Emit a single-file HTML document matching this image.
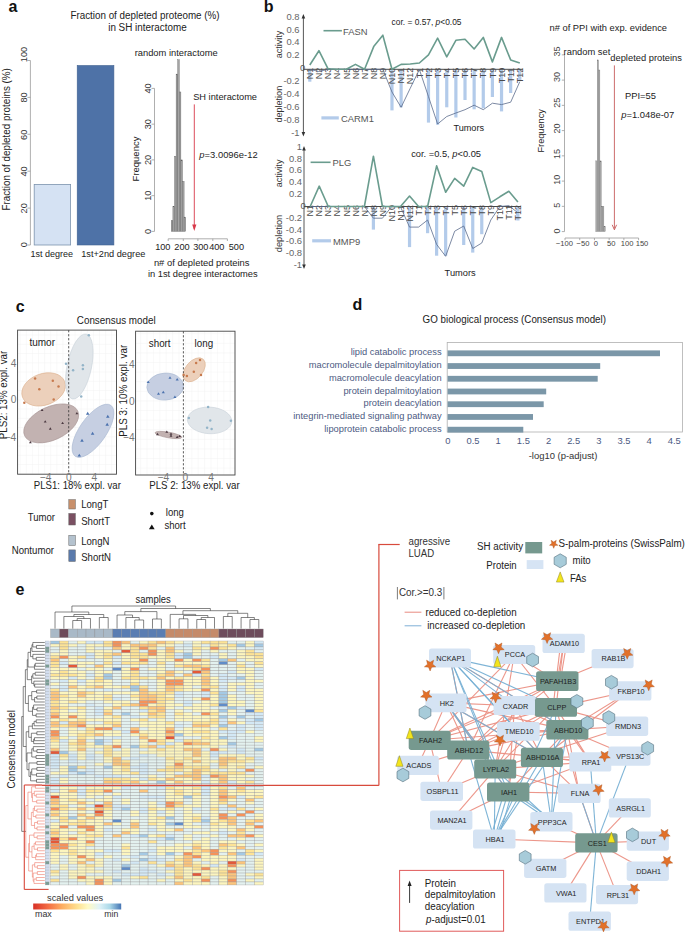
<!DOCTYPE html>
<html><head><meta charset="utf-8"><style>
html,body{margin:0;padding:0;background:#fff;width:685px;height:932px;overflow:hidden}
svg{display:block}
text{font-family:"Liberation Sans",sans-serif}
</style></head><body>
<svg width="685" height="932" viewBox="0 0 685 932">
<text x="8.60" y="12.20" font-size="16" fill="#111" font-weight="bold">a</text>
<text x="263.80" y="12.40" font-size="16" fill="#111" font-weight="bold">b</text>
<text x="15.80" y="311.80" font-size="16" fill="#111" font-weight="bold">c</text>
<text x="352.40" y="310.30" font-size="16" fill="#111" font-weight="bold">d</text>
<text x="15.60" y="595.40" font-size="16" fill="#111" font-weight="bold">e</text>
<text x="70.40" y="19.00" font-size="10.39" fill="#222" textLength="149.2" lengthAdjust="spacingAndGlyphs">Fraction of depleted proteome (%)</text>
<text x="108.20" y="30.70" font-size="10.39" fill="#222" textLength="78.5" lengthAdjust="spacingAndGlyphs">in SH interactome</text>
<line x1="30.40" y1="60.50" x2="30.40" y2="245.00" stroke="#9a9a9a" stroke-width="0.8"/>
<line x1="27.40" y1="245.00" x2="30.40" y2="245.00" stroke="#9a9a9a" stroke-width="0.8"/>
<line x1="27.40" y1="208.10" x2="30.40" y2="208.10" stroke="#9a9a9a" stroke-width="0.8"/>
<line x1="27.40" y1="171.20" x2="30.40" y2="171.20" stroke="#9a9a9a" stroke-width="0.8"/>
<line x1="27.40" y1="134.30" x2="30.40" y2="134.30" stroke="#9a9a9a" stroke-width="0.8"/>
<line x1="27.40" y1="97.40" x2="30.40" y2="97.40" stroke="#9a9a9a" stroke-width="0.8"/>
<line x1="27.40" y1="60.50" x2="30.40" y2="60.50" stroke="#9a9a9a" stroke-width="0.8"/>
<text x="27.00" y="244.60" font-size="9.75" fill="#333" text-anchor="middle" textLength="5.12" lengthAdjust="spacingAndGlyphs" transform="rotate(-90 27.00 244.60)">0</text>
<text x="27.00" y="208.30" font-size="9.75" fill="#333" text-anchor="middle" textLength="10.23" lengthAdjust="spacingAndGlyphs" transform="rotate(-90 27.00 208.30)">20</text>
<text x="27.00" y="171.50" font-size="9.75" fill="#333" text-anchor="middle" textLength="10.23" lengthAdjust="spacingAndGlyphs" transform="rotate(-90 27.00 171.50)">40</text>
<text x="27.00" y="134.80" font-size="9.75" fill="#333" text-anchor="middle" textLength="10.23" lengthAdjust="spacingAndGlyphs" transform="rotate(-90 27.00 134.80)">60</text>
<text x="27.00" y="97.40" font-size="9.75" fill="#333" text-anchor="middle" textLength="10.23" lengthAdjust="spacingAndGlyphs" transform="rotate(-90 27.00 97.40)">80</text>
<text x="27.00" y="54.50" font-size="9.75" fill="#333" text-anchor="middle" textLength="15.35" lengthAdjust="spacingAndGlyphs" transform="rotate(-90 27.00 54.50)">100</text>
<text x="9.60" y="139.40" font-size="10.6" fill="#222" text-anchor="middle" textLength="142.4" lengthAdjust="spacingAndGlyphs" transform="rotate(-90 9.60 139.40)">Fraction of depleted proteins (%)</text>
<rect x="34.20" y="184.50" width="36.40" height="60.50" fill="#d5e2f3" stroke="#7c93ad" stroke-width="0.8" rx="0"/>
<rect x="77.20" y="65.50" width="36.70" height="179.50" fill="#4e72a7" stroke="#41628f" stroke-width="0.6" rx="0"/>
<text x="30.40" y="257.00" font-size="9.75" fill="#222" textLength="42.6" lengthAdjust="spacingAndGlyphs">1st degree</text>
<text x="81.20" y="257.00" font-size="9.75" fill="#222" textLength="64.19" lengthAdjust="spacingAndGlyphs">1st+2nd degree</text>
<text x="134.70" y="56.30" font-size="9.96" fill="#222" textLength="83" lengthAdjust="spacingAndGlyphs">random interactome</text>
<text x="193.20" y="100.30" font-size="9.96" fill="#222" textLength="63.8" lengthAdjust="spacingAndGlyphs">SH interactome</text>
<line x1="154.50" y1="88.40" x2="154.50" y2="231.40" stroke="#9a9a9a" stroke-width="0.8"/>
<line x1="151.50" y1="231.40" x2="154.50" y2="231.40" stroke="#9a9a9a" stroke-width="0.8"/>
<text x="151.00" y="231.40" font-size="9.75" fill="#333" text-anchor="middle" textLength="5.12" lengthAdjust="spacingAndGlyphs" transform="rotate(-90 151.00 231.40)">0</text>
<line x1="151.50" y1="195.65" x2="154.50" y2="195.65" stroke="#9a9a9a" stroke-width="0.8"/>
<text x="151.00" y="195.65" font-size="9.75" fill="#333" text-anchor="middle" textLength="10.23" lengthAdjust="spacingAndGlyphs" transform="rotate(-90 151.00 195.65)">10</text>
<line x1="151.50" y1="159.90" x2="154.50" y2="159.90" stroke="#9a9a9a" stroke-width="0.8"/>
<text x="151.00" y="159.90" font-size="9.75" fill="#333" text-anchor="middle" textLength="10.23" lengthAdjust="spacingAndGlyphs" transform="rotate(-90 151.00 159.90)">20</text>
<line x1="151.50" y1="124.15" x2="154.50" y2="124.15" stroke="#9a9a9a" stroke-width="0.8"/>
<text x="151.00" y="124.15" font-size="9.75" fill="#333" text-anchor="middle" textLength="10.23" lengthAdjust="spacingAndGlyphs" transform="rotate(-90 151.00 124.15)">30</text>
<line x1="151.50" y1="88.40" x2="154.50" y2="88.40" stroke="#9a9a9a" stroke-width="0.8"/>
<text x="151.00" y="88.40" font-size="9.75" fill="#333" text-anchor="middle" textLength="10.23" lengthAdjust="spacingAndGlyphs" transform="rotate(-90 151.00 88.40)">40</text>
<text x="139.40" y="159.00" font-size="9.96" fill="#222" text-anchor="middle" textLength="44.8" lengthAdjust="spacingAndGlyphs" transform="rotate(-90 139.40 159.00)">Frequency</text>
<rect x="171.20" y="220.68" width="1.70" height="10.73" fill="#a4a4a4" stroke="#5a5a5a" stroke-width="0.35" rx="0"/>
<rect x="172.90" y="206.38" width="1.60" height="25.03" fill="#a4a4a4" stroke="#5a5a5a" stroke-width="0.35" rx="0"/>
<rect x="174.50" y="156.32" width="1.60" height="75.08" fill="#a4a4a4" stroke="#5a5a5a" stroke-width="0.35" rx="0"/>
<rect x="176.10" y="74.10" width="1.60" height="157.30" fill="#a4a4a4" stroke="#5a5a5a" stroke-width="0.35" rx="0"/>
<rect x="177.70" y="59.80" width="1.60" height="171.60" fill="#a4a4a4" stroke="#5a5a5a" stroke-width="0.35" rx="0"/>
<rect x="179.30" y="91.97" width="1.60" height="139.43" fill="#a4a4a4" stroke="#5a5a5a" stroke-width="0.35" rx="0"/>
<rect x="180.90" y="159.90" width="1.60" height="71.50" fill="#a4a4a4" stroke="#5a5a5a" stroke-width="0.35" rx="0"/>
<rect x="182.50" y="181.35" width="1.60" height="50.05" fill="#a4a4a4" stroke="#5a5a5a" stroke-width="0.35" rx="0"/>
<rect x="184.10" y="217.10" width="1.60" height="14.30" fill="#a4a4a4" stroke="#5a5a5a" stroke-width="0.35" rx="0"/>
<line x1="194.30" y1="104.40" x2="194.30" y2="229.00" stroke="#d8394a" stroke-width="0.9"/>
<polygon points="192.20,224.50 196.40,224.50 194.30,231.00" fill="#d8394a" stroke="none" stroke-width="0"/>
<text x="199.30" y="158.00" font-size="9.96" fill="#222" font-style="italic" textLength="5.23" lengthAdjust="spacingAndGlyphs">p</text>
<text x="204.60" y="158.00" font-size="9.96" fill="#222" textLength="53.05" lengthAdjust="spacingAndGlyphs">=3.0096e-12</text>
<line x1="168.20" y1="238.80" x2="227.40" y2="238.80" stroke="#9a9a9a" stroke-width="0.8"/>
<line x1="168.20" y1="238.80" x2="168.20" y2="241.00" stroke="#9a9a9a" stroke-width="0.8"/>
<line x1="183.30" y1="238.80" x2="183.30" y2="241.00" stroke="#9a9a9a" stroke-width="0.8"/>
<line x1="197.90" y1="238.80" x2="197.90" y2="241.00" stroke="#9a9a9a" stroke-width="0.8"/>
<line x1="212.80" y1="238.80" x2="212.80" y2="241.00" stroke="#9a9a9a" stroke-width="0.8"/>
<line x1="227.40" y1="238.80" x2="227.40" y2="241.00" stroke="#9a9a9a" stroke-width="0.8"/>
<text x="162.80" y="249.70" font-size="9.75" fill="#222" text-anchor="middle" textLength="15.35" lengthAdjust="spacingAndGlyphs">100</text>
<text x="182.00" y="249.70" font-size="9.75" fill="#222" text-anchor="middle" textLength="15.35" lengthAdjust="spacingAndGlyphs">200</text>
<text x="200.80" y="249.70" font-size="9.75" fill="#222" text-anchor="middle" textLength="15.35" lengthAdjust="spacingAndGlyphs">300</text>
<text x="216.80" y="249.70" font-size="9.75" fill="#222" text-anchor="middle" textLength="15.35" lengthAdjust="spacingAndGlyphs">400</text>
<text x="236.40" y="249.70" font-size="9.75" fill="#222" text-anchor="middle" textLength="15.35" lengthAdjust="spacingAndGlyphs">500</text>
<text x="201.70" y="266.20" font-size="9.96" fill="#222" text-anchor="middle" textLength="95.63" lengthAdjust="spacingAndGlyphs">n# of depleted proteins</text>
<text x="202.80" y="277.20" font-size="9.96" fill="#222" text-anchor="middle" textLength="109.8" lengthAdjust="spacingAndGlyphs">in 1st degree interactomes</text>
<rect x="308.20" y="69.30" width="3.20" height="12.40" fill="#b3cbea" stroke="none" stroke-width="0" rx="0"/>
<rect x="390.37" y="69.30" width="3.20" height="41.10" fill="#b3cbea" stroke="none" stroke-width="0" rx="0"/>
<rect x="399.50" y="69.30" width="3.20" height="38.00" fill="#b3cbea" stroke="none" stroke-width="0" rx="0"/>
<rect x="426.89" y="69.30" width="3.20" height="53.30" fill="#b3cbea" stroke="none" stroke-width="0" rx="0"/>
<rect x="436.02" y="69.30" width="3.20" height="55.40" fill="#b3cbea" stroke="none" stroke-width="0" rx="0"/>
<rect x="445.15" y="69.30" width="3.20" height="38.00" fill="#b3cbea" stroke="none" stroke-width="0" rx="0"/>
<rect x="454.28" y="69.30" width="3.20" height="48.20" fill="#b3cbea" stroke="none" stroke-width="0" rx="0"/>
<rect x="463.41" y="69.30" width="3.20" height="30.70" fill="#b3cbea" stroke="none" stroke-width="0" rx="0"/>
<rect x="472.54" y="69.30" width="3.20" height="40.00" fill="#b3cbea" stroke="none" stroke-width="0" rx="0"/>
<rect x="481.67" y="69.30" width="3.20" height="39.00" fill="#b3cbea" stroke="none" stroke-width="0" rx="0"/>
<rect x="490.80" y="69.30" width="3.20" height="27.70" fill="#b3cbea" stroke="none" stroke-width="0" rx="0"/>
<rect x="499.93" y="69.30" width="3.20" height="42.10" fill="#b3cbea" stroke="none" stroke-width="0" rx="0"/>
<rect x="509.06" y="69.30" width="3.20" height="23.70" fill="#b3cbea" stroke="none" stroke-width="0" rx="0"/>
<rect x="518.19" y="69.30" width="3.20" height="11.40" fill="#b3cbea" stroke="none" stroke-width="0" rx="0"/>
<line x1="303.40" y1="69.30" x2="522.79" y2="69.30" stroke="#333" stroke-width="0.9"/>
<text x="313.00" y="67.70" font-size="9.54" fill="#4a4a4a" text-anchor="end" textLength="11.5" lengthAdjust="spacingAndGlyphs" transform="rotate(-90 313.00 67.70)">N1</text>
<text x="322.13" y="67.70" font-size="9.54" fill="#4a4a4a" text-anchor="end" textLength="11.5" lengthAdjust="spacingAndGlyphs" transform="rotate(-90 322.13 67.70)">N2</text>
<text x="331.26" y="67.70" font-size="9.54" fill="#4a4a4a" text-anchor="end" textLength="11.5" lengthAdjust="spacingAndGlyphs" transform="rotate(-90 331.26 67.70)">N3</text>
<text x="340.39" y="67.70" font-size="9.54" fill="#4a4a4a" text-anchor="end" textLength="11.5" lengthAdjust="spacingAndGlyphs" transform="rotate(-90 340.39 67.70)">N4</text>
<text x="349.52" y="67.70" font-size="9.54" fill="#4a4a4a" text-anchor="end" textLength="11.5" lengthAdjust="spacingAndGlyphs" transform="rotate(-90 349.52 67.70)">N5</text>
<text x="358.65" y="67.70" font-size="9.54" fill="#4a4a4a" text-anchor="end" textLength="11.5" lengthAdjust="spacingAndGlyphs" transform="rotate(-90 358.65 67.70)">N6</text>
<text x="367.78" y="67.70" font-size="9.54" fill="#4a4a4a" text-anchor="end" textLength="11.5" lengthAdjust="spacingAndGlyphs" transform="rotate(-90 367.78 67.70)">N7</text>
<text x="376.91" y="67.70" font-size="9.54" fill="#4a4a4a" text-anchor="end" textLength="11.5" lengthAdjust="spacingAndGlyphs" transform="rotate(-90 376.91 67.70)">N8</text>
<text x="386.04" y="67.70" font-size="9.54" fill="#4a4a4a" text-anchor="end" textLength="11.5" lengthAdjust="spacingAndGlyphs" transform="rotate(-90 386.04 67.70)">N9</text>
<text x="395.17" y="67.70" font-size="9.54" fill="#4a4a4a" text-anchor="end" textLength="16.51" lengthAdjust="spacingAndGlyphs" transform="rotate(-90 395.17 67.70)">N10</text>
<text x="404.30" y="67.70" font-size="9.54" fill="#4a4a4a" text-anchor="end" textLength="15.84" lengthAdjust="spacingAndGlyphs" transform="rotate(-90 404.30 67.70)">N11</text>
<text x="413.43" y="67.70" font-size="9.54" fill="#4a4a4a" text-anchor="end" textLength="16.51" lengthAdjust="spacingAndGlyphs" transform="rotate(-90 413.43 67.70)">N12</text>
<text x="422.56" y="67.70" font-size="9.54" fill="#4a4a4a" text-anchor="end" textLength="10.5" lengthAdjust="spacingAndGlyphs" transform="rotate(-90 422.56 67.70)">T1</text>
<text x="431.69" y="67.70" font-size="9.54" fill="#4a4a4a" text-anchor="end" textLength="10.5" lengthAdjust="spacingAndGlyphs" transform="rotate(-90 431.69 67.70)">T2</text>
<text x="440.82" y="67.70" font-size="9.54" fill="#4a4a4a" text-anchor="end" textLength="10.5" lengthAdjust="spacingAndGlyphs" transform="rotate(-90 440.82 67.70)">T3</text>
<text x="449.95" y="67.70" font-size="9.54" fill="#4a4a4a" text-anchor="end" textLength="10.5" lengthAdjust="spacingAndGlyphs" transform="rotate(-90 449.95 67.70)">T4</text>
<text x="459.08" y="67.70" font-size="9.54" fill="#4a4a4a" text-anchor="end" textLength="10.5" lengthAdjust="spacingAndGlyphs" transform="rotate(-90 459.08 67.70)">T5</text>
<text x="468.21" y="67.70" font-size="9.54" fill="#4a4a4a" text-anchor="end" textLength="10.5" lengthAdjust="spacingAndGlyphs" transform="rotate(-90 468.21 67.70)">T6</text>
<text x="477.34" y="67.70" font-size="9.54" fill="#4a4a4a" text-anchor="end" textLength="10.5" lengthAdjust="spacingAndGlyphs" transform="rotate(-90 477.34 67.70)">T7</text>
<text x="486.47" y="67.70" font-size="9.54" fill="#4a4a4a" text-anchor="end" textLength="10.5" lengthAdjust="spacingAndGlyphs" transform="rotate(-90 486.47 67.70)">T8</text>
<text x="495.60" y="67.70" font-size="9.54" fill="#4a4a4a" text-anchor="end" textLength="10.5" lengthAdjust="spacingAndGlyphs" transform="rotate(-90 495.60 67.70)">T9</text>
<text x="504.73" y="67.70" font-size="9.54" fill="#4a4a4a" text-anchor="end" textLength="15.51" lengthAdjust="spacingAndGlyphs" transform="rotate(-90 504.73 67.70)">T10</text>
<text x="513.86" y="67.70" font-size="9.54" fill="#4a4a4a" text-anchor="end" textLength="14.84" lengthAdjust="spacingAndGlyphs" transform="rotate(-90 513.86 67.70)">T11</text>
<text x="522.99" y="67.70" font-size="9.54" fill="#4a4a4a" text-anchor="end" textLength="15.51" lengthAdjust="spacingAndGlyphs" transform="rotate(-90 522.99 67.70)">T12</text>
<polyline points="309.80,69.30 318.93,71.50 328.06,69.30 337.19,69.30 346.32,69.30 355.45,69.30 364.58,69.30 373.71,69.30 382.84,69.30 391.97,92.00 401.10,107.30 410.23,88.30 419.36,69.50 428.49,96.70 437.62,124.00 446.75,116.50 455.88,113.00 465.01,109.70 474.14,105.20 483.27,109.70 492.40,103.20 501.53,104.60 510.66,102.20 519.79,81.70" fill="none" stroke="#5b6b8c" stroke-width="0.8" stroke-linejoin="round"/>
<polyline points="309.80,65.00 318.93,50.70 328.06,68.80 337.19,69.30 346.32,69.30 355.45,64.40 364.58,69.30 373.71,46.60 382.84,35.20 391.97,69.30 401.10,64.40 410.23,64.00 419.36,63.00 428.49,54.80 437.62,38.20 446.75,56.80 455.88,40.30 465.01,39.20 474.14,49.00 483.27,37.40 492.40,61.90 501.53,37.40 510.66,59.90 519.79,63.00" fill="none" stroke="#6a9c8e" stroke-width="1.6" stroke-linejoin="round"/>
<line x1="303.40" y1="17.00" x2="303.40" y2="133.50" stroke="#444" stroke-width="0.9"/>
<polygon points="301.60,18.50 305.20,18.50 303.40,14.00" fill="#333" stroke="none" stroke-width="0"/>
<polygon points="301.60,132.00 305.20,132.00 303.40,136.50" fill="#333" stroke="none" stroke-width="0"/>
<text x="299.60" y="19.70" font-size="9.96" fill="#666" text-anchor="end" textLength="13.07" lengthAdjust="spacingAndGlyphs">0.8</text>
<text x="299.60" y="32.50" font-size="9.96" fill="#666" text-anchor="end" textLength="13.07" lengthAdjust="spacingAndGlyphs">0.6</text>
<text x="299.60" y="45.30" font-size="9.96" fill="#666" text-anchor="end" textLength="13.07" lengthAdjust="spacingAndGlyphs">0.4</text>
<text x="299.60" y="58.20" font-size="9.96" fill="#666" text-anchor="end" textLength="13.07" lengthAdjust="spacingAndGlyphs">0.2</text>
<text x="302.60" y="70.90" font-size="9.96" fill="#555" text-anchor="middle" textLength="5.23" lengthAdjust="spacingAndGlyphs">0</text>
<text x="299.60" y="84.00" font-size="9.96" fill="#666" text-anchor="end" textLength="16.2" lengthAdjust="spacingAndGlyphs">-0.2</text>
<text x="299.60" y="96.90" font-size="9.96" fill="#666" text-anchor="end" textLength="16.2" lengthAdjust="spacingAndGlyphs">-0.4</text>
<text x="299.60" y="109.80" font-size="9.96" fill="#666" text-anchor="end" textLength="16.2" lengthAdjust="spacingAndGlyphs">-0.6</text>
<text x="299.60" y="122.70" font-size="9.96" fill="#666" text-anchor="end" textLength="16.2" lengthAdjust="spacingAndGlyphs">-0.8</text>
<text x="299.60" y="135.80" font-size="9.96" fill="#666" text-anchor="end" textLength="8.36" lengthAdjust="spacingAndGlyphs">-1</text>
<line x1="323.50" y1="30.70" x2="341.90" y2="30.70" stroke="#6a9c8e" stroke-width="1.6"/>
<text x="343.00" y="34.60" font-size="9.96" fill="#555" textLength="24.55" lengthAdjust="spacingAndGlyphs">FASN</text>
<line x1="321.40" y1="117.90" x2="338.80" y2="117.90" stroke="#b3cbea" stroke-width="3.2"/>
<text x="341.00" y="121.60" font-size="9.96" fill="#555" textLength="32.9" lengthAdjust="spacingAndGlyphs">CARM1</text>
<text x="282.20" y="44.50" font-size="9.54" fill="#333" text-anchor="middle" textLength="27.5" lengthAdjust="spacingAndGlyphs" transform="rotate(-90 282.20 44.50)">activity</text>
<text x="282.20" y="104.20" font-size="9.54" fill="#333" text-anchor="middle" textLength="36.8" lengthAdjust="spacingAndGlyphs" transform="rotate(-90 282.20 104.20)">depletion</text>
<text x="391.60" y="24.50" font-size="8.9" fill="#222" textLength="69.9" lengthAdjust="spacingAndGlyphs">cor. = 0.57, <tspan font-style="italic">p</tspan>&lt;0.05</text>
<text x="453.40" y="130.80" font-size="9.75" fill="#222" textLength="30.6" lengthAdjust="spacingAndGlyphs">Tumors</text>
<rect x="371.81" y="206.50" width="3.20" height="23.10" fill="#b3cbea" stroke="none" stroke-width="0" rx="0"/>
<rect x="407.93" y="206.50" width="3.20" height="40.60" fill="#b3cbea" stroke="none" stroke-width="0" rx="0"/>
<rect x="425.99" y="206.50" width="3.20" height="26.70" fill="#b3cbea" stroke="none" stroke-width="0" rx="0"/>
<rect x="435.02" y="206.50" width="3.20" height="49.20" fill="#b3cbea" stroke="none" stroke-width="0" rx="0"/>
<rect x="444.05" y="206.50" width="3.20" height="49.20" fill="#b3cbea" stroke="none" stroke-width="0" rx="0"/>
<rect x="462.11" y="206.50" width="3.20" height="38.50" fill="#b3cbea" stroke="none" stroke-width="0" rx="0"/>
<rect x="471.14" y="206.50" width="3.20" height="46.10" fill="#b3cbea" stroke="none" stroke-width="0" rx="0"/>
<rect x="480.17" y="206.50" width="3.20" height="27.70" fill="#b3cbea" stroke="none" stroke-width="0" rx="0"/>
<rect x="516.29" y="206.50" width="3.20" height="14.00" fill="#b3cbea" stroke="none" stroke-width="0" rx="0"/>
<line x1="304.00" y1="206.50" x2="520.89" y2="206.50" stroke="#333" stroke-width="0.9"/>
<text x="313.40" y="204.90" font-size="9.54" fill="#4a4a4a" text-anchor="end" textLength="11.5" lengthAdjust="spacingAndGlyphs" transform="rotate(-90 313.40 204.90)">N1</text>
<text x="322.43" y="204.90" font-size="9.54" fill="#4a4a4a" text-anchor="end" textLength="11.5" lengthAdjust="spacingAndGlyphs" transform="rotate(-90 322.43 204.90)">N2</text>
<text x="331.46" y="204.90" font-size="9.54" fill="#4a4a4a" text-anchor="end" textLength="11.5" lengthAdjust="spacingAndGlyphs" transform="rotate(-90 331.46 204.90)">N3</text>
<text x="340.49" y="204.90" font-size="9.54" fill="#4a4a4a" text-anchor="end" textLength="11.5" lengthAdjust="spacingAndGlyphs" transform="rotate(-90 340.49 204.90)">N4</text>
<text x="349.52" y="204.90" font-size="9.54" fill="#4a4a4a" text-anchor="end" textLength="11.5" lengthAdjust="spacingAndGlyphs" transform="rotate(-90 349.52 204.90)">N5</text>
<text x="358.55" y="204.90" font-size="9.54" fill="#4a4a4a" text-anchor="end" textLength="11.5" lengthAdjust="spacingAndGlyphs" transform="rotate(-90 358.55 204.90)">N6</text>
<text x="367.58" y="204.90" font-size="9.54" fill="#4a4a4a" text-anchor="end" textLength="11.5" lengthAdjust="spacingAndGlyphs" transform="rotate(-90 367.58 204.90)">N7</text>
<text x="376.61" y="204.90" font-size="9.54" fill="#4a4a4a" text-anchor="end" textLength="11.5" lengthAdjust="spacingAndGlyphs" transform="rotate(-90 376.61 204.90)">N8</text>
<text x="385.64" y="204.90" font-size="9.54" fill="#4a4a4a" text-anchor="end" textLength="11.5" lengthAdjust="spacingAndGlyphs" transform="rotate(-90 385.64 204.90)">N9</text>
<text x="394.67" y="204.90" font-size="9.54" fill="#4a4a4a" text-anchor="end" textLength="16.51" lengthAdjust="spacingAndGlyphs" transform="rotate(-90 394.67 204.90)">N10</text>
<text x="403.70" y="204.90" font-size="9.54" fill="#4a4a4a" text-anchor="end" textLength="15.84" lengthAdjust="spacingAndGlyphs" transform="rotate(-90 403.70 204.90)">N11</text>
<text x="412.73" y="204.90" font-size="9.54" fill="#4a4a4a" text-anchor="end" textLength="16.51" lengthAdjust="spacingAndGlyphs" transform="rotate(-90 412.73 204.90)">N12</text>
<text x="421.76" y="204.90" font-size="9.54" fill="#4a4a4a" text-anchor="end" textLength="10.5" lengthAdjust="spacingAndGlyphs" transform="rotate(-90 421.76 204.90)">T1</text>
<text x="430.79" y="204.90" font-size="9.54" fill="#4a4a4a" text-anchor="end" textLength="10.5" lengthAdjust="spacingAndGlyphs" transform="rotate(-90 430.79 204.90)">T2</text>
<text x="439.82" y="204.90" font-size="9.54" fill="#4a4a4a" text-anchor="end" textLength="10.5" lengthAdjust="spacingAndGlyphs" transform="rotate(-90 439.82 204.90)">T3</text>
<text x="448.85" y="204.90" font-size="9.54" fill="#4a4a4a" text-anchor="end" textLength="10.5" lengthAdjust="spacingAndGlyphs" transform="rotate(-90 448.85 204.90)">T4</text>
<text x="457.88" y="204.90" font-size="9.54" fill="#4a4a4a" text-anchor="end" textLength="10.5" lengthAdjust="spacingAndGlyphs" transform="rotate(-90 457.88 204.90)">T5</text>
<text x="466.91" y="204.90" font-size="9.54" fill="#4a4a4a" text-anchor="end" textLength="10.5" lengthAdjust="spacingAndGlyphs" transform="rotate(-90 466.91 204.90)">T6</text>
<text x="475.94" y="204.90" font-size="9.54" fill="#4a4a4a" text-anchor="end" textLength="10.5" lengthAdjust="spacingAndGlyphs" transform="rotate(-90 475.94 204.90)">T7</text>
<text x="484.97" y="204.90" font-size="9.54" fill="#4a4a4a" text-anchor="end" textLength="10.5" lengthAdjust="spacingAndGlyphs" transform="rotate(-90 484.97 204.90)">T8</text>
<text x="494.00" y="204.90" font-size="9.54" fill="#4a4a4a" text-anchor="end" textLength="10.5" lengthAdjust="spacingAndGlyphs" transform="rotate(-90 494.00 204.90)">T9</text>
<text x="503.03" y="204.90" font-size="9.54" fill="#4a4a4a" text-anchor="end" textLength="15.51" lengthAdjust="spacingAndGlyphs" transform="rotate(-90 503.03 204.90)">T10</text>
<text x="512.06" y="204.90" font-size="9.54" fill="#4a4a4a" text-anchor="end" textLength="14.84" lengthAdjust="spacingAndGlyphs" transform="rotate(-90 512.06 204.90)">T11</text>
<text x="521.09" y="204.90" font-size="9.54" fill="#4a4a4a" text-anchor="end" textLength="15.51" lengthAdjust="spacingAndGlyphs" transform="rotate(-90 521.09 204.90)">T12</text>
<polyline points="310.20,206.50 319.23,206.50 328.26,206.50 337.29,206.50 346.32,206.50 355.35,206.50 364.38,206.50 373.41,218.20 382.44,218.20 391.47,206.80 400.50,206.80 409.53,227.10 418.56,227.10 427.59,220.00 436.62,244.40 445.65,256.30 454.68,231.20 463.71,226.00 472.74,248.50 481.77,243.00 490.80,220.00 499.83,206.60 508.86,205.60 517.89,212.80" fill="none" stroke="#5b6b8c" stroke-width="0.8" stroke-linejoin="round"/>
<polyline points="310.20,206.50 319.23,186.20 328.26,206.50 337.29,206.50 346.32,206.50 355.35,206.50 364.38,206.50 373.41,156.20 382.44,206.50 391.47,206.50 400.50,206.50 409.53,196.00 418.56,206.50 427.59,206.50 436.62,165.80 445.65,192.30 454.68,178.40 463.71,186.20 472.74,167.40 481.77,171.50 490.80,202.60 499.83,196.80 508.86,191.30 517.89,202.00" fill="none" stroke="#6a9c8e" stroke-width="1.6" stroke-linejoin="round"/>
<line x1="304.00" y1="149.00" x2="304.00" y2="266.00" stroke="#444" stroke-width="0.9"/>
<polygon points="302.20,150.50 305.80,150.50 304.00,146.00" fill="#333" stroke="none" stroke-width="0"/>
<polygon points="302.20,264.50 305.80,264.50 304.00,269.00" fill="#333" stroke="none" stroke-width="0"/>
<text x="302.00" y="150.10" font-size="9.96" fill="#666" text-anchor="end" textLength="5.23" lengthAdjust="spacingAndGlyphs">1</text>
<text x="302.00" y="161.90" font-size="9.96" fill="#666" text-anchor="end" textLength="13.07" lengthAdjust="spacingAndGlyphs">0.8</text>
<text x="302.00" y="173.40" font-size="9.96" fill="#666" text-anchor="end" textLength="13.07" lengthAdjust="spacingAndGlyphs">0.6</text>
<text x="302.00" y="185.00" font-size="9.96" fill="#666" text-anchor="end" textLength="13.07" lengthAdjust="spacingAndGlyphs">0.4</text>
<text x="302.00" y="196.70" font-size="9.96" fill="#666" text-anchor="end" textLength="13.07" lengthAdjust="spacingAndGlyphs">0.2</text>
<text x="303.20" y="208.50" font-size="9.96" fill="#555" text-anchor="middle" textLength="5.23" lengthAdjust="spacingAndGlyphs">0</text>
<text x="302.00" y="220.80" font-size="9.96" fill="#666" text-anchor="end" textLength="16.2" lengthAdjust="spacingAndGlyphs">-0.2</text>
<text x="302.00" y="232.60" font-size="9.96" fill="#666" text-anchor="end" textLength="16.2" lengthAdjust="spacingAndGlyphs">-0.4</text>
<text x="302.00" y="244.30" font-size="9.96" fill="#666" text-anchor="end" textLength="16.2" lengthAdjust="spacingAndGlyphs">-0.6</text>
<text x="302.00" y="255.90" font-size="9.96" fill="#666" text-anchor="end" textLength="16.2" lengthAdjust="spacingAndGlyphs">-0.8</text>
<text x="302.00" y="267.50" font-size="9.96" fill="#666" text-anchor="end" textLength="8.36" lengthAdjust="spacingAndGlyphs">-1</text>
<line x1="310.60" y1="162.30" x2="330.60" y2="162.30" stroke="#6a9c8e" stroke-width="1.6"/>
<text x="332.50" y="166.00" font-size="9.96" fill="#555" textLength="18.81" lengthAdjust="spacingAndGlyphs">PLG</text>
<line x1="312.20" y1="240.80" x2="331.00" y2="240.80" stroke="#b3cbea" stroke-width="3.2"/>
<text x="333.00" y="244.50" font-size="9.96" fill="#555" textLength="27.16" lengthAdjust="spacingAndGlyphs">MMP9</text>
<text x="281.80" y="173.40" font-size="9.54" fill="#333" text-anchor="middle" textLength="27.6" lengthAdjust="spacingAndGlyphs" transform="rotate(-90 281.80 173.40)">activity</text>
<text x="281.80" y="233.50" font-size="9.54" fill="#333" text-anchor="middle" textLength="37.4" lengthAdjust="spacingAndGlyphs" transform="rotate(-90 281.80 233.50)">depletion</text>
<text x="411.20" y="156.60" font-size="8.9" fill="#222" textLength="69.8" lengthAdjust="spacingAndGlyphs">cor. =0.5, <tspan font-style="italic">p</tspan>&lt;0.05</text>
<text x="444.60" y="275.50" font-size="9.75" fill="#222" textLength="31" lengthAdjust="spacingAndGlyphs">Tumors</text>
<text x="549.60" y="31.10" font-size="9.96" fill="#222" textLength="117.4" lengthAdjust="spacingAndGlyphs">n# of PPI with exp. evidence</text>
<line x1="564.50" y1="54.00" x2="564.50" y2="231.60" stroke="#9a9a9a" stroke-width="0.8"/>
<line x1="561.80" y1="231.60" x2="564.50" y2="231.60" stroke="#9a9a9a" stroke-width="0.8"/>
<text x="560.00" y="231.00" font-size="9.54" fill="#444" text-anchor="middle" textLength="5.0" lengthAdjust="spacingAndGlyphs" transform="rotate(-90 560.00 231.00)">0</text>
<line x1="561.80" y1="206.35" x2="564.50" y2="206.35" stroke="#9a9a9a" stroke-width="0.8"/>
<text x="560.00" y="205.35" font-size="9.54" fill="#444" text-anchor="middle" textLength="5.0" lengthAdjust="spacingAndGlyphs" transform="rotate(-90 560.00 205.35)">5</text>
<line x1="561.80" y1="181.10" x2="564.50" y2="181.10" stroke="#9a9a9a" stroke-width="0.8"/>
<text x="560.00" y="179.70" font-size="9.54" fill="#444" text-anchor="middle" textLength="10.01" lengthAdjust="spacingAndGlyphs" transform="rotate(-90 560.00 179.70)">10</text>
<line x1="561.80" y1="155.85" x2="564.50" y2="155.85" stroke="#9a9a9a" stroke-width="0.8"/>
<text x="560.00" y="154.05" font-size="9.54" fill="#444" text-anchor="middle" textLength="10.01" lengthAdjust="spacingAndGlyphs" transform="rotate(-90 560.00 154.05)">15</text>
<line x1="561.80" y1="130.60" x2="564.50" y2="130.60" stroke="#9a9a9a" stroke-width="0.8"/>
<text x="560.00" y="128.40" font-size="9.54" fill="#444" text-anchor="middle" textLength="10.01" lengthAdjust="spacingAndGlyphs" transform="rotate(-90 560.00 128.40)">20</text>
<line x1="561.80" y1="105.35" x2="564.50" y2="105.35" stroke="#9a9a9a" stroke-width="0.8"/>
<text x="560.00" y="102.75" font-size="9.54" fill="#444" text-anchor="middle" textLength="10.01" lengthAdjust="spacingAndGlyphs" transform="rotate(-90 560.00 102.75)">25</text>
<line x1="561.80" y1="80.10" x2="564.50" y2="80.10" stroke="#9a9a9a" stroke-width="0.8"/>
<text x="560.00" y="77.10" font-size="9.54" fill="#444" text-anchor="middle" textLength="10.01" lengthAdjust="spacingAndGlyphs" transform="rotate(-90 560.00 77.10)">30</text>
<line x1="561.80" y1="54.85" x2="564.50" y2="54.85" stroke="#9a9a9a" stroke-width="0.8"/>
<text x="560.00" y="51.45" font-size="9.54" fill="#444" text-anchor="middle" textLength="10.01" lengthAdjust="spacingAndGlyphs" transform="rotate(-90 560.00 51.45)">35</text>
<text x="544.30" y="130.80" font-size="9.75" fill="#222" text-anchor="middle" textLength="43.46" lengthAdjust="spacingAndGlyphs" transform="rotate(-90 544.30 130.80)">Frequency</text>
<text x="563.60" y="54.50" font-size="9.96" fill="#222" textLength="46.7" lengthAdjust="spacingAndGlyphs">random set</text>
<text x="610.30" y="60.70" font-size="9.96" fill="#222" textLength="71.6" lengthAdjust="spacingAndGlyphs">depleted proteins</text>
<rect x="595.80" y="160.90" width="1.40" height="70.70" fill="#a8a8a8" stroke="#707070" stroke-width="0.3" rx="0"/>
<rect x="597.20" y="59.90" width="1.30" height="171.70" fill="#a8a8a8" stroke="#707070" stroke-width="0.3" rx="0"/>
<rect x="598.50" y="70.00" width="1.40" height="161.60" fill="#a8a8a8" stroke="#707070" stroke-width="0.3" rx="0"/>
<rect x="599.90" y="160.90" width="1.40" height="70.70" fill="#a8a8a8" stroke="#707070" stroke-width="0.3" rx="0"/>
<rect x="601.30" y="206.35" width="1.30" height="25.25" fill="#a8a8a8" stroke="#707070" stroke-width="0.3" rx="0"/>
<rect x="602.60" y="206.35" width="1.30" height="25.25" fill="#a8a8a8" stroke="#707070" stroke-width="0.3" rx="0"/>
<rect x="603.90" y="226.55" width="1.40" height="5.05" fill="#a8a8a8" stroke="#707070" stroke-width="0.3" rx="0"/>
<line x1="614.40" y1="65.40" x2="614.40" y2="228.50" stroke="#c04848" stroke-width="0.8"/>
<polyline points="612.20,224.80 614.40,229.80 616.60,224.80" fill="none" stroke="#c04848" stroke-width="0.8" stroke-linejoin="round"/>
<text x="625.00" y="99.00" font-size="9.96" fill="#222" textLength="31" lengthAdjust="spacingAndGlyphs">PPI=55</text>
<text x="621.20" y="118.30" font-size="9.96" fill="#222" font-style="italic" textLength="5.23" lengthAdjust="spacingAndGlyphs">p</text>
<text x="626.40" y="118.30" font-size="9.96" fill="#222" textLength="47.82" lengthAdjust="spacingAndGlyphs">=1.048e-07</text>
<line x1="565.00" y1="238.00" x2="638.60" y2="238.00" stroke="#9a9a9a" stroke-width="0.8"/>
<line x1="565.00" y1="238.00" x2="565.00" y2="240.20" stroke="#9a9a9a" stroke-width="0.8"/>
<text x="564.50" y="246.00" font-size="8.06" fill="#444" text-anchor="middle" textLength="17.12" lengthAdjust="spacingAndGlyphs">−100</text>
<line x1="579.72" y1="238.00" x2="579.72" y2="240.20" stroke="#9a9a9a" stroke-width="0.8"/>
<text x="583.00" y="246.00" font-size="8.06" fill="#444" text-anchor="middle" textLength="12.89" lengthAdjust="spacingAndGlyphs">−50</text>
<line x1="594.44" y1="238.00" x2="594.44" y2="240.20" stroke="#9a9a9a" stroke-width="0.8"/>
<text x="595.90" y="246.00" font-size="8.06" fill="#444" text-anchor="middle" textLength="4.23" lengthAdjust="spacingAndGlyphs">0</text>
<line x1="609.16" y1="238.00" x2="609.16" y2="240.20" stroke="#9a9a9a" stroke-width="0.8"/>
<text x="611.20" y="246.00" font-size="8.06" fill="#444" text-anchor="middle" textLength="8.45" lengthAdjust="spacingAndGlyphs">50</text>
<line x1="623.88" y1="238.00" x2="623.88" y2="240.20" stroke="#9a9a9a" stroke-width="0.8"/>
<text x="627.20" y="246.00" font-size="8.06" fill="#444" text-anchor="middle" textLength="12.68" lengthAdjust="spacingAndGlyphs">100</text>
<line x1="638.60" y1="238.00" x2="638.60" y2="240.20" stroke="#9a9a9a" stroke-width="0.8"/>
<text x="642.00" y="246.00" font-size="8.06" fill="#444" text-anchor="middle" textLength="12.68" lengthAdjust="spacingAndGlyphs">150</text>
<text x="76.80" y="323.50" font-size="10.44" fill="#222" textLength="78.84" lengthAdjust="spacingAndGlyphs">Consensus model</text>
<rect x="17.60" y="330.10" width="98.90" height="144.10" fill="#fff" stroke="none" stroke-width="0" rx="0"/>
<line x1="20.20" y1="330.10" x2="20.20" y2="474.20" stroke="#f3f3f3" stroke-width="0.5"/>
<line x1="26.30" y1="330.10" x2="26.30" y2="474.20" stroke="#f3f3f3" stroke-width="0.5"/>
<line x1="32.40" y1="330.10" x2="32.40" y2="474.20" stroke="#f3f3f3" stroke-width="0.5"/>
<line x1="38.50" y1="330.10" x2="38.50" y2="474.20" stroke="#f3f3f3" stroke-width="0.5"/>
<line x1="44.60" y1="330.10" x2="44.60" y2="474.20" stroke="#f3f3f3" stroke-width="0.5"/>
<line x1="50.70" y1="330.10" x2="50.70" y2="474.20" stroke="#f3f3f3" stroke-width="0.5"/>
<line x1="56.80" y1="330.10" x2="56.80" y2="474.20" stroke="#f3f3f3" stroke-width="0.5"/>
<line x1="62.90" y1="330.10" x2="62.90" y2="474.20" stroke="#f3f3f3" stroke-width="0.5"/>
<line x1="69.00" y1="330.10" x2="69.00" y2="474.20" stroke="#f3f3f3" stroke-width="0.5"/>
<line x1="75.10" y1="330.10" x2="75.10" y2="474.20" stroke="#f3f3f3" stroke-width="0.5"/>
<line x1="81.20" y1="330.10" x2="81.20" y2="474.20" stroke="#f3f3f3" stroke-width="0.5"/>
<line x1="87.30" y1="330.10" x2="87.30" y2="474.20" stroke="#f3f3f3" stroke-width="0.5"/>
<line x1="93.40" y1="330.10" x2="93.40" y2="474.20" stroke="#f3f3f3" stroke-width="0.5"/>
<line x1="99.50" y1="330.10" x2="99.50" y2="474.20" stroke="#f3f3f3" stroke-width="0.5"/>
<line x1="105.60" y1="330.10" x2="105.60" y2="474.20" stroke="#f3f3f3" stroke-width="0.5"/>
<line x1="111.70" y1="330.10" x2="111.70" y2="474.20" stroke="#f3f3f3" stroke-width="0.5"/>
<line x1="17.60" y1="473.80" x2="116.50" y2="473.80" stroke="#f3f3f3" stroke-width="0.5"/>
<line x1="17.60" y1="464.55" x2="116.50" y2="464.55" stroke="#f3f3f3" stroke-width="0.5"/>
<line x1="17.60" y1="455.30" x2="116.50" y2="455.30" stroke="#f3f3f3" stroke-width="0.5"/>
<line x1="17.60" y1="446.05" x2="116.50" y2="446.05" stroke="#f3f3f3" stroke-width="0.5"/>
<line x1="17.60" y1="436.80" x2="116.50" y2="436.80" stroke="#f3f3f3" stroke-width="0.5"/>
<line x1="17.60" y1="427.55" x2="116.50" y2="427.55" stroke="#f3f3f3" stroke-width="0.5"/>
<line x1="17.60" y1="418.30" x2="116.50" y2="418.30" stroke="#f3f3f3" stroke-width="0.5"/>
<line x1="17.60" y1="409.05" x2="116.50" y2="409.05" stroke="#f3f3f3" stroke-width="0.5"/>
<line x1="17.60" y1="399.80" x2="116.50" y2="399.80" stroke="#f3f3f3" stroke-width="0.5"/>
<line x1="17.60" y1="390.55" x2="116.50" y2="390.55" stroke="#f3f3f3" stroke-width="0.5"/>
<line x1="17.60" y1="381.30" x2="116.50" y2="381.30" stroke="#f3f3f3" stroke-width="0.5"/>
<line x1="17.60" y1="372.05" x2="116.50" y2="372.05" stroke="#f3f3f3" stroke-width="0.5"/>
<line x1="17.60" y1="362.80" x2="116.50" y2="362.80" stroke="#f3f3f3" stroke-width="0.5"/>
<line x1="17.60" y1="353.55" x2="116.50" y2="353.55" stroke="#f3f3f3" stroke-width="0.5"/>
<line x1="17.60" y1="344.30" x2="116.50" y2="344.30" stroke="#f3f3f3" stroke-width="0.5"/>
<line x1="17.60" y1="335.05" x2="116.50" y2="335.05" stroke="#f3f3f3" stroke-width="0.5"/>
<ellipse cx="43.6" cy="389.4" rx="22.5" ry="15.7" transform="rotate(-20 43.6 389.4)" fill="#ecd0bb" stroke="#dcb08e" stroke-width="0.6" fill-opacity="1"/>
<ellipse cx="79.3" cy="366.5" rx="12.2" ry="33.1" transform="rotate(12 79.3 366.5)" fill="#e1e6ea" stroke="#c9d2da" stroke-width="0.6" fill-opacity="1"/>
<ellipse cx="51.2" cy="423.4" rx="29.3" ry="16.6" transform="rotate(-25 51.2 423.4)" fill="#c2b2b1" stroke="#a89494" stroke-width="0.6" fill-opacity="1"/>
<ellipse cx="93.0" cy="430.8" rx="31.1" ry="13.3" transform="rotate(-55 93.0 430.8)" fill="#c6cfe2" stroke="#a9b8d2" stroke-width="0.6" fill-opacity="1"/>
<line x1="68.70" y1="330.10" x2="68.70" y2="474.20" stroke="#333" stroke-width="0.8" stroke-dasharray="2.2,1.8"/>
<circle cx="35.1" cy="378.5" r="1.25" fill="#c77a4e"/>
<circle cx="52.8" cy="380.8" r="1.25" fill="#c77a4e"/>
<circle cx="39.3" cy="389.3" r="1.25" fill="#c77a4e"/>
<circle cx="58.5" cy="386.5" r="1.25" fill="#c77a4e"/>
<circle cx="53.7" cy="399.4" r="1.25" fill="#c77a4e"/>
<circle cx="24.3" cy="402.8" r="1.25" fill="#c77a4e"/>
<circle cx="88.8" cy="335.2" r="1.25" fill="#93b4c8"/>
<circle cx="66" cy="363.7" r="1.25" fill="#93b4c8"/>
<circle cx="73.1" cy="370.3" r="1.25" fill="#93b4c8"/>
<circle cx="82.9" cy="365.2" r="1.25" fill="#93b4c8"/>
<circle cx="82.9" cy="369" r="1.25" fill="#93b4c8"/>
<circle cx="81.2" cy="396.5" r="1.25" fill="#93b4c8"/>
<polygon points="40.67,411.07 43.53,411.07 42.10,408.73" fill="#4a3840" stroke="none" stroke-width="0"/>
<polygon points="75.47,414.37 78.33,414.37 76.90,412.03" fill="#4a3840" stroke="none" stroke-width="0"/>
<polygon points="43.77,422.47 46.63,422.47 45.20,420.13" fill="#4a3840" stroke="none" stroke-width="0"/>
<polygon points="61.17,423.97 64.03,423.97 62.60,421.63" fill="#4a3840" stroke="none" stroke-width="0"/>
<polygon points="48.87,429.67 51.73,429.67 50.30,427.33" fill="#4a3840" stroke="none" stroke-width="0"/>
<polygon points="28.97,443.37 31.83,443.37 30.40,441.03" fill="#4a3840" stroke="none" stroke-width="0"/>
<polygon points="85.94,414.64 89.46,414.64 87.70,411.76" fill="#4b72ae" stroke="none" stroke-width="0"/>
<polygon points="106.04,417.64 109.56,417.64 107.80,414.76" fill="#4b72ae" stroke="none" stroke-width="0"/>
<polygon points="105.44,425.64 108.96,425.64 107.20,422.76" fill="#4b72ae" stroke="none" stroke-width="0"/>
<polygon points="90.84,434.74 94.36,434.74 92.60,431.86" fill="#4b72ae" stroke="none" stroke-width="0"/>
<polygon points="80.24,441.74 83.76,441.74 82.00,438.86" fill="#4b72ae" stroke="none" stroke-width="0"/>
<polygon points="77.54,456.54 81.06,456.54 79.30,453.66" fill="#4b72ae" stroke="none" stroke-width="0"/>
<rect x="17.60" y="330.10" width="98.90" height="144.10" fill="none" stroke="#444" stroke-width="0.9" rx="0"/>
<text x="29.40" y="346.20" font-size="10.6" fill="#222" textLength="25.6" lengthAdjust="spacingAndGlyphs">tumor</text>
<text x="16.30" y="367.10" font-size="10.81" fill="#777" text-anchor="end" textLength="5.67" lengthAdjust="spacingAndGlyphs">4</text>
<text x="16.30" y="403.10" font-size="10.81" fill="#777" text-anchor="end" textLength="5.67" lengthAdjust="spacingAndGlyphs">0</text>
<text x="16.30" y="441.30" font-size="10.81" fill="#777" text-anchor="end" textLength="11.63" lengthAdjust="spacingAndGlyphs">−4</text>
<text x="45.50" y="481.40" font-size="10.81" fill="#777" text-anchor="middle" textLength="11.63" lengthAdjust="spacingAndGlyphs">−4</text>
<text x="68.90" y="481.40" font-size="10.81" fill="#777" text-anchor="middle" textLength="5.67" lengthAdjust="spacingAndGlyphs">0</text>
<text x="94.30" y="481.40" font-size="10.81" fill="#777" text-anchor="middle" textLength="5.67" lengthAdjust="spacingAndGlyphs">4</text>
<text x="33.80" y="489.00" font-size="10.18" fill="#222" textLength="87.1" lengthAdjust="spacingAndGlyphs">PLS1: 18% expl. var</text>
<text x="6.60" y="395.00" font-size="11.02" fill="#222" text-anchor="middle" textLength="88.5" lengthAdjust="spacingAndGlyphs" transform="rotate(-90 6.60 395.00)">PLS2: 13% expl. var</text>
<rect x="135.60" y="331.20" width="99.40" height="143.80" fill="#fff" stroke="none" stroke-width="0" rx="0"/>
<line x1="140.60" y1="331.20" x2="140.60" y2="475.00" stroke="#f3f3f3" stroke-width="0.5"/>
<line x1="147.00" y1="331.20" x2="147.00" y2="475.00" stroke="#f3f3f3" stroke-width="0.5"/>
<line x1="153.40" y1="331.20" x2="153.40" y2="475.00" stroke="#f3f3f3" stroke-width="0.5"/>
<line x1="159.80" y1="331.20" x2="159.80" y2="475.00" stroke="#f3f3f3" stroke-width="0.5"/>
<line x1="166.20" y1="331.20" x2="166.20" y2="475.00" stroke="#f3f3f3" stroke-width="0.5"/>
<line x1="172.60" y1="331.20" x2="172.60" y2="475.00" stroke="#f3f3f3" stroke-width="0.5"/>
<line x1="179.00" y1="331.20" x2="179.00" y2="475.00" stroke="#f3f3f3" stroke-width="0.5"/>
<line x1="185.40" y1="331.20" x2="185.40" y2="475.00" stroke="#f3f3f3" stroke-width="0.5"/>
<line x1="191.80" y1="331.20" x2="191.80" y2="475.00" stroke="#f3f3f3" stroke-width="0.5"/>
<line x1="198.20" y1="331.20" x2="198.20" y2="475.00" stroke="#f3f3f3" stroke-width="0.5"/>
<line x1="204.60" y1="331.20" x2="204.60" y2="475.00" stroke="#f3f3f3" stroke-width="0.5"/>
<line x1="211.00" y1="331.20" x2="211.00" y2="475.00" stroke="#f3f3f3" stroke-width="0.5"/>
<line x1="217.40" y1="331.20" x2="217.40" y2="475.00" stroke="#f3f3f3" stroke-width="0.5"/>
<line x1="223.80" y1="331.20" x2="223.80" y2="475.00" stroke="#f3f3f3" stroke-width="0.5"/>
<line x1="230.20" y1="331.20" x2="230.20" y2="475.00" stroke="#f3f3f3" stroke-width="0.5"/>
<line x1="135.60" y1="468.10" x2="235.00" y2="468.10" stroke="#f3f3f3" stroke-width="0.5"/>
<line x1="135.60" y1="458.50" x2="235.00" y2="458.50" stroke="#f3f3f3" stroke-width="0.5"/>
<line x1="135.60" y1="448.90" x2="235.00" y2="448.90" stroke="#f3f3f3" stroke-width="0.5"/>
<line x1="135.60" y1="439.30" x2="235.00" y2="439.30" stroke="#f3f3f3" stroke-width="0.5"/>
<line x1="135.60" y1="429.70" x2="235.00" y2="429.70" stroke="#f3f3f3" stroke-width="0.5"/>
<line x1="135.60" y1="420.10" x2="235.00" y2="420.10" stroke="#f3f3f3" stroke-width="0.5"/>
<line x1="135.60" y1="410.50" x2="235.00" y2="410.50" stroke="#f3f3f3" stroke-width="0.5"/>
<line x1="135.60" y1="400.90" x2="235.00" y2="400.90" stroke="#f3f3f3" stroke-width="0.5"/>
<line x1="135.60" y1="391.30" x2="235.00" y2="391.30" stroke="#f3f3f3" stroke-width="0.5"/>
<line x1="135.60" y1="381.70" x2="235.00" y2="381.70" stroke="#f3f3f3" stroke-width="0.5"/>
<line x1="135.60" y1="372.10" x2="235.00" y2="372.10" stroke="#f3f3f3" stroke-width="0.5"/>
<line x1="135.60" y1="362.50" x2="235.00" y2="362.50" stroke="#f3f3f3" stroke-width="0.5"/>
<line x1="135.60" y1="352.90" x2="235.00" y2="352.90" stroke="#f3f3f3" stroke-width="0.5"/>
<line x1="135.60" y1="343.30" x2="235.00" y2="343.30" stroke="#f3f3f3" stroke-width="0.5"/>
<line x1="135.60" y1="333.70" x2="235.00" y2="333.70" stroke="#f3f3f3" stroke-width="0.5"/>
<ellipse cx="165.2" cy="386.6" rx="18.4" ry="13.5" transform="rotate(-3 165.2 386.6)" fill="#c6cfe2" stroke="#a9b8d2" stroke-width="0.6" fill-opacity="1"/>
<ellipse cx="194.2" cy="369.8" rx="13.9" ry="8.6" transform="rotate(-50 194.2 369.8)" fill="#ecd0bb" stroke="#dcb08e" stroke-width="0.6" fill-opacity="1"/>
<ellipse cx="209.6" cy="420.4" rx="22.2" ry="13.3" transform="rotate(3 209.6 420.4)" fill="#e1e6ea" stroke="#c9d2da" stroke-width="0.6" fill-opacity="1"/>
<ellipse cx="168.5" cy="435.0" rx="13.6" ry="2.8" transform="rotate(10 168.5 435.0)" fill="#c2b2b1" stroke="#a89494" stroke-width="0.6" fill-opacity="1"/>
<line x1="183.40" y1="331.20" x2="183.40" y2="475.00" stroke="#333" stroke-width="0.8" stroke-dasharray="2.2,1.8"/>
<polygon points="146.66,383.06 149.74,383.06 148.20,380.54" fill="#4b72ae" stroke="none" stroke-width="0"/>
<polygon points="168.46,378.66 171.54,378.66 170.00,376.14" fill="#4b72ae" stroke="none" stroke-width="0"/>
<polygon points="175.66,380.56 178.74,380.56 177.20,378.04" fill="#4b72ae" stroke="none" stroke-width="0"/>
<polygon points="156.96,394.66 160.04,394.66 158.50,392.14" fill="#4b72ae" stroke="none" stroke-width="0"/>
<polygon points="161.76,393.16 164.84,393.16 163.30,390.64" fill="#4b72ae" stroke="none" stroke-width="0"/>
<polygon points="173.36,397.96 176.44,397.96 174.90,395.44" fill="#4b72ae" stroke="none" stroke-width="0"/>
<circle cx="183.6" cy="375" r="1.25" fill="#c77a4e"/>
<circle cx="186.9" cy="376" r="1.25" fill="#c77a4e"/>
<circle cx="193.8" cy="371.8" r="1.25" fill="#c77a4e"/>
<circle cx="196.1" cy="362.9" r="1.25" fill="#c77a4e"/>
<circle cx="200" cy="360" r="1.25" fill="#c77a4e"/>
<circle cx="201" cy="375" r="1.25" fill="#c77a4e"/>
<circle cx="188.8" cy="418.1" r="1.25" fill="#93b4c8"/>
<circle cx="208.1" cy="406.9" r="1.25" fill="#93b4c8"/>
<circle cx="210.2" cy="420.4" r="1.25" fill="#93b4c8"/>
<circle cx="230.9" cy="420.8" r="1.25" fill="#93b4c8"/>
<circle cx="207.1" cy="427.8" r="1.25" fill="#93b4c8"/>
<circle cx="211.6" cy="429.1" r="1.25" fill="#93b4c8"/>
<polygon points="156.07,435.17 158.93,435.17 157.50,432.83" fill="#4a3840" stroke="none" stroke-width="0"/>
<polygon points="165.37,432.77 168.23,432.77 166.80,430.43" fill="#4a3840" stroke="none" stroke-width="0"/>
<polygon points="169.57,434.77 172.43,434.77 171.00,432.43" fill="#4a3840" stroke="none" stroke-width="0"/>
<polygon points="169.57,436.67 172.43,436.67 171.00,434.33" fill="#4a3840" stroke="none" stroke-width="0"/>
<polygon points="175.77,438.07 178.63,438.07 177.20,435.73" fill="#4a3840" stroke="none" stroke-width="0"/>
<polygon points="178.27,437.07 181.13,437.07 179.70,434.73" fill="#4a3840" stroke="none" stroke-width="0"/>
<rect x="135.60" y="331.20" width="99.40" height="143.80" fill="none" stroke="#444" stroke-width="0.9" rx="0"/>
<text x="148.80" y="347.00" font-size="10.39" fill="#222" textLength="21.8" lengthAdjust="spacingAndGlyphs">short</text>
<text x="194.60" y="347.00" font-size="10.39" fill="#222" textLength="18.53" lengthAdjust="spacingAndGlyphs">long</text>
<text x="134.60" y="368.40" font-size="10.81" fill="#777" text-anchor="end" textLength="5.67" lengthAdjust="spacingAndGlyphs">4</text>
<text x="134.60" y="404.70" font-size="10.81" fill="#777" text-anchor="end" textLength="5.67" lengthAdjust="spacingAndGlyphs">0</text>
<text x="134.60" y="441.40" font-size="10.81" fill="#777" text-anchor="end" textLength="11.63" lengthAdjust="spacingAndGlyphs">−4</text>
<text x="163.40" y="481.20" font-size="10.81" fill="#777" text-anchor="middle" textLength="11.63" lengthAdjust="spacingAndGlyphs">−4</text>
<text x="185.40" y="481.20" font-size="10.81" fill="#777" text-anchor="middle" textLength="5.67" lengthAdjust="spacingAndGlyphs">0</text>
<text x="211.20" y="481.20" font-size="10.81" fill="#777" text-anchor="middle" textLength="5.67" lengthAdjust="spacingAndGlyphs">4</text>
<text x="149.20" y="488.80" font-size="10.23" fill="#222" textLength="90.5" lengthAdjust="spacingAndGlyphs">PLS 2: 13% expl. var</text>
<text x="127.40" y="390.80" font-size="11.24" fill="#222" text-anchor="middle" textLength="92" lengthAdjust="spacingAndGlyphs" transform="rotate(-90 127.40 390.80)">PLS 3: 10% expl. var</text>
<rect x="68.80" y="499.60" width="6.60" height="9.40" fill="#c8906c" stroke="#666" stroke-width="0.5" rx="0"/>
<text x="81.20" y="508.10" font-size="10.18" fill="#222" textLength="27.22" lengthAdjust="spacingAndGlyphs">LongT</text>
<rect x="68.80" y="513.40" width="6.60" height="11.60" fill="#7a5062" stroke="#666" stroke-width="0.5" rx="0"/>
<text x="81.20" y="524.50" font-size="10.18" fill="#222" textLength="28.81" lengthAdjust="spacingAndGlyphs">ShortT</text>
<rect x="68.80" y="535.30" width="6.60" height="10.20" fill="#b4c2ce" stroke="#666" stroke-width="0.5" rx="0"/>
<text x="81.20" y="544.90" font-size="10.18" fill="#222" textLength="28.29" lengthAdjust="spacingAndGlyphs">LongN</text>
<rect x="68.80" y="549.90" width="6.60" height="11.60" fill="#5a7aac" stroke="#666" stroke-width="0.5" rx="0"/>
<text x="81.20" y="561.00" font-size="10.18" fill="#222" textLength="29.88" lengthAdjust="spacingAndGlyphs">ShortN</text>
<text x="27.70" y="520.70" font-size="10.18" fill="#222" textLength="27.2" lengthAdjust="spacingAndGlyphs">Tumor</text>
<text x="11.70" y="554.20" font-size="10.18" fill="#222" textLength="42.3" lengthAdjust="spacingAndGlyphs">Nontumor</text>
<circle cx="151.8" cy="513.6" r="1.8" fill="#111"/>
<polygon points="148.94,529.14 154.66,529.14 151.80,524.46" fill="#111" stroke="none" stroke-width="0"/>
<text x="165.80" y="515.70" font-size="10.18" fill="#222" textLength="18.15" lengthAdjust="spacingAndGlyphs">long</text>
<text x="164.40" y="529.40" font-size="10.18" fill="#222" textLength="21.34" lengthAdjust="spacingAndGlyphs">short</text>
<text x="422.60" y="323.30" font-size="10.39" fill="#222" textLength="183.4" lengthAdjust="spacingAndGlyphs">GO biological process (Consensus model)</text>
<rect x="447.20" y="342.50" width="235.30" height="89.50" fill="#fff" stroke="#b0b0b0" stroke-width="0.8" rx="0"/>
<rect x="447.60" y="350.40" width="212.40" height="5.80" fill="#7b97a8" stroke="none" stroke-width="0" rx="0"/>
<rect x="447.60" y="363.13" width="152.60" height="5.80" fill="#7b97a8" stroke="none" stroke-width="0" rx="0"/>
<rect x="447.60" y="375.86" width="150.10" height="5.80" fill="#7b97a8" stroke="none" stroke-width="0" rx="0"/>
<rect x="447.60" y="388.59" width="98.60" height="5.80" fill="#7b97a8" stroke="none" stroke-width="0" rx="0"/>
<rect x="447.60" y="401.32" width="96.10" height="5.80" fill="#7b97a8" stroke="none" stroke-width="0" rx="0"/>
<rect x="447.60" y="414.05" width="85.40" height="5.80" fill="#7b97a8" stroke="none" stroke-width="0" rx="0"/>
<rect x="447.60" y="426.78" width="75.70" height="5.80" fill="#7b97a8" stroke="none" stroke-width="0" rx="0"/>
<text x="441.60" y="355.00" font-size="9.3" fill="#4c5a82" text-anchor="end">lipid catabolic process</text>
<text x="441.60" y="367.85" font-size="9.3" fill="#4c5a82" text-anchor="end">macromolecule depalmitoylation</text>
<text x="441.60" y="380.70" font-size="9.3" fill="#4c5a82" text-anchor="end">macromolecule deacylation</text>
<text x="441.60" y="393.55" font-size="9.3" fill="#4c5a82" text-anchor="end">protein depalmitoylation</text>
<text x="441.60" y="406.40" font-size="9.3" fill="#4c5a82" text-anchor="end">protein deacylation</text>
<text x="441.60" y="419.25" font-size="9.3" fill="#4c5a82" text-anchor="end">integrin-mediated signaling pathway</text>
<text x="441.60" y="432.10" font-size="9.3" fill="#4c5a82" text-anchor="end">lipoprotein catabolic process</text>
<text x="447.90" y="444.40" font-size="9.4" fill="#4c5a82" text-anchor="middle">0</text>
<text x="473.05" y="444.40" font-size="9.4" fill="#4c5a82" text-anchor="middle">0.5</text>
<text x="498.20" y="444.40" font-size="9.4" fill="#4c5a82" text-anchor="middle">1</text>
<text x="523.35" y="444.40" font-size="9.4" fill="#4c5a82" text-anchor="middle">1.5</text>
<text x="548.50" y="444.40" font-size="9.4" fill="#4c5a82" text-anchor="middle">2</text>
<text x="573.65" y="444.40" font-size="9.4" fill="#4c5a82" text-anchor="middle">2.5</text>
<text x="598.80" y="444.40" font-size="9.4" fill="#4c5a82" text-anchor="middle">3</text>
<text x="623.95" y="444.40" font-size="9.4" fill="#4c5a82" text-anchor="middle">3.5</text>
<text x="649.10" y="444.40" font-size="9.4" fill="#4c5a82" text-anchor="middle">4</text>
<text x="674.25" y="444.40" font-size="9.4" fill="#4c5a82" text-anchor="middle">4.5</text>
<text x="528.70" y="459.20" font-size="9.96" fill="#333" textLength="68.7" lengthAdjust="spacingAndGlyphs">-log10 (p-adjust)</text>
<g stroke="#9c9c9c" stroke-width="0.35">
<rect x="50.6" y="641.00" width="8.86" height="2.975" fill="#a4c9e4"/>
<rect x="59.5" y="641.00" width="8.86" height="2.975" fill="#fde396"/>
<rect x="68.3" y="641.00" width="8.86" height="2.975" fill="#e3f1ef"/>
<rect x="77.2" y="641.00" width="8.86" height="2.975" fill="#fcf5be"/>
<rect x="86.0" y="641.00" width="8.86" height="2.975" fill="#d3e8f5"/>
<rect x="94.9" y="641.00" width="8.86" height="2.975" fill="#d3e8f5"/>
<rect x="103.8" y="641.00" width="8.86" height="2.975" fill="#fde396"/>
<rect x="112.6" y="641.00" width="8.86" height="2.975" fill="#f5925a"/>
<rect x="121.5" y="641.00" width="8.86" height="2.975" fill="#fcc57c"/>
<rect x="130.3" y="641.00" width="8.86" height="2.975" fill="#e3f1ef"/>
<rect x="139.2" y="641.00" width="8.86" height="2.975" fill="#fcf5be"/>
<rect x="148.1" y="641.00" width="8.86" height="2.975" fill="#fde396"/>
<rect x="156.9" y="641.00" width="8.86" height="2.975" fill="#fcc57c"/>
<rect x="165.8" y="641.00" width="8.86" height="2.975" fill="#fde396"/>
<rect x="174.6" y="641.00" width="8.86" height="2.975" fill="#fcf5be"/>
<rect x="183.5" y="641.00" width="8.86" height="2.975" fill="#e3f1ef"/>
<rect x="192.4" y="641.00" width="8.86" height="2.975" fill="#fcf5be"/>
<rect x="201.2" y="641.00" width="8.86" height="2.975" fill="#fde396"/>
<rect x="210.1" y="641.00" width="8.86" height="2.975" fill="#fde396"/>
<rect x="218.9" y="641.00" width="8.86" height="2.975" fill="#fde396"/>
<rect x="227.8" y="641.00" width="8.86" height="2.975" fill="#e3f1ef"/>
<rect x="236.7" y="641.00" width="8.86" height="2.975" fill="#e3f1ef"/>
<rect x="245.5" y="641.00" width="8.86" height="2.975" fill="#fcf5be"/>
<rect x="254.4" y="641.00" width="8.86" height="2.975" fill="#d3e8f5"/>
<rect x="50.6" y="643.98" width="8.86" height="2.975" fill="#fcf5be"/>
<rect x="59.5" y="643.98" width="8.86" height="2.975" fill="#fde396"/>
<rect x="68.3" y="643.98" width="8.86" height="2.975" fill="#fcf5be"/>
<rect x="77.2" y="643.98" width="8.86" height="2.975" fill="#e3f1ef"/>
<rect x="86.0" y="643.98" width="8.86" height="2.975" fill="#fcf5be"/>
<rect x="94.9" y="643.98" width="8.86" height="2.975" fill="#fcf5be"/>
<rect x="103.8" y="643.98" width="8.86" height="2.975" fill="#fde396"/>
<rect x="112.6" y="643.98" width="8.86" height="2.975" fill="#f5925a"/>
<rect x="121.5" y="643.98" width="8.86" height="2.975" fill="#fcf5be"/>
<rect x="130.3" y="643.98" width="8.86" height="2.975" fill="#fcc57c"/>
<rect x="139.2" y="643.98" width="8.86" height="2.975" fill="#fcc57c"/>
<rect x="148.1" y="643.98" width="8.86" height="2.975" fill="#fcc57c"/>
<rect x="156.9" y="643.98" width="8.86" height="2.975" fill="#fcf5be"/>
<rect x="165.8" y="643.98" width="8.86" height="2.975" fill="#fcf5be"/>
<rect x="174.6" y="643.98" width="8.86" height="2.975" fill="#e3f1ef"/>
<rect x="183.5" y="643.98" width="8.86" height="2.975" fill="#d3e8f5"/>
<rect x="192.4" y="643.98" width="8.86" height="2.975" fill="#fcf5be"/>
<rect x="201.2" y="643.98" width="8.86" height="2.975" fill="#e3f1ef"/>
<rect x="210.1" y="643.98" width="8.86" height="2.975" fill="#fde396"/>
<rect x="218.9" y="643.98" width="8.86" height="2.975" fill="#fcf5be"/>
<rect x="227.8" y="643.98" width="8.86" height="2.975" fill="#fde396"/>
<rect x="236.7" y="643.98" width="8.86" height="2.975" fill="#a4c9e4"/>
<rect x="245.5" y="643.98" width="8.86" height="2.975" fill="#fcf5be"/>
<rect x="254.4" y="643.98" width="8.86" height="2.975" fill="#a4c9e4"/>
<rect x="50.6" y="646.95" width="8.86" height="2.975" fill="#e3f1ef"/>
<rect x="59.5" y="646.95" width="8.86" height="2.975" fill="#fde396"/>
<rect x="68.3" y="646.95" width="8.86" height="2.975" fill="#e3f1ef"/>
<rect x="77.2" y="646.95" width="8.86" height="2.975" fill="#e3f1ef"/>
<rect x="86.0" y="646.95" width="8.86" height="2.975" fill="#fcf5be"/>
<rect x="94.9" y="646.95" width="8.86" height="2.975" fill="#e3f1ef"/>
<rect x="103.8" y="646.95" width="8.86" height="2.975" fill="#e3f1ef"/>
<rect x="112.6" y="646.95" width="8.86" height="2.975" fill="#fcc57c"/>
<rect x="121.5" y="646.95" width="8.86" height="2.975" fill="#fcf5be"/>
<rect x="130.3" y="646.95" width="8.86" height="2.975" fill="#fde396"/>
<rect x="139.2" y="646.95" width="8.86" height="2.975" fill="#f5925a"/>
<rect x="148.1" y="646.95" width="8.86" height="2.975" fill="#fde396"/>
<rect x="156.9" y="646.95" width="8.86" height="2.975" fill="#e3f1ef"/>
<rect x="165.8" y="646.95" width="8.86" height="2.975" fill="#fcc57c"/>
<rect x="174.6" y="646.95" width="8.86" height="2.975" fill="#e3f1ef"/>
<rect x="183.5" y="646.95" width="8.86" height="2.975" fill="#e3f1ef"/>
<rect x="192.4" y="646.95" width="8.86" height="2.975" fill="#fde396"/>
<rect x="201.2" y="646.95" width="8.86" height="2.975" fill="#fcf5be"/>
<rect x="210.1" y="646.95" width="8.86" height="2.975" fill="#f5925a"/>
<rect x="218.9" y="646.95" width="8.86" height="2.975" fill="#fde396"/>
<rect x="227.8" y="646.95" width="8.86" height="2.975" fill="#fcf5be"/>
<rect x="236.7" y="646.95" width="8.86" height="2.975" fill="#e3f1ef"/>
<rect x="245.5" y="646.95" width="8.86" height="2.975" fill="#e3f1ef"/>
<rect x="254.4" y="646.95" width="8.86" height="2.975" fill="#d3e8f5"/>
<rect x="50.6" y="649.92" width="8.86" height="2.975" fill="#e3f1ef"/>
<rect x="59.5" y="649.92" width="8.86" height="2.975" fill="#fcf5be"/>
<rect x="68.3" y="649.92" width="8.86" height="2.975" fill="#e3f1ef"/>
<rect x="77.2" y="649.92" width="8.86" height="2.975" fill="#e3f1ef"/>
<rect x="86.0" y="649.92" width="8.86" height="2.975" fill="#fcf5be"/>
<rect x="94.9" y="649.92" width="8.86" height="2.975" fill="#fcf5be"/>
<rect x="103.8" y="649.92" width="8.86" height="2.975" fill="#fcf5be"/>
<rect x="112.6" y="649.92" width="8.86" height="2.975" fill="#e3f1ef"/>
<rect x="121.5" y="649.92" width="8.86" height="2.975" fill="#e45838"/>
<rect x="130.3" y="649.92" width="8.86" height="2.975" fill="#fde396"/>
<rect x="139.2" y="649.92" width="8.86" height="2.975" fill="#e3f1ef"/>
<rect x="148.1" y="649.92" width="8.86" height="2.975" fill="#f5925a"/>
<rect x="156.9" y="649.92" width="8.86" height="2.975" fill="#fcf5be"/>
<rect x="165.8" y="649.92" width="8.86" height="2.975" fill="#fcc57c"/>
<rect x="174.6" y="649.92" width="8.86" height="2.975" fill="#fcf5be"/>
<rect x="183.5" y="649.92" width="8.86" height="2.975" fill="#e3f1ef"/>
<rect x="192.4" y="649.92" width="8.86" height="2.975" fill="#fcf5be"/>
<rect x="201.2" y="649.92" width="8.86" height="2.975" fill="#e3f1ef"/>
<rect x="210.1" y="649.92" width="8.86" height="2.975" fill="#fcf5be"/>
<rect x="218.9" y="649.92" width="8.86" height="2.975" fill="#e3f1ef"/>
<rect x="227.8" y="649.92" width="8.86" height="2.975" fill="#e3f1ef"/>
<rect x="236.7" y="649.92" width="8.86" height="2.975" fill="#fcf5be"/>
<rect x="245.5" y="649.92" width="8.86" height="2.975" fill="#fde396"/>
<rect x="254.4" y="649.92" width="8.86" height="2.975" fill="#e3f1ef"/>
<rect x="50.6" y="652.90" width="8.86" height="2.975" fill="#fcf5be"/>
<rect x="59.5" y="652.90" width="8.86" height="2.975" fill="#fcf5be"/>
<rect x="68.3" y="652.90" width="8.86" height="2.975" fill="#e3f1ef"/>
<rect x="77.2" y="652.90" width="8.86" height="2.975" fill="#e3f1ef"/>
<rect x="86.0" y="652.90" width="8.86" height="2.975" fill="#d3e8f5"/>
<rect x="94.9" y="652.90" width="8.86" height="2.975" fill="#fcf5be"/>
<rect x="103.8" y="652.90" width="8.86" height="2.975" fill="#fde396"/>
<rect x="112.6" y="652.90" width="8.86" height="2.975" fill="#fcc57c"/>
<rect x="121.5" y="652.90" width="8.86" height="2.975" fill="#fcf5be"/>
<rect x="130.3" y="652.90" width="8.86" height="2.975" fill="#fde396"/>
<rect x="139.2" y="652.90" width="8.86" height="2.975" fill="#fde396"/>
<rect x="148.1" y="652.90" width="8.86" height="2.975" fill="#f5925a"/>
<rect x="156.9" y="652.90" width="8.86" height="2.975" fill="#fcf5be"/>
<rect x="165.8" y="652.90" width="8.86" height="2.975" fill="#fde396"/>
<rect x="174.6" y="652.90" width="8.86" height="2.975" fill="#d3e8f5"/>
<rect x="183.5" y="652.90" width="8.86" height="2.975" fill="#a4c9e4"/>
<rect x="192.4" y="652.90" width="8.86" height="2.975" fill="#fcf5be"/>
<rect x="201.2" y="652.90" width="8.86" height="2.975" fill="#e3f1ef"/>
<rect x="210.1" y="652.90" width="8.86" height="2.975" fill="#e3f1ef"/>
<rect x="218.9" y="652.90" width="8.86" height="2.975" fill="#fcf5be"/>
<rect x="227.8" y="652.90" width="8.86" height="2.975" fill="#e3f1ef"/>
<rect x="236.7" y="652.90" width="8.86" height="2.975" fill="#fcf5be"/>
<rect x="245.5" y="652.90" width="8.86" height="2.975" fill="#fde396"/>
<rect x="254.4" y="652.90" width="8.86" height="2.975" fill="#fde396"/>
<rect x="50.6" y="655.88" width="8.86" height="2.975" fill="#fde396"/>
<rect x="59.5" y="655.88" width="8.86" height="2.975" fill="#f5925a"/>
<rect x="68.3" y="655.88" width="8.86" height="2.975" fill="#fcf5be"/>
<rect x="77.2" y="655.88" width="8.86" height="2.975" fill="#fde396"/>
<rect x="86.0" y="655.88" width="8.86" height="2.975" fill="#d3e8f5"/>
<rect x="94.9" y="655.88" width="8.86" height="2.975" fill="#fcf5be"/>
<rect x="103.8" y="655.88" width="8.86" height="2.975" fill="#fde396"/>
<rect x="112.6" y="655.88" width="8.86" height="2.975" fill="#d3e8f5"/>
<rect x="121.5" y="655.88" width="8.86" height="2.975" fill="#fcf5be"/>
<rect x="130.3" y="655.88" width="8.86" height="2.975" fill="#fde396"/>
<rect x="139.2" y="655.88" width="8.86" height="2.975" fill="#fde396"/>
<rect x="148.1" y="655.88" width="8.86" height="2.975" fill="#fcf5be"/>
<rect x="156.9" y="655.88" width="8.86" height="2.975" fill="#fcf5be"/>
<rect x="165.8" y="655.88" width="8.86" height="2.975" fill="#fde396"/>
<rect x="174.6" y="655.88" width="8.86" height="2.975" fill="#d3e8f5"/>
<rect x="183.5" y="655.88" width="8.86" height="2.975" fill="#a4c9e4"/>
<rect x="192.4" y="655.88" width="8.86" height="2.975" fill="#e3f1ef"/>
<rect x="201.2" y="655.88" width="8.86" height="2.975" fill="#e3f1ef"/>
<rect x="210.1" y="655.88" width="8.86" height="2.975" fill="#d3e8f5"/>
<rect x="218.9" y="655.88" width="8.86" height="2.975" fill="#fcf5be"/>
<rect x="227.8" y="655.88" width="8.86" height="2.975" fill="#e3f1ef"/>
<rect x="236.7" y="655.88" width="8.86" height="2.975" fill="#fcf5be"/>
<rect x="245.5" y="655.88" width="8.86" height="2.975" fill="#fcf5be"/>
<rect x="254.4" y="655.88" width="8.86" height="2.975" fill="#fde396"/>
<rect x="50.6" y="658.85" width="8.86" height="2.975" fill="#fcc57c"/>
<rect x="59.5" y="658.85" width="8.86" height="2.975" fill="#e3f1ef"/>
<rect x="68.3" y="658.85" width="8.86" height="2.975" fill="#fcf5be"/>
<rect x="77.2" y="658.85" width="8.86" height="2.975" fill="#e3f1ef"/>
<rect x="86.0" y="658.85" width="8.86" height="2.975" fill="#e3f1ef"/>
<rect x="94.9" y="658.85" width="8.86" height="2.975" fill="#e3f1ef"/>
<rect x="103.8" y="658.85" width="8.86" height="2.975" fill="#fcf5be"/>
<rect x="112.6" y="658.85" width="8.86" height="2.975" fill="#e3f1ef"/>
<rect x="121.5" y="658.85" width="8.86" height="2.975" fill="#fcf5be"/>
<rect x="130.3" y="658.85" width="8.86" height="2.975" fill="#fcf5be"/>
<rect x="139.2" y="658.85" width="8.86" height="2.975" fill="#f5925a"/>
<rect x="148.1" y="658.85" width="8.86" height="2.975" fill="#e3f1ef"/>
<rect x="156.9" y="658.85" width="8.86" height="2.975" fill="#fcf5be"/>
<rect x="165.8" y="658.85" width="8.86" height="2.975" fill="#fcf5be"/>
<rect x="174.6" y="658.85" width="8.86" height="2.975" fill="#f5925a"/>
<rect x="183.5" y="658.85" width="8.86" height="2.975" fill="#fcf5be"/>
<rect x="192.4" y="658.85" width="8.86" height="2.975" fill="#f5925a"/>
<rect x="201.2" y="658.85" width="8.86" height="2.975" fill="#fde396"/>
<rect x="210.1" y="658.85" width="8.86" height="2.975" fill="#e3f1ef"/>
<rect x="218.9" y="658.85" width="8.86" height="2.975" fill="#a4c9e4"/>
<rect x="227.8" y="658.85" width="8.86" height="2.975" fill="#fcc57c"/>
<rect x="236.7" y="658.85" width="8.86" height="2.975" fill="#e3f1ef"/>
<rect x="245.5" y="658.85" width="8.86" height="2.975" fill="#fcf5be"/>
<rect x="254.4" y="658.85" width="8.86" height="2.975" fill="#fcf5be"/>
<rect x="50.6" y="661.83" width="8.86" height="2.975" fill="#fde396"/>
<rect x="59.5" y="661.83" width="8.86" height="2.975" fill="#d3e8f5"/>
<rect x="68.3" y="661.83" width="8.86" height="2.975" fill="#fcf5be"/>
<rect x="77.2" y="661.83" width="8.86" height="2.975" fill="#fcf5be"/>
<rect x="86.0" y="661.83" width="8.86" height="2.975" fill="#fcf5be"/>
<rect x="94.9" y="661.83" width="8.86" height="2.975" fill="#e3f1ef"/>
<rect x="103.8" y="661.83" width="8.86" height="2.975" fill="#fde396"/>
<rect x="112.6" y="661.83" width="8.86" height="2.975" fill="#d3e8f5"/>
<rect x="121.5" y="661.83" width="8.86" height="2.975" fill="#fde396"/>
<rect x="130.3" y="661.83" width="8.86" height="2.975" fill="#fde396"/>
<rect x="139.2" y="661.83" width="8.86" height="2.975" fill="#fde396"/>
<rect x="148.1" y="661.83" width="8.86" height="2.975" fill="#e3f1ef"/>
<rect x="156.9" y="661.83" width="8.86" height="2.975" fill="#fde396"/>
<rect x="165.8" y="661.83" width="8.86" height="2.975" fill="#e3f1ef"/>
<rect x="174.6" y="661.83" width="8.86" height="2.975" fill="#fcf5be"/>
<rect x="183.5" y="661.83" width="8.86" height="2.975" fill="#fcf5be"/>
<rect x="192.4" y="661.83" width="8.86" height="2.975" fill="#fcf5be"/>
<rect x="201.2" y="661.83" width="8.86" height="2.975" fill="#fcf5be"/>
<rect x="210.1" y="661.83" width="8.86" height="2.975" fill="#e3f1ef"/>
<rect x="218.9" y="661.83" width="8.86" height="2.975" fill="#608cc8"/>
<rect x="227.8" y="661.83" width="8.86" height="2.975" fill="#e3f1ef"/>
<rect x="236.7" y="661.83" width="8.86" height="2.975" fill="#fcf5be"/>
<rect x="245.5" y="661.83" width="8.86" height="2.975" fill="#e3f1ef"/>
<rect x="254.4" y="661.83" width="8.86" height="2.975" fill="#fde396"/>
<rect x="50.6" y="664.80" width="8.86" height="2.975" fill="#fde396"/>
<rect x="59.5" y="664.80" width="8.86" height="2.975" fill="#e3f1ef"/>
<rect x="68.3" y="664.80" width="8.86" height="2.975" fill="#e45838"/>
<rect x="77.2" y="664.80" width="8.86" height="2.975" fill="#fcf5be"/>
<rect x="86.0" y="664.80" width="8.86" height="2.975" fill="#e3f1ef"/>
<rect x="94.9" y="664.80" width="8.86" height="2.975" fill="#fcc57c"/>
<rect x="103.8" y="664.80" width="8.86" height="2.975" fill="#fcf5be"/>
<rect x="112.6" y="664.80" width="8.86" height="2.975" fill="#e3f1ef"/>
<rect x="121.5" y="664.80" width="8.86" height="2.975" fill="#e3f1ef"/>
<rect x="130.3" y="664.80" width="8.86" height="2.975" fill="#fcf5be"/>
<rect x="139.2" y="664.80" width="8.86" height="2.975" fill="#e3f1ef"/>
<rect x="148.1" y="664.80" width="8.86" height="2.975" fill="#e3f1ef"/>
<rect x="156.9" y="664.80" width="8.86" height="2.975" fill="#fcf5be"/>
<rect x="165.8" y="664.80" width="8.86" height="2.975" fill="#e3f1ef"/>
<rect x="174.6" y="664.80" width="8.86" height="2.975" fill="#fde396"/>
<rect x="183.5" y="664.80" width="8.86" height="2.975" fill="#fcc57c"/>
<rect x="192.4" y="664.80" width="8.86" height="2.975" fill="#fcc57c"/>
<rect x="201.2" y="664.80" width="8.86" height="2.975" fill="#fde396"/>
<rect x="210.1" y="664.80" width="8.86" height="2.975" fill="#e3f1ef"/>
<rect x="218.9" y="664.80" width="8.86" height="2.975" fill="#e3f1ef"/>
<rect x="227.8" y="664.80" width="8.86" height="2.975" fill="#e3f1ef"/>
<rect x="236.7" y="664.80" width="8.86" height="2.975" fill="#fde396"/>
<rect x="245.5" y="664.80" width="8.86" height="2.975" fill="#e3f1ef"/>
<rect x="254.4" y="664.80" width="8.86" height="2.975" fill="#fcf5be"/>
<rect x="50.6" y="667.77" width="8.86" height="2.975" fill="#fcf5be"/>
<rect x="59.5" y="667.77" width="8.86" height="2.975" fill="#fcf5be"/>
<rect x="68.3" y="667.77" width="8.86" height="2.975" fill="#fcf5be"/>
<rect x="77.2" y="667.77" width="8.86" height="2.975" fill="#e3f1ef"/>
<rect x="86.0" y="667.77" width="8.86" height="2.975" fill="#fcf5be"/>
<rect x="94.9" y="667.77" width="8.86" height="2.975" fill="#fcf5be"/>
<rect x="103.8" y="667.77" width="8.86" height="2.975" fill="#e3f1ef"/>
<rect x="112.6" y="667.77" width="8.86" height="2.975" fill="#608cc8"/>
<rect x="121.5" y="667.77" width="8.86" height="2.975" fill="#fcf5be"/>
<rect x="130.3" y="667.77" width="8.86" height="2.975" fill="#f5925a"/>
<rect x="139.2" y="667.77" width="8.86" height="2.975" fill="#e3f1ef"/>
<rect x="148.1" y="667.77" width="8.86" height="2.975" fill="#fcf5be"/>
<rect x="156.9" y="667.77" width="8.86" height="2.975" fill="#fcf5be"/>
<rect x="165.8" y="667.77" width="8.86" height="2.975" fill="#e3f1ef"/>
<rect x="174.6" y="667.77" width="8.86" height="2.975" fill="#e3f1ef"/>
<rect x="183.5" y="667.77" width="8.86" height="2.975" fill="#fcf5be"/>
<rect x="192.4" y="667.77" width="8.86" height="2.975" fill="#fde396"/>
<rect x="201.2" y="667.77" width="8.86" height="2.975" fill="#f5925a"/>
<rect x="210.1" y="667.77" width="8.86" height="2.975" fill="#e3f1ef"/>
<rect x="218.9" y="667.77" width="8.86" height="2.975" fill="#e3f1ef"/>
<rect x="227.8" y="667.77" width="8.86" height="2.975" fill="#e3f1ef"/>
<rect x="236.7" y="667.77" width="8.86" height="2.975" fill="#fcf5be"/>
<rect x="245.5" y="667.77" width="8.86" height="2.975" fill="#fcf5be"/>
<rect x="254.4" y="667.77" width="8.86" height="2.975" fill="#d3e8f5"/>
<rect x="50.6" y="670.75" width="8.86" height="2.975" fill="#fcf5be"/>
<rect x="59.5" y="670.75" width="8.86" height="2.975" fill="#fde396"/>
<rect x="68.3" y="670.75" width="8.86" height="2.975" fill="#fcf5be"/>
<rect x="77.2" y="670.75" width="8.86" height="2.975" fill="#fcf5be"/>
<rect x="86.0" y="670.75" width="8.86" height="2.975" fill="#e3f1ef"/>
<rect x="94.9" y="670.75" width="8.86" height="2.975" fill="#fcf5be"/>
<rect x="103.8" y="670.75" width="8.86" height="2.975" fill="#fcf5be"/>
<rect x="112.6" y="670.75" width="8.86" height="2.975" fill="#e3f1ef"/>
<rect x="121.5" y="670.75" width="8.86" height="2.975" fill="#fcf5be"/>
<rect x="130.3" y="670.75" width="8.86" height="2.975" fill="#fde396"/>
<rect x="139.2" y="670.75" width="8.86" height="2.975" fill="#e3f1ef"/>
<rect x="148.1" y="670.75" width="8.86" height="2.975" fill="#e3f1ef"/>
<rect x="156.9" y="670.75" width="8.86" height="2.975" fill="#fcf5be"/>
<rect x="165.8" y="670.75" width="8.86" height="2.975" fill="#fcc57c"/>
<rect x="174.6" y="670.75" width="8.86" height="2.975" fill="#fcf5be"/>
<rect x="183.5" y="670.75" width="8.86" height="2.975" fill="#e3f1ef"/>
<rect x="192.4" y="670.75" width="8.86" height="2.975" fill="#e45838"/>
<rect x="201.2" y="670.75" width="8.86" height="2.975" fill="#fcc57c"/>
<rect x="210.1" y="670.75" width="8.86" height="2.975" fill="#e3f1ef"/>
<rect x="218.9" y="670.75" width="8.86" height="2.975" fill="#e3f1ef"/>
<rect x="227.8" y="670.75" width="8.86" height="2.975" fill="#d3e8f5"/>
<rect x="236.7" y="670.75" width="8.86" height="2.975" fill="#fcf5be"/>
<rect x="245.5" y="670.75" width="8.86" height="2.975" fill="#fcf5be"/>
<rect x="254.4" y="670.75" width="8.86" height="2.975" fill="#e3f1ef"/>
<rect x="50.6" y="673.73" width="8.86" height="2.975" fill="#fde396"/>
<rect x="59.5" y="673.73" width="8.86" height="2.975" fill="#fde396"/>
<rect x="68.3" y="673.73" width="8.86" height="2.975" fill="#fde396"/>
<rect x="77.2" y="673.73" width="8.86" height="2.975" fill="#fcf5be"/>
<rect x="86.0" y="673.73" width="8.86" height="2.975" fill="#d3e8f5"/>
<rect x="94.9" y="673.73" width="8.86" height="2.975" fill="#fcf5be"/>
<rect x="103.8" y="673.73" width="8.86" height="2.975" fill="#a4c9e4"/>
<rect x="112.6" y="673.73" width="8.86" height="2.975" fill="#e3f1ef"/>
<rect x="121.5" y="673.73" width="8.86" height="2.975" fill="#fcf5be"/>
<rect x="130.3" y="673.73" width="8.86" height="2.975" fill="#fde396"/>
<rect x="139.2" y="673.73" width="8.86" height="2.975" fill="#e3f1ef"/>
<rect x="148.1" y="673.73" width="8.86" height="2.975" fill="#e3f1ef"/>
<rect x="156.9" y="673.73" width="8.86" height="2.975" fill="#fde396"/>
<rect x="165.8" y="673.73" width="8.86" height="2.975" fill="#fcc57c"/>
<rect x="174.6" y="673.73" width="8.86" height="2.975" fill="#e3f1ef"/>
<rect x="183.5" y="673.73" width="8.86" height="2.975" fill="#fcc57c"/>
<rect x="192.4" y="673.73" width="8.86" height="2.975" fill="#d3e8f5"/>
<rect x="201.2" y="673.73" width="8.86" height="2.975" fill="#fde396"/>
<rect x="210.1" y="673.73" width="8.86" height="2.975" fill="#e3f1ef"/>
<rect x="218.9" y="673.73" width="8.86" height="2.975" fill="#d3e8f5"/>
<rect x="227.8" y="673.73" width="8.86" height="2.975" fill="#e3f1ef"/>
<rect x="236.7" y="673.73" width="8.86" height="2.975" fill="#e3f1ef"/>
<rect x="245.5" y="673.73" width="8.86" height="2.975" fill="#fcf5be"/>
<rect x="254.4" y="673.73" width="8.86" height="2.975" fill="#e3f1ef"/>
<rect x="50.6" y="676.70" width="8.86" height="2.975" fill="#fcf5be"/>
<rect x="59.5" y="676.70" width="8.86" height="2.975" fill="#fcf5be"/>
<rect x="68.3" y="676.70" width="8.86" height="2.975" fill="#d3e8f5"/>
<rect x="77.2" y="676.70" width="8.86" height="2.975" fill="#fcf5be"/>
<rect x="86.0" y="676.70" width="8.86" height="2.975" fill="#e3f1ef"/>
<rect x="94.9" y="676.70" width="8.86" height="2.975" fill="#fde396"/>
<rect x="103.8" y="676.70" width="8.86" height="2.975" fill="#a4c9e4"/>
<rect x="112.6" y="676.70" width="8.86" height="2.975" fill="#e3f1ef"/>
<rect x="121.5" y="676.70" width="8.86" height="2.975" fill="#fde396"/>
<rect x="130.3" y="676.70" width="8.86" height="2.975" fill="#fde396"/>
<rect x="139.2" y="676.70" width="8.86" height="2.975" fill="#fde396"/>
<rect x="148.1" y="676.70" width="8.86" height="2.975" fill="#fcf5be"/>
<rect x="156.9" y="676.70" width="8.86" height="2.975" fill="#fcc57c"/>
<rect x="165.8" y="676.70" width="8.86" height="2.975" fill="#fcf5be"/>
<rect x="174.6" y="676.70" width="8.86" height="2.975" fill="#fde396"/>
<rect x="183.5" y="676.70" width="8.86" height="2.975" fill="#fcf5be"/>
<rect x="192.4" y="676.70" width="8.86" height="2.975" fill="#fcf5be"/>
<rect x="201.2" y="676.70" width="8.86" height="2.975" fill="#fcc57c"/>
<rect x="210.1" y="676.70" width="8.86" height="2.975" fill="#fcf5be"/>
<rect x="218.9" y="676.70" width="8.86" height="2.975" fill="#d3e8f5"/>
<rect x="227.8" y="676.70" width="8.86" height="2.975" fill="#d3e8f5"/>
<rect x="236.7" y="676.70" width="8.86" height="2.975" fill="#a4c9e4"/>
<rect x="245.5" y="676.70" width="8.86" height="2.975" fill="#fcf5be"/>
<rect x="254.4" y="676.70" width="8.86" height="2.975" fill="#e3f1ef"/>
<rect x="50.6" y="679.67" width="8.86" height="2.975" fill="#e3f1ef"/>
<rect x="59.5" y="679.67" width="8.86" height="2.975" fill="#d3e8f5"/>
<rect x="68.3" y="679.67" width="8.86" height="2.975" fill="#fcf5be"/>
<rect x="77.2" y="679.67" width="8.86" height="2.975" fill="#d3e8f5"/>
<rect x="86.0" y="679.67" width="8.86" height="2.975" fill="#fcf5be"/>
<rect x="94.9" y="679.67" width="8.86" height="2.975" fill="#fde396"/>
<rect x="103.8" y="679.67" width="8.86" height="2.975" fill="#fcf5be"/>
<rect x="112.6" y="679.67" width="8.86" height="2.975" fill="#e3f1ef"/>
<rect x="121.5" y="679.67" width="8.86" height="2.975" fill="#e3f1ef"/>
<rect x="130.3" y="679.67" width="8.86" height="2.975" fill="#fcf5be"/>
<rect x="139.2" y="679.67" width="8.86" height="2.975" fill="#e3f1ef"/>
<rect x="148.1" y="679.67" width="8.86" height="2.975" fill="#e3f1ef"/>
<rect x="156.9" y="679.67" width="8.86" height="2.975" fill="#fcf5be"/>
<rect x="165.8" y="679.67" width="8.86" height="2.975" fill="#f5925a"/>
<rect x="174.6" y="679.67" width="8.86" height="2.975" fill="#f5925a"/>
<rect x="183.5" y="679.67" width="8.86" height="2.975" fill="#fcf5be"/>
<rect x="192.4" y="679.67" width="8.86" height="2.975" fill="#fcf5be"/>
<rect x="201.2" y="679.67" width="8.86" height="2.975" fill="#fcc57c"/>
<rect x="210.1" y="679.67" width="8.86" height="2.975" fill="#fcf5be"/>
<rect x="218.9" y="679.67" width="8.86" height="2.975" fill="#d3e8f5"/>
<rect x="227.8" y="679.67" width="8.86" height="2.975" fill="#e3f1ef"/>
<rect x="236.7" y="679.67" width="8.86" height="2.975" fill="#e3f1ef"/>
<rect x="245.5" y="679.67" width="8.86" height="2.975" fill="#fcf5be"/>
<rect x="254.4" y="679.67" width="8.86" height="2.975" fill="#fcf5be"/>
<rect x="50.6" y="682.65" width="8.86" height="2.975" fill="#fcf5be"/>
<rect x="59.5" y="682.65" width="8.86" height="2.975" fill="#e3f1ef"/>
<rect x="68.3" y="682.65" width="8.86" height="2.975" fill="#fcf5be"/>
<rect x="77.2" y="682.65" width="8.86" height="2.975" fill="#e3f1ef"/>
<rect x="86.0" y="682.65" width="8.86" height="2.975" fill="#fcf5be"/>
<rect x="94.9" y="682.65" width="8.86" height="2.975" fill="#fcf5be"/>
<rect x="103.8" y="682.65" width="8.86" height="2.975" fill="#fcf5be"/>
<rect x="112.6" y="682.65" width="8.86" height="2.975" fill="#e3f1ef"/>
<rect x="121.5" y="682.65" width="8.86" height="2.975" fill="#e3f1ef"/>
<rect x="130.3" y="682.65" width="8.86" height="2.975" fill="#fde396"/>
<rect x="139.2" y="682.65" width="8.86" height="2.975" fill="#e3f1ef"/>
<rect x="148.1" y="682.65" width="8.86" height="2.975" fill="#e3f1ef"/>
<rect x="156.9" y="682.65" width="8.86" height="2.975" fill="#fcf5be"/>
<rect x="165.8" y="682.65" width="8.86" height="2.975" fill="#f5925a"/>
<rect x="174.6" y="682.65" width="8.86" height="2.975" fill="#f5925a"/>
<rect x="183.5" y="682.65" width="8.86" height="2.975" fill="#fcf5be"/>
<rect x="192.4" y="682.65" width="8.86" height="2.975" fill="#fcf5be"/>
<rect x="201.2" y="682.65" width="8.86" height="2.975" fill="#fcc57c"/>
<rect x="210.1" y="682.65" width="8.86" height="2.975" fill="#fcf5be"/>
<rect x="218.9" y="682.65" width="8.86" height="2.975" fill="#e3f1ef"/>
<rect x="227.8" y="682.65" width="8.86" height="2.975" fill="#fcf5be"/>
<rect x="236.7" y="682.65" width="8.86" height="2.975" fill="#fcf5be"/>
<rect x="245.5" y="682.65" width="8.86" height="2.975" fill="#fcf5be"/>
<rect x="254.4" y="682.65" width="8.86" height="2.975" fill="#e3f1ef"/>
<rect x="50.6" y="685.62" width="8.86" height="2.975" fill="#e3f1ef"/>
<rect x="59.5" y="685.62" width="8.86" height="2.975" fill="#d3e8f5"/>
<rect x="68.3" y="685.62" width="8.86" height="2.975" fill="#fcc57c"/>
<rect x="77.2" y="685.62" width="8.86" height="2.975" fill="#fcf5be"/>
<rect x="86.0" y="685.62" width="8.86" height="2.975" fill="#fde396"/>
<rect x="94.9" y="685.62" width="8.86" height="2.975" fill="#fcc57c"/>
<rect x="103.8" y="685.62" width="8.86" height="2.975" fill="#fcf5be"/>
<rect x="112.6" y="685.62" width="8.86" height="2.975" fill="#fcf5be"/>
<rect x="121.5" y="685.62" width="8.86" height="2.975" fill="#fde396"/>
<rect x="130.3" y="685.62" width="8.86" height="2.975" fill="#a4c9e4"/>
<rect x="139.2" y="685.62" width="8.86" height="2.975" fill="#fde396"/>
<rect x="148.1" y="685.62" width="8.86" height="2.975" fill="#e3f1ef"/>
<rect x="156.9" y="685.62" width="8.86" height="2.975" fill="#fcf5be"/>
<rect x="165.8" y="685.62" width="8.86" height="2.975" fill="#fcc57c"/>
<rect x="174.6" y="685.62" width="8.86" height="2.975" fill="#fde396"/>
<rect x="183.5" y="685.62" width="8.86" height="2.975" fill="#fcf5be"/>
<rect x="192.4" y="685.62" width="8.86" height="2.975" fill="#e3f1ef"/>
<rect x="201.2" y="685.62" width="8.86" height="2.975" fill="#fde396"/>
<rect x="210.1" y="685.62" width="8.86" height="2.975" fill="#fde396"/>
<rect x="218.9" y="685.62" width="8.86" height="2.975" fill="#d3e8f5"/>
<rect x="227.8" y="685.62" width="8.86" height="2.975" fill="#fcf5be"/>
<rect x="236.7" y="685.62" width="8.86" height="2.975" fill="#d3e8f5"/>
<rect x="245.5" y="685.62" width="8.86" height="2.975" fill="#fcf5be"/>
<rect x="254.4" y="685.62" width="8.86" height="2.975" fill="#e3f1ef"/>
<rect x="50.6" y="688.60" width="8.86" height="2.975" fill="#fde396"/>
<rect x="59.5" y="688.60" width="8.86" height="2.975" fill="#d3e8f5"/>
<rect x="68.3" y="688.60" width="8.86" height="2.975" fill="#fcf5be"/>
<rect x="77.2" y="688.60" width="8.86" height="2.975" fill="#fcf5be"/>
<rect x="86.0" y="688.60" width="8.86" height="2.975" fill="#e3f1ef"/>
<rect x="94.9" y="688.60" width="8.86" height="2.975" fill="#e3f1ef"/>
<rect x="103.8" y="688.60" width="8.86" height="2.975" fill="#d3e8f5"/>
<rect x="112.6" y="688.60" width="8.86" height="2.975" fill="#e3f1ef"/>
<rect x="121.5" y="688.60" width="8.86" height="2.975" fill="#e3f1ef"/>
<rect x="130.3" y="688.60" width="8.86" height="2.975" fill="#a4c9e4"/>
<rect x="139.2" y="688.60" width="8.86" height="2.975" fill="#fcc57c"/>
<rect x="148.1" y="688.60" width="8.86" height="2.975" fill="#e3f1ef"/>
<rect x="156.9" y="688.60" width="8.86" height="2.975" fill="#fcf5be"/>
<rect x="165.8" y="688.60" width="8.86" height="2.975" fill="#fcc57c"/>
<rect x="174.6" y="688.60" width="8.86" height="2.975" fill="#fde396"/>
<rect x="183.5" y="688.60" width="8.86" height="2.975" fill="#fcf5be"/>
<rect x="192.4" y="688.60" width="8.86" height="2.975" fill="#fcf5be"/>
<rect x="201.2" y="688.60" width="8.86" height="2.975" fill="#f5925a"/>
<rect x="210.1" y="688.60" width="8.86" height="2.975" fill="#fcf5be"/>
<rect x="218.9" y="688.60" width="8.86" height="2.975" fill="#d3e8f5"/>
<rect x="227.8" y="688.60" width="8.86" height="2.975" fill="#fcf5be"/>
<rect x="236.7" y="688.60" width="8.86" height="2.975" fill="#d3e8f5"/>
<rect x="245.5" y="688.60" width="8.86" height="2.975" fill="#fcf5be"/>
<rect x="254.4" y="688.60" width="8.86" height="2.975" fill="#fcf5be"/>
<rect x="50.6" y="691.58" width="8.86" height="2.975" fill="#fcc57c"/>
<rect x="59.5" y="691.58" width="8.86" height="2.975" fill="#fcf5be"/>
<rect x="68.3" y="691.58" width="8.86" height="2.975" fill="#fcf5be"/>
<rect x="77.2" y="691.58" width="8.86" height="2.975" fill="#fcc57c"/>
<rect x="86.0" y="691.58" width="8.86" height="2.975" fill="#fde396"/>
<rect x="94.9" y="691.58" width="8.86" height="2.975" fill="#fcf5be"/>
<rect x="103.8" y="691.58" width="8.86" height="2.975" fill="#fcf5be"/>
<rect x="112.6" y="691.58" width="8.86" height="2.975" fill="#fcf5be"/>
<rect x="121.5" y="691.58" width="8.86" height="2.975" fill="#fcf5be"/>
<rect x="130.3" y="691.58" width="8.86" height="2.975" fill="#fcf5be"/>
<rect x="139.2" y="691.58" width="8.86" height="2.975" fill="#fcc57c"/>
<rect x="148.1" y="691.58" width="8.86" height="2.975" fill="#fde396"/>
<rect x="156.9" y="691.58" width="8.86" height="2.975" fill="#fde396"/>
<rect x="165.8" y="691.58" width="8.86" height="2.975" fill="#fde396"/>
<rect x="174.6" y="691.58" width="8.86" height="2.975" fill="#d3e8f5"/>
<rect x="183.5" y="691.58" width="8.86" height="2.975" fill="#e3f1ef"/>
<rect x="192.4" y="691.58" width="8.86" height="2.975" fill="#e3f1ef"/>
<rect x="201.2" y="691.58" width="8.86" height="2.975" fill="#d3e8f5"/>
<rect x="210.1" y="691.58" width="8.86" height="2.975" fill="#fde396"/>
<rect x="218.9" y="691.58" width="8.86" height="2.975" fill="#a4c9e4"/>
<rect x="227.8" y="691.58" width="8.86" height="2.975" fill="#e3f1ef"/>
<rect x="236.7" y="691.58" width="8.86" height="2.975" fill="#e3f1ef"/>
<rect x="245.5" y="691.58" width="8.86" height="2.975" fill="#fcf5be"/>
<rect x="254.4" y="691.58" width="8.86" height="2.975" fill="#fcf5be"/>
<rect x="50.6" y="694.55" width="8.86" height="2.975" fill="#fcc57c"/>
<rect x="59.5" y="694.55" width="8.86" height="2.975" fill="#fde396"/>
<rect x="68.3" y="694.55" width="8.86" height="2.975" fill="#fcf5be"/>
<rect x="77.2" y="694.55" width="8.86" height="2.975" fill="#fcc57c"/>
<rect x="86.0" y="694.55" width="8.86" height="2.975" fill="#fcf5be"/>
<rect x="94.9" y="694.55" width="8.86" height="2.975" fill="#fcf5be"/>
<rect x="103.8" y="694.55" width="8.86" height="2.975" fill="#fde396"/>
<rect x="112.6" y="694.55" width="8.86" height="2.975" fill="#e3f1ef"/>
<rect x="121.5" y="694.55" width="8.86" height="2.975" fill="#e3f1ef"/>
<rect x="130.3" y="694.55" width="8.86" height="2.975" fill="#fde396"/>
<rect x="139.2" y="694.55" width="8.86" height="2.975" fill="#fcc57c"/>
<rect x="148.1" y="694.55" width="8.86" height="2.975" fill="#fcc57c"/>
<rect x="156.9" y="694.55" width="8.86" height="2.975" fill="#fde396"/>
<rect x="165.8" y="694.55" width="8.86" height="2.975" fill="#fcf5be"/>
<rect x="174.6" y="694.55" width="8.86" height="2.975" fill="#d3e8f5"/>
<rect x="183.5" y="694.55" width="8.86" height="2.975" fill="#e3f1ef"/>
<rect x="192.4" y="694.55" width="8.86" height="2.975" fill="#e3f1ef"/>
<rect x="201.2" y="694.55" width="8.86" height="2.975" fill="#d3e8f5"/>
<rect x="210.1" y="694.55" width="8.86" height="2.975" fill="#fcf5be"/>
<rect x="218.9" y="694.55" width="8.86" height="2.975" fill="#a4c9e4"/>
<rect x="227.8" y="694.55" width="8.86" height="2.975" fill="#fcf5be"/>
<rect x="236.7" y="694.55" width="8.86" height="2.975" fill="#e3f1ef"/>
<rect x="245.5" y="694.55" width="8.86" height="2.975" fill="#e3f1ef"/>
<rect x="254.4" y="694.55" width="8.86" height="2.975" fill="#fcf5be"/>
<rect x="50.6" y="697.52" width="8.86" height="2.975" fill="#fcc57c"/>
<rect x="59.5" y="697.52" width="8.86" height="2.975" fill="#fcf5be"/>
<rect x="68.3" y="697.52" width="8.86" height="2.975" fill="#fcf5be"/>
<rect x="77.2" y="697.52" width="8.86" height="2.975" fill="#fcf5be"/>
<rect x="86.0" y="697.52" width="8.86" height="2.975" fill="#fcf5be"/>
<rect x="94.9" y="697.52" width="8.86" height="2.975" fill="#fcf5be"/>
<rect x="103.8" y="697.52" width="8.86" height="2.975" fill="#fde396"/>
<rect x="112.6" y="697.52" width="8.86" height="2.975" fill="#d3e8f5"/>
<rect x="121.5" y="697.52" width="8.86" height="2.975" fill="#e3f1ef"/>
<rect x="130.3" y="697.52" width="8.86" height="2.975" fill="#fcf5be"/>
<rect x="139.2" y="697.52" width="8.86" height="2.975" fill="#fcc57c"/>
<rect x="148.1" y="697.52" width="8.86" height="2.975" fill="#fcc57c"/>
<rect x="156.9" y="697.52" width="8.86" height="2.975" fill="#fde396"/>
<rect x="165.8" y="697.52" width="8.86" height="2.975" fill="#fde396"/>
<rect x="174.6" y="697.52" width="8.86" height="2.975" fill="#e3f1ef"/>
<rect x="183.5" y="697.52" width="8.86" height="2.975" fill="#e3f1ef"/>
<rect x="192.4" y="697.52" width="8.86" height="2.975" fill="#fcf5be"/>
<rect x="201.2" y="697.52" width="8.86" height="2.975" fill="#f5925a"/>
<rect x="210.1" y="697.52" width="8.86" height="2.975" fill="#fcf5be"/>
<rect x="218.9" y="697.52" width="8.86" height="2.975" fill="#a4c9e4"/>
<rect x="227.8" y="697.52" width="8.86" height="2.975" fill="#fcf5be"/>
<rect x="236.7" y="697.52" width="8.86" height="2.975" fill="#e3f1ef"/>
<rect x="245.5" y="697.52" width="8.86" height="2.975" fill="#e3f1ef"/>
<rect x="254.4" y="697.52" width="8.86" height="2.975" fill="#fcf5be"/>
<rect x="50.6" y="700.50" width="8.86" height="2.975" fill="#fde396"/>
<rect x="59.5" y="700.50" width="8.86" height="2.975" fill="#fcf5be"/>
<rect x="68.3" y="700.50" width="8.86" height="2.975" fill="#fde396"/>
<rect x="77.2" y="700.50" width="8.86" height="2.975" fill="#fcf5be"/>
<rect x="86.0" y="700.50" width="8.86" height="2.975" fill="#e3f1ef"/>
<rect x="94.9" y="700.50" width="8.86" height="2.975" fill="#e3f1ef"/>
<rect x="103.8" y="700.50" width="8.86" height="2.975" fill="#fcf5be"/>
<rect x="112.6" y="700.50" width="8.86" height="2.975" fill="#fcf5be"/>
<rect x="121.5" y="700.50" width="8.86" height="2.975" fill="#fcf5be"/>
<rect x="130.3" y="700.50" width="8.86" height="2.975" fill="#e3f1ef"/>
<rect x="139.2" y="700.50" width="8.86" height="2.975" fill="#f5925a"/>
<rect x="148.1" y="700.50" width="8.86" height="2.975" fill="#f5925a"/>
<rect x="156.9" y="700.50" width="8.86" height="2.975" fill="#fde396"/>
<rect x="165.8" y="700.50" width="8.86" height="2.975" fill="#fcf5be"/>
<rect x="174.6" y="700.50" width="8.86" height="2.975" fill="#e3f1ef"/>
<rect x="183.5" y="700.50" width="8.86" height="2.975" fill="#d3e8f5"/>
<rect x="192.4" y="700.50" width="8.86" height="2.975" fill="#e3f1ef"/>
<rect x="201.2" y="700.50" width="8.86" height="2.975" fill="#fcf5be"/>
<rect x="210.1" y="700.50" width="8.86" height="2.975" fill="#fcf5be"/>
<rect x="218.9" y="700.50" width="8.86" height="2.975" fill="#a4c9e4"/>
<rect x="227.8" y="700.50" width="8.86" height="2.975" fill="#fcf5be"/>
<rect x="236.7" y="700.50" width="8.86" height="2.975" fill="#fcf5be"/>
<rect x="245.5" y="700.50" width="8.86" height="2.975" fill="#e3f1ef"/>
<rect x="254.4" y="700.50" width="8.86" height="2.975" fill="#fcf5be"/>
<rect x="50.6" y="703.48" width="8.86" height="2.975" fill="#fde396"/>
<rect x="59.5" y="703.48" width="8.86" height="2.975" fill="#fcf5be"/>
<rect x="68.3" y="703.48" width="8.86" height="2.975" fill="#e3f1ef"/>
<rect x="77.2" y="703.48" width="8.86" height="2.975" fill="#e3f1ef"/>
<rect x="86.0" y="703.48" width="8.86" height="2.975" fill="#d3e8f5"/>
<rect x="94.9" y="703.48" width="8.86" height="2.975" fill="#e3f1ef"/>
<rect x="103.8" y="703.48" width="8.86" height="2.975" fill="#e3f1ef"/>
<rect x="112.6" y="703.48" width="8.86" height="2.975" fill="#fcf5be"/>
<rect x="121.5" y="703.48" width="8.86" height="2.975" fill="#fde396"/>
<rect x="130.3" y="703.48" width="8.86" height="2.975" fill="#fcc57c"/>
<rect x="139.2" y="703.48" width="8.86" height="2.975" fill="#f5925a"/>
<rect x="148.1" y="703.48" width="8.86" height="2.975" fill="#fcf5be"/>
<rect x="156.9" y="703.48" width="8.86" height="2.975" fill="#fde396"/>
<rect x="165.8" y="703.48" width="8.86" height="2.975" fill="#fcf5be"/>
<rect x="174.6" y="703.48" width="8.86" height="2.975" fill="#fcf5be"/>
<rect x="183.5" y="703.48" width="8.86" height="2.975" fill="#d3e8f5"/>
<rect x="192.4" y="703.48" width="8.86" height="2.975" fill="#fcf5be"/>
<rect x="201.2" y="703.48" width="8.86" height="2.975" fill="#fcf5be"/>
<rect x="210.1" y="703.48" width="8.86" height="2.975" fill="#fde396"/>
<rect x="218.9" y="703.48" width="8.86" height="2.975" fill="#608cc8"/>
<rect x="227.8" y="703.48" width="8.86" height="2.975" fill="#fcf5be"/>
<rect x="236.7" y="703.48" width="8.86" height="2.975" fill="#fcf5be"/>
<rect x="245.5" y="703.48" width="8.86" height="2.975" fill="#e3f1ef"/>
<rect x="254.4" y="703.48" width="8.86" height="2.975" fill="#fcf5be"/>
<rect x="50.6" y="706.45" width="8.86" height="2.975" fill="#fcc57c"/>
<rect x="59.5" y="706.45" width="8.86" height="2.975" fill="#fde396"/>
<rect x="68.3" y="706.45" width="8.86" height="2.975" fill="#fcf5be"/>
<rect x="77.2" y="706.45" width="8.86" height="2.975" fill="#fde396"/>
<rect x="86.0" y="706.45" width="8.86" height="2.975" fill="#e3f1ef"/>
<rect x="94.9" y="706.45" width="8.86" height="2.975" fill="#d3e8f5"/>
<rect x="103.8" y="706.45" width="8.86" height="2.975" fill="#fcf5be"/>
<rect x="112.6" y="706.45" width="8.86" height="2.975" fill="#fcc57c"/>
<rect x="121.5" y="706.45" width="8.86" height="2.975" fill="#e3f1ef"/>
<rect x="130.3" y="706.45" width="8.86" height="2.975" fill="#e3f1ef"/>
<rect x="139.2" y="706.45" width="8.86" height="2.975" fill="#fde396"/>
<rect x="148.1" y="706.45" width="8.86" height="2.975" fill="#fcc57c"/>
<rect x="156.9" y="706.45" width="8.86" height="2.975" fill="#fcc57c"/>
<rect x="165.8" y="706.45" width="8.86" height="2.975" fill="#fcf5be"/>
<rect x="174.6" y="706.45" width="8.86" height="2.975" fill="#e3f1ef"/>
<rect x="183.5" y="706.45" width="8.86" height="2.975" fill="#fcf5be"/>
<rect x="192.4" y="706.45" width="8.86" height="2.975" fill="#fcf5be"/>
<rect x="201.2" y="706.45" width="8.86" height="2.975" fill="#fcf5be"/>
<rect x="210.1" y="706.45" width="8.86" height="2.975" fill="#e3f1ef"/>
<rect x="218.9" y="706.45" width="8.86" height="2.975" fill="#d3e8f5"/>
<rect x="227.8" y="706.45" width="8.86" height="2.975" fill="#a4c9e4"/>
<rect x="236.7" y="706.45" width="8.86" height="2.975" fill="#d3e8f5"/>
<rect x="245.5" y="706.45" width="8.86" height="2.975" fill="#e3f1ef"/>
<rect x="254.4" y="706.45" width="8.86" height="2.975" fill="#fcf5be"/>
<rect x="50.6" y="709.42" width="8.86" height="2.975" fill="#fde396"/>
<rect x="59.5" y="709.42" width="8.86" height="2.975" fill="#fcf5be"/>
<rect x="68.3" y="709.42" width="8.86" height="2.975" fill="#e3f1ef"/>
<rect x="77.2" y="709.42" width="8.86" height="2.975" fill="#fcf5be"/>
<rect x="86.0" y="709.42" width="8.86" height="2.975" fill="#e3f1ef"/>
<rect x="94.9" y="709.42" width="8.86" height="2.975" fill="#d3e8f5"/>
<rect x="103.8" y="709.42" width="8.86" height="2.975" fill="#fde396"/>
<rect x="112.6" y="709.42" width="8.86" height="2.975" fill="#e3f1ef"/>
<rect x="121.5" y="709.42" width="8.86" height="2.975" fill="#e3f1ef"/>
<rect x="130.3" y="709.42" width="8.86" height="2.975" fill="#e3f1ef"/>
<rect x="139.2" y="709.42" width="8.86" height="2.975" fill="#d3e8f5"/>
<rect x="148.1" y="709.42" width="8.86" height="2.975" fill="#fde396"/>
<rect x="156.9" y="709.42" width="8.86" height="2.975" fill="#fcc57c"/>
<rect x="165.8" y="709.42" width="8.86" height="2.975" fill="#e3f1ef"/>
<rect x="174.6" y="709.42" width="8.86" height="2.975" fill="#fcf5be"/>
<rect x="183.5" y="709.42" width="8.86" height="2.975" fill="#e3f1ef"/>
<rect x="192.4" y="709.42" width="8.86" height="2.975" fill="#fcf5be"/>
<rect x="201.2" y="709.42" width="8.86" height="2.975" fill="#fcf5be"/>
<rect x="210.1" y="709.42" width="8.86" height="2.975" fill="#fcf5be"/>
<rect x="218.9" y="709.42" width="8.86" height="2.975" fill="#a4c9e4"/>
<rect x="227.8" y="709.42" width="8.86" height="2.975" fill="#fcf5be"/>
<rect x="236.7" y="709.42" width="8.86" height="2.975" fill="#e3f1ef"/>
<rect x="245.5" y="709.42" width="8.86" height="2.975" fill="#608cc8"/>
<rect x="254.4" y="709.42" width="8.86" height="2.975" fill="#fde396"/>
<rect x="50.6" y="712.40" width="8.86" height="2.975" fill="#fcc57c"/>
<rect x="59.5" y="712.40" width="8.86" height="2.975" fill="#fcf5be"/>
<rect x="68.3" y="712.40" width="8.86" height="2.975" fill="#fcf5be"/>
<rect x="77.2" y="712.40" width="8.86" height="2.975" fill="#fcf5be"/>
<rect x="86.0" y="712.40" width="8.86" height="2.975" fill="#e3f1ef"/>
<rect x="94.9" y="712.40" width="8.86" height="2.975" fill="#d3e8f5"/>
<rect x="103.8" y="712.40" width="8.86" height="2.975" fill="#fcc57c"/>
<rect x="112.6" y="712.40" width="8.86" height="2.975" fill="#e3f1ef"/>
<rect x="121.5" y="712.40" width="8.86" height="2.975" fill="#a4c9e4"/>
<rect x="130.3" y="712.40" width="8.86" height="2.975" fill="#e3f1ef"/>
<rect x="139.2" y="712.40" width="8.86" height="2.975" fill="#fcf5be"/>
<rect x="148.1" y="712.40" width="8.86" height="2.975" fill="#fcc57c"/>
<rect x="156.9" y="712.40" width="8.86" height="2.975" fill="#fde396"/>
<rect x="165.8" y="712.40" width="8.86" height="2.975" fill="#e3f1ef"/>
<rect x="174.6" y="712.40" width="8.86" height="2.975" fill="#fde396"/>
<rect x="183.5" y="712.40" width="8.86" height="2.975" fill="#fcf5be"/>
<rect x="192.4" y="712.40" width="8.86" height="2.975" fill="#e3f1ef"/>
<rect x="201.2" y="712.40" width="8.86" height="2.975" fill="#f5925a"/>
<rect x="210.1" y="712.40" width="8.86" height="2.975" fill="#fde396"/>
<rect x="218.9" y="712.40" width="8.86" height="2.975" fill="#e3f1ef"/>
<rect x="227.8" y="712.40" width="8.86" height="2.975" fill="#fcf5be"/>
<rect x="236.7" y="712.40" width="8.86" height="2.975" fill="#e3f1ef"/>
<rect x="245.5" y="712.40" width="8.86" height="2.975" fill="#d3e8f5"/>
<rect x="254.4" y="712.40" width="8.86" height="2.975" fill="#d3e8f5"/>
<rect x="50.6" y="715.38" width="8.86" height="2.975" fill="#f5925a"/>
<rect x="59.5" y="715.38" width="8.86" height="2.975" fill="#fcf5be"/>
<rect x="68.3" y="715.38" width="8.86" height="2.975" fill="#f5925a"/>
<rect x="77.2" y="715.38" width="8.86" height="2.975" fill="#fcf5be"/>
<rect x="86.0" y="715.38" width="8.86" height="2.975" fill="#e3f1ef"/>
<rect x="94.9" y="715.38" width="8.86" height="2.975" fill="#e3f1ef"/>
<rect x="103.8" y="715.38" width="8.86" height="2.975" fill="#fcf5be"/>
<rect x="112.6" y="715.38" width="8.86" height="2.975" fill="#fde396"/>
<rect x="121.5" y="715.38" width="8.86" height="2.975" fill="#e3f1ef"/>
<rect x="130.3" y="715.38" width="8.86" height="2.975" fill="#d3e8f5"/>
<rect x="139.2" y="715.38" width="8.86" height="2.975" fill="#e3f1ef"/>
<rect x="148.1" y="715.38" width="8.86" height="2.975" fill="#fde396"/>
<rect x="156.9" y="715.38" width="8.86" height="2.975" fill="#fde396"/>
<rect x="165.8" y="715.38" width="8.86" height="2.975" fill="#e3f1ef"/>
<rect x="174.6" y="715.38" width="8.86" height="2.975" fill="#fcf5be"/>
<rect x="183.5" y="715.38" width="8.86" height="2.975" fill="#fcf5be"/>
<rect x="192.4" y="715.38" width="8.86" height="2.975" fill="#fcf5be"/>
<rect x="201.2" y="715.38" width="8.86" height="2.975" fill="#fcf5be"/>
<rect x="210.1" y="715.38" width="8.86" height="2.975" fill="#fcf5be"/>
<rect x="218.9" y="715.38" width="8.86" height="2.975" fill="#a4c9e4"/>
<rect x="227.8" y="715.38" width="8.86" height="2.975" fill="#e3f1ef"/>
<rect x="236.7" y="715.38" width="8.86" height="2.975" fill="#a4c9e4"/>
<rect x="245.5" y="715.38" width="8.86" height="2.975" fill="#e3f1ef"/>
<rect x="254.4" y="715.38" width="8.86" height="2.975" fill="#d3e8f5"/>
<rect x="50.6" y="718.35" width="8.86" height="2.975" fill="#fcf5be"/>
<rect x="59.5" y="718.35" width="8.86" height="2.975" fill="#fde396"/>
<rect x="68.3" y="718.35" width="8.86" height="2.975" fill="#fcf5be"/>
<rect x="77.2" y="718.35" width="8.86" height="2.975" fill="#fde396"/>
<rect x="86.0" y="718.35" width="8.86" height="2.975" fill="#fcf5be"/>
<rect x="94.9" y="718.35" width="8.86" height="2.975" fill="#fcf5be"/>
<rect x="103.8" y="718.35" width="8.86" height="2.975" fill="#fcf5be"/>
<rect x="112.6" y="718.35" width="8.86" height="2.975" fill="#fcf5be"/>
<rect x="121.5" y="718.35" width="8.86" height="2.975" fill="#e3f1ef"/>
<rect x="130.3" y="718.35" width="8.86" height="2.975" fill="#fcf5be"/>
<rect x="139.2" y="718.35" width="8.86" height="2.975" fill="#fde396"/>
<rect x="148.1" y="718.35" width="8.86" height="2.975" fill="#e3f1ef"/>
<rect x="156.9" y="718.35" width="8.86" height="2.975" fill="#fcf5be"/>
<rect x="165.8" y="718.35" width="8.86" height="2.975" fill="#e3f1ef"/>
<rect x="174.6" y="718.35" width="8.86" height="2.975" fill="#fcf5be"/>
<rect x="183.5" y="718.35" width="8.86" height="2.975" fill="#fcf5be"/>
<rect x="192.4" y="718.35" width="8.86" height="2.975" fill="#fcf5be"/>
<rect x="201.2" y="718.35" width="8.86" height="2.975" fill="#fcf5be"/>
<rect x="210.1" y="718.35" width="8.86" height="2.975" fill="#fde396"/>
<rect x="218.9" y="718.35" width="8.86" height="2.975" fill="#d3e8f5"/>
<rect x="227.8" y="718.35" width="8.86" height="2.975" fill="#fcf5be"/>
<rect x="236.7" y="718.35" width="8.86" height="2.975" fill="#e3f1ef"/>
<rect x="245.5" y="718.35" width="8.86" height="2.975" fill="#d3e8f5"/>
<rect x="254.4" y="718.35" width="8.86" height="2.975" fill="#a4c9e4"/>
<rect x="50.6" y="721.33" width="8.86" height="2.975" fill="#fcc57c"/>
<rect x="59.5" y="721.33" width="8.86" height="2.975" fill="#d3e8f5"/>
<rect x="68.3" y="721.33" width="8.86" height="2.975" fill="#fcc57c"/>
<rect x="77.2" y="721.33" width="8.86" height="2.975" fill="#fcc57c"/>
<rect x="86.0" y="721.33" width="8.86" height="2.975" fill="#e3f1ef"/>
<rect x="94.9" y="721.33" width="8.86" height="2.975" fill="#e3f1ef"/>
<rect x="103.8" y="721.33" width="8.86" height="2.975" fill="#fde396"/>
<rect x="112.6" y="721.33" width="8.86" height="2.975" fill="#fde396"/>
<rect x="121.5" y="721.33" width="8.86" height="2.975" fill="#e3f1ef"/>
<rect x="130.3" y="721.33" width="8.86" height="2.975" fill="#e3f1ef"/>
<rect x="139.2" y="721.33" width="8.86" height="2.975" fill="#fcf5be"/>
<rect x="148.1" y="721.33" width="8.86" height="2.975" fill="#fcf5be"/>
<rect x="156.9" y="721.33" width="8.86" height="2.975" fill="#fcf5be"/>
<rect x="165.8" y="721.33" width="8.86" height="2.975" fill="#fde396"/>
<rect x="174.6" y="721.33" width="8.86" height="2.975" fill="#e3f1ef"/>
<rect x="183.5" y="721.33" width="8.86" height="2.975" fill="#e3f1ef"/>
<rect x="192.4" y="721.33" width="8.86" height="2.975" fill="#fde396"/>
<rect x="201.2" y="721.33" width="8.86" height="2.975" fill="#fde396"/>
<rect x="210.1" y="721.33" width="8.86" height="2.975" fill="#fde396"/>
<rect x="218.9" y="721.33" width="8.86" height="2.975" fill="#d3e8f5"/>
<rect x="227.8" y="721.33" width="8.86" height="2.975" fill="#fcc57c"/>
<rect x="236.7" y="721.33" width="8.86" height="2.975" fill="#fcf5be"/>
<rect x="245.5" y="721.33" width="8.86" height="2.975" fill="#d3e8f5"/>
<rect x="254.4" y="721.33" width="8.86" height="2.975" fill="#d3e8f5"/>
<rect x="50.6" y="724.30" width="8.86" height="2.975" fill="#fcc57c"/>
<rect x="59.5" y="724.30" width="8.86" height="2.975" fill="#fde396"/>
<rect x="68.3" y="724.30" width="8.86" height="2.975" fill="#fcc57c"/>
<rect x="77.2" y="724.30" width="8.86" height="2.975" fill="#f5925a"/>
<rect x="86.0" y="724.30" width="8.86" height="2.975" fill="#fcf5be"/>
<rect x="94.9" y="724.30" width="8.86" height="2.975" fill="#fcf5be"/>
<rect x="103.8" y="724.30" width="8.86" height="2.975" fill="#fcf5be"/>
<rect x="112.6" y="724.30" width="8.86" height="2.975" fill="#fcc57c"/>
<rect x="121.5" y="724.30" width="8.86" height="2.975" fill="#e3f1ef"/>
<rect x="130.3" y="724.30" width="8.86" height="2.975" fill="#e3f1ef"/>
<rect x="139.2" y="724.30" width="8.86" height="2.975" fill="#fcf5be"/>
<rect x="148.1" y="724.30" width="8.86" height="2.975" fill="#fcf5be"/>
<rect x="156.9" y="724.30" width="8.86" height="2.975" fill="#fcf5be"/>
<rect x="165.8" y="724.30" width="8.86" height="2.975" fill="#fcf5be"/>
<rect x="174.6" y="724.30" width="8.86" height="2.975" fill="#d3e8f5"/>
<rect x="183.5" y="724.30" width="8.86" height="2.975" fill="#e3f1ef"/>
<rect x="192.4" y="724.30" width="8.86" height="2.975" fill="#fcc57c"/>
<rect x="201.2" y="724.30" width="8.86" height="2.975" fill="#fcc57c"/>
<rect x="210.1" y="724.30" width="8.86" height="2.975" fill="#fcf5be"/>
<rect x="218.9" y="724.30" width="8.86" height="2.975" fill="#a4c9e4"/>
<rect x="227.8" y="724.30" width="8.86" height="2.975" fill="#e3f1ef"/>
<rect x="236.7" y="724.30" width="8.86" height="2.975" fill="#d3e8f5"/>
<rect x="245.5" y="724.30" width="8.86" height="2.975" fill="#e3f1ef"/>
<rect x="254.4" y="724.30" width="8.86" height="2.975" fill="#d3e8f5"/>
<rect x="50.6" y="727.27" width="8.86" height="2.975" fill="#fcf5be"/>
<rect x="59.5" y="727.27" width="8.86" height="2.975" fill="#e3f1ef"/>
<rect x="68.3" y="727.27" width="8.86" height="2.975" fill="#fcf5be"/>
<rect x="77.2" y="727.27" width="8.86" height="2.975" fill="#e3f1ef"/>
<rect x="86.0" y="727.27" width="8.86" height="2.975" fill="#fde396"/>
<rect x="94.9" y="727.27" width="8.86" height="2.975" fill="#f5925a"/>
<rect x="103.8" y="727.27" width="8.86" height="2.975" fill="#f5925a"/>
<rect x="112.6" y="727.27" width="8.86" height="2.975" fill="#d3e8f5"/>
<rect x="121.5" y="727.27" width="8.86" height="2.975" fill="#e3f1ef"/>
<rect x="130.3" y="727.27" width="8.86" height="2.975" fill="#fcc57c"/>
<rect x="139.2" y="727.27" width="8.86" height="2.975" fill="#e3f1ef"/>
<rect x="148.1" y="727.27" width="8.86" height="2.975" fill="#fcf5be"/>
<rect x="156.9" y="727.27" width="8.86" height="2.975" fill="#fcf5be"/>
<rect x="165.8" y="727.27" width="8.86" height="2.975" fill="#fcc57c"/>
<rect x="174.6" y="727.27" width="8.86" height="2.975" fill="#e3f1ef"/>
<rect x="183.5" y="727.27" width="8.86" height="2.975" fill="#fcf5be"/>
<rect x="192.4" y="727.27" width="8.86" height="2.975" fill="#fcf5be"/>
<rect x="201.2" y="727.27" width="8.86" height="2.975" fill="#fcf5be"/>
<rect x="210.1" y="727.27" width="8.86" height="2.975" fill="#e3f1ef"/>
<rect x="218.9" y="727.27" width="8.86" height="2.975" fill="#fde396"/>
<rect x="227.8" y="727.27" width="8.86" height="2.975" fill="#e3f1ef"/>
<rect x="236.7" y="727.27" width="8.86" height="2.975" fill="#d3e8f5"/>
<rect x="245.5" y="727.27" width="8.86" height="2.975" fill="#e3f1ef"/>
<rect x="254.4" y="727.27" width="8.86" height="2.975" fill="#d3e8f5"/>
<rect x="50.6" y="730.25" width="8.86" height="2.975" fill="#f5925a"/>
<rect x="59.5" y="730.25" width="8.86" height="2.975" fill="#e3f1ef"/>
<rect x="68.3" y="730.25" width="8.86" height="2.975" fill="#fcf5be"/>
<rect x="77.2" y="730.25" width="8.86" height="2.975" fill="#fcf5be"/>
<rect x="86.0" y="730.25" width="8.86" height="2.975" fill="#fde396"/>
<rect x="94.9" y="730.25" width="8.86" height="2.975" fill="#fcf5be"/>
<rect x="103.8" y="730.25" width="8.86" height="2.975" fill="#fcf5be"/>
<rect x="112.6" y="730.25" width="8.86" height="2.975" fill="#fcf5be"/>
<rect x="121.5" y="730.25" width="8.86" height="2.975" fill="#d3e8f5"/>
<rect x="130.3" y="730.25" width="8.86" height="2.975" fill="#f5925a"/>
<rect x="139.2" y="730.25" width="8.86" height="2.975" fill="#fcf5be"/>
<rect x="148.1" y="730.25" width="8.86" height="2.975" fill="#fcf5be"/>
<rect x="156.9" y="730.25" width="8.86" height="2.975" fill="#fcf5be"/>
<rect x="165.8" y="730.25" width="8.86" height="2.975" fill="#f5925a"/>
<rect x="174.6" y="730.25" width="8.86" height="2.975" fill="#fcf5be"/>
<rect x="183.5" y="730.25" width="8.86" height="2.975" fill="#fcf5be"/>
<rect x="192.4" y="730.25" width="8.86" height="2.975" fill="#fde396"/>
<rect x="201.2" y="730.25" width="8.86" height="2.975" fill="#fde396"/>
<rect x="210.1" y="730.25" width="8.86" height="2.975" fill="#fcf5be"/>
<rect x="218.9" y="730.25" width="8.86" height="2.975" fill="#d3e8f5"/>
<rect x="227.8" y="730.25" width="8.86" height="2.975" fill="#d3e8f5"/>
<rect x="236.7" y="730.25" width="8.86" height="2.975" fill="#d3e8f5"/>
<rect x="245.5" y="730.25" width="8.86" height="2.975" fill="#fcf5be"/>
<rect x="254.4" y="730.25" width="8.86" height="2.975" fill="#e3f1ef"/>
<rect x="50.6" y="733.23" width="8.86" height="2.975" fill="#f5925a"/>
<rect x="59.5" y="733.23" width="8.86" height="2.975" fill="#e3f1ef"/>
<rect x="68.3" y="733.23" width="8.86" height="2.975" fill="#fcf5be"/>
<rect x="77.2" y="733.23" width="8.86" height="2.975" fill="#fde396"/>
<rect x="86.0" y="733.23" width="8.86" height="2.975" fill="#fde396"/>
<rect x="94.9" y="733.23" width="8.86" height="2.975" fill="#fcc57c"/>
<rect x="103.8" y="733.23" width="8.86" height="2.975" fill="#fcf5be"/>
<rect x="112.6" y="733.23" width="8.86" height="2.975" fill="#fcf5be"/>
<rect x="121.5" y="733.23" width="8.86" height="2.975" fill="#e3f1ef"/>
<rect x="130.3" y="733.23" width="8.86" height="2.975" fill="#fcf5be"/>
<rect x="139.2" y="733.23" width="8.86" height="2.975" fill="#fde396"/>
<rect x="148.1" y="733.23" width="8.86" height="2.975" fill="#fcf5be"/>
<rect x="156.9" y="733.23" width="8.86" height="2.975" fill="#fcf5be"/>
<rect x="165.8" y="733.23" width="8.86" height="2.975" fill="#fcc57c"/>
<rect x="174.6" y="733.23" width="8.86" height="2.975" fill="#a4c9e4"/>
<rect x="183.5" y="733.23" width="8.86" height="2.975" fill="#fcf5be"/>
<rect x="192.4" y="733.23" width="8.86" height="2.975" fill="#fcf5be"/>
<rect x="201.2" y="733.23" width="8.86" height="2.975" fill="#fcf5be"/>
<rect x="210.1" y="733.23" width="8.86" height="2.975" fill="#fcf5be"/>
<rect x="218.9" y="733.23" width="8.86" height="2.975" fill="#e3f1ef"/>
<rect x="227.8" y="733.23" width="8.86" height="2.975" fill="#d3e8f5"/>
<rect x="236.7" y="733.23" width="8.86" height="2.975" fill="#e3f1ef"/>
<rect x="245.5" y="733.23" width="8.86" height="2.975" fill="#e3f1ef"/>
<rect x="254.4" y="733.23" width="8.86" height="2.975" fill="#e3f1ef"/>
<rect x="50.6" y="736.20" width="8.86" height="2.975" fill="#fcc57c"/>
<rect x="59.5" y="736.20" width="8.86" height="2.975" fill="#fcf5be"/>
<rect x="68.3" y="736.20" width="8.86" height="2.975" fill="#e3f1ef"/>
<rect x="77.2" y="736.20" width="8.86" height="2.975" fill="#fde396"/>
<rect x="86.0" y="736.20" width="8.86" height="2.975" fill="#fcf5be"/>
<rect x="94.9" y="736.20" width="8.86" height="2.975" fill="#e3f1ef"/>
<rect x="103.8" y="736.20" width="8.86" height="2.975" fill="#e3f1ef"/>
<rect x="112.6" y="736.20" width="8.86" height="2.975" fill="#d3e8f5"/>
<rect x="121.5" y="736.20" width="8.86" height="2.975" fill="#e3f1ef"/>
<rect x="130.3" y="736.20" width="8.86" height="2.975" fill="#e3f1ef"/>
<rect x="139.2" y="736.20" width="8.86" height="2.975" fill="#fcc57c"/>
<rect x="148.1" y="736.20" width="8.86" height="2.975" fill="#fcf5be"/>
<rect x="156.9" y="736.20" width="8.86" height="2.975" fill="#fcf5be"/>
<rect x="165.8" y="736.20" width="8.86" height="2.975" fill="#e45838"/>
<rect x="174.6" y="736.20" width="8.86" height="2.975" fill="#e3f1ef"/>
<rect x="183.5" y="736.20" width="8.86" height="2.975" fill="#e3f1ef"/>
<rect x="192.4" y="736.20" width="8.86" height="2.975" fill="#e3f1ef"/>
<rect x="201.2" y="736.20" width="8.86" height="2.975" fill="#fde396"/>
<rect x="210.1" y="736.20" width="8.86" height="2.975" fill="#fcf5be"/>
<rect x="218.9" y="736.20" width="8.86" height="2.975" fill="#a4c9e4"/>
<rect x="227.8" y="736.20" width="8.86" height="2.975" fill="#d3e8f5"/>
<rect x="236.7" y="736.20" width="8.86" height="2.975" fill="#e3f1ef"/>
<rect x="245.5" y="736.20" width="8.86" height="2.975" fill="#e3f1ef"/>
<rect x="254.4" y="736.20" width="8.86" height="2.975" fill="#fcf5be"/>
<rect x="50.6" y="739.17" width="8.86" height="2.975" fill="#fde396"/>
<rect x="59.5" y="739.17" width="8.86" height="2.975" fill="#d3e8f5"/>
<rect x="68.3" y="739.17" width="8.86" height="2.975" fill="#fcf5be"/>
<rect x="77.2" y="739.17" width="8.86" height="2.975" fill="#fcc57c"/>
<rect x="86.0" y="739.17" width="8.86" height="2.975" fill="#e3f1ef"/>
<rect x="94.9" y="739.17" width="8.86" height="2.975" fill="#a4c9e4"/>
<rect x="103.8" y="739.17" width="8.86" height="2.975" fill="#d3e8f5"/>
<rect x="112.6" y="739.17" width="8.86" height="2.975" fill="#fcf5be"/>
<rect x="121.5" y="739.17" width="8.86" height="2.975" fill="#e3f1ef"/>
<rect x="130.3" y="739.17" width="8.86" height="2.975" fill="#e3f1ef"/>
<rect x="139.2" y="739.17" width="8.86" height="2.975" fill="#fcf5be"/>
<rect x="148.1" y="739.17" width="8.86" height="2.975" fill="#f5925a"/>
<rect x="156.9" y="739.17" width="8.86" height="2.975" fill="#fde396"/>
<rect x="165.8" y="739.17" width="8.86" height="2.975" fill="#fcf5be"/>
<rect x="174.6" y="739.17" width="8.86" height="2.975" fill="#d3e8f5"/>
<rect x="183.5" y="739.17" width="8.86" height="2.975" fill="#fde396"/>
<rect x="192.4" y="739.17" width="8.86" height="2.975" fill="#fde396"/>
<rect x="201.2" y="739.17" width="8.86" height="2.975" fill="#fcf5be"/>
<rect x="210.1" y="739.17" width="8.86" height="2.975" fill="#fcf5be"/>
<rect x="218.9" y="739.17" width="8.86" height="2.975" fill="#fcf5be"/>
<rect x="227.8" y="739.17" width="8.86" height="2.975" fill="#e3f1ef"/>
<rect x="236.7" y="739.17" width="8.86" height="2.975" fill="#e3f1ef"/>
<rect x="245.5" y="739.17" width="8.86" height="2.975" fill="#e3f1ef"/>
<rect x="254.4" y="739.17" width="8.86" height="2.975" fill="#fcf5be"/>
<rect x="50.6" y="742.15" width="8.86" height="2.975" fill="#fcf5be"/>
<rect x="59.5" y="742.15" width="8.86" height="2.975" fill="#e3f1ef"/>
<rect x="68.3" y="742.15" width="8.86" height="2.975" fill="#fde396"/>
<rect x="77.2" y="742.15" width="8.86" height="2.975" fill="#fcc57c"/>
<rect x="86.0" y="742.15" width="8.86" height="2.975" fill="#fcf5be"/>
<rect x="94.9" y="742.15" width="8.86" height="2.975" fill="#a4c9e4"/>
<rect x="103.8" y="742.15" width="8.86" height="2.975" fill="#e3f1ef"/>
<rect x="112.6" y="742.15" width="8.86" height="2.975" fill="#fcf5be"/>
<rect x="121.5" y="742.15" width="8.86" height="2.975" fill="#e3f1ef"/>
<rect x="130.3" y="742.15" width="8.86" height="2.975" fill="#e3f1ef"/>
<rect x="139.2" y="742.15" width="8.86" height="2.975" fill="#fcf5be"/>
<rect x="148.1" y="742.15" width="8.86" height="2.975" fill="#e3f1ef"/>
<rect x="156.9" y="742.15" width="8.86" height="2.975" fill="#fde396"/>
<rect x="165.8" y="742.15" width="8.86" height="2.975" fill="#d3e8f5"/>
<rect x="174.6" y="742.15" width="8.86" height="2.975" fill="#fcf5be"/>
<rect x="183.5" y="742.15" width="8.86" height="2.975" fill="#f5925a"/>
<rect x="192.4" y="742.15" width="8.86" height="2.975" fill="#fcc57c"/>
<rect x="201.2" y="742.15" width="8.86" height="2.975" fill="#fcc57c"/>
<rect x="210.1" y="742.15" width="8.86" height="2.975" fill="#fcf5be"/>
<rect x="218.9" y="742.15" width="8.86" height="2.975" fill="#fcf5be"/>
<rect x="227.8" y="742.15" width="8.86" height="2.975" fill="#a4c9e4"/>
<rect x="236.7" y="742.15" width="8.86" height="2.975" fill="#e3f1ef"/>
<rect x="245.5" y="742.15" width="8.86" height="2.975" fill="#e3f1ef"/>
<rect x="254.4" y="742.15" width="8.86" height="2.975" fill="#e3f1ef"/>
<rect x="50.6" y="745.12" width="8.86" height="2.975" fill="#fcf5be"/>
<rect x="59.5" y="745.12" width="8.86" height="2.975" fill="#e3f1ef"/>
<rect x="68.3" y="745.12" width="8.86" height="2.975" fill="#fcf5be"/>
<rect x="77.2" y="745.12" width="8.86" height="2.975" fill="#fde396"/>
<rect x="86.0" y="745.12" width="8.86" height="2.975" fill="#fcf5be"/>
<rect x="94.9" y="745.12" width="8.86" height="2.975" fill="#fcf5be"/>
<rect x="103.8" y="745.12" width="8.86" height="2.975" fill="#fde396"/>
<rect x="112.6" y="745.12" width="8.86" height="2.975" fill="#f5925a"/>
<rect x="121.5" y="745.12" width="8.86" height="2.975" fill="#e3f1ef"/>
<rect x="130.3" y="745.12" width="8.86" height="2.975" fill="#a4c9e4"/>
<rect x="139.2" y="745.12" width="8.86" height="2.975" fill="#fde396"/>
<rect x="148.1" y="745.12" width="8.86" height="2.975" fill="#fcc57c"/>
<rect x="156.9" y="745.12" width="8.86" height="2.975" fill="#d3e8f5"/>
<rect x="165.8" y="745.12" width="8.86" height="2.975" fill="#fde396"/>
<rect x="174.6" y="745.12" width="8.86" height="2.975" fill="#fcf5be"/>
<rect x="183.5" y="745.12" width="8.86" height="2.975" fill="#fcf5be"/>
<rect x="192.4" y="745.12" width="8.86" height="2.975" fill="#fcf5be"/>
<rect x="201.2" y="745.12" width="8.86" height="2.975" fill="#fcf5be"/>
<rect x="210.1" y="745.12" width="8.86" height="2.975" fill="#fcf5be"/>
<rect x="218.9" y="745.12" width="8.86" height="2.975" fill="#e3f1ef"/>
<rect x="227.8" y="745.12" width="8.86" height="2.975" fill="#d3e8f5"/>
<rect x="236.7" y="745.12" width="8.86" height="2.975" fill="#e3f1ef"/>
<rect x="245.5" y="745.12" width="8.86" height="2.975" fill="#e3f1ef"/>
<rect x="254.4" y="745.12" width="8.86" height="2.975" fill="#e3f1ef"/>
<rect x="50.6" y="748.10" width="8.86" height="2.975" fill="#fcc57c"/>
<rect x="59.5" y="748.10" width="8.86" height="2.975" fill="#e3f1ef"/>
<rect x="68.3" y="748.10" width="8.86" height="2.975" fill="#fcf5be"/>
<rect x="77.2" y="748.10" width="8.86" height="2.975" fill="#fcc57c"/>
<rect x="86.0" y="748.10" width="8.86" height="2.975" fill="#e3f1ef"/>
<rect x="94.9" y="748.10" width="8.86" height="2.975" fill="#e3f1ef"/>
<rect x="103.8" y="748.10" width="8.86" height="2.975" fill="#fde396"/>
<rect x="112.6" y="748.10" width="8.86" height="2.975" fill="#e3f1ef"/>
<rect x="121.5" y="748.10" width="8.86" height="2.975" fill="#fcf5be"/>
<rect x="130.3" y="748.10" width="8.86" height="2.975" fill="#e3f1ef"/>
<rect x="139.2" y="748.10" width="8.86" height="2.975" fill="#e3f1ef"/>
<rect x="148.1" y="748.10" width="8.86" height="2.975" fill="#fcf5be"/>
<rect x="156.9" y="748.10" width="8.86" height="2.975" fill="#fde396"/>
<rect x="165.8" y="748.10" width="8.86" height="2.975" fill="#fcf5be"/>
<rect x="174.6" y="748.10" width="8.86" height="2.975" fill="#fcf5be"/>
<rect x="183.5" y="748.10" width="8.86" height="2.975" fill="#fcc57c"/>
<rect x="192.4" y="748.10" width="8.86" height="2.975" fill="#fcc57c"/>
<rect x="201.2" y="748.10" width="8.86" height="2.975" fill="#e3f1ef"/>
<rect x="210.1" y="748.10" width="8.86" height="2.975" fill="#f5925a"/>
<rect x="218.9" y="748.10" width="8.86" height="2.975" fill="#fcf5be"/>
<rect x="227.8" y="748.10" width="8.86" height="2.975" fill="#e3f1ef"/>
<rect x="236.7" y="748.10" width="8.86" height="2.975" fill="#d3e8f5"/>
<rect x="245.5" y="748.10" width="8.86" height="2.975" fill="#e3f1ef"/>
<rect x="254.4" y="748.10" width="8.86" height="2.975" fill="#a4c9e4"/>
<rect x="50.6" y="751.08" width="8.86" height="2.975" fill="#e45838"/>
<rect x="59.5" y="751.08" width="8.86" height="2.975" fill="#a4c9e4"/>
<rect x="68.3" y="751.08" width="8.86" height="2.975" fill="#e3f1ef"/>
<rect x="77.2" y="751.08" width="8.86" height="2.975" fill="#fcf5be"/>
<rect x="86.0" y="751.08" width="8.86" height="2.975" fill="#e3f1ef"/>
<rect x="94.9" y="751.08" width="8.86" height="2.975" fill="#fcf5be"/>
<rect x="103.8" y="751.08" width="8.86" height="2.975" fill="#fde396"/>
<rect x="112.6" y="751.08" width="8.86" height="2.975" fill="#fcf5be"/>
<rect x="121.5" y="751.08" width="8.86" height="2.975" fill="#fcf5be"/>
<rect x="130.3" y="751.08" width="8.86" height="2.975" fill="#e3f1ef"/>
<rect x="139.2" y="751.08" width="8.86" height="2.975" fill="#fcf5be"/>
<rect x="148.1" y="751.08" width="8.86" height="2.975" fill="#fcf5be"/>
<rect x="156.9" y="751.08" width="8.86" height="2.975" fill="#fcf5be"/>
<rect x="165.8" y="751.08" width="8.86" height="2.975" fill="#fcf5be"/>
<rect x="174.6" y="751.08" width="8.86" height="2.975" fill="#fcf5be"/>
<rect x="183.5" y="751.08" width="8.86" height="2.975" fill="#fcf5be"/>
<rect x="192.4" y="751.08" width="8.86" height="2.975" fill="#fcc57c"/>
<rect x="201.2" y="751.08" width="8.86" height="2.975" fill="#fcf5be"/>
<rect x="210.1" y="751.08" width="8.86" height="2.975" fill="#d3e8f5"/>
<rect x="218.9" y="751.08" width="8.86" height="2.975" fill="#d3e8f5"/>
<rect x="227.8" y="751.08" width="8.86" height="2.975" fill="#e3f1ef"/>
<rect x="236.7" y="751.08" width="8.86" height="2.975" fill="#d3e8f5"/>
<rect x="245.5" y="751.08" width="8.86" height="2.975" fill="#e3f1ef"/>
<rect x="254.4" y="751.08" width="8.86" height="2.975" fill="#e3f1ef"/>
<rect x="50.6" y="754.05" width="8.86" height="2.975" fill="#d3e8f5"/>
<rect x="59.5" y="754.05" width="8.86" height="2.975" fill="#fde396"/>
<rect x="68.3" y="754.05" width="8.86" height="2.975" fill="#d3e8f5"/>
<rect x="77.2" y="754.05" width="8.86" height="2.975" fill="#fcf5be"/>
<rect x="86.0" y="754.05" width="8.86" height="2.975" fill="#d3e8f5"/>
<rect x="94.9" y="754.05" width="8.86" height="2.975" fill="#e3f1ef"/>
<rect x="103.8" y="754.05" width="8.86" height="2.975" fill="#fde396"/>
<rect x="112.6" y="754.05" width="8.86" height="2.975" fill="#fcf5be"/>
<rect x="121.5" y="754.05" width="8.86" height="2.975" fill="#fcf5be"/>
<rect x="130.3" y="754.05" width="8.86" height="2.975" fill="#e3f1ef"/>
<rect x="139.2" y="754.05" width="8.86" height="2.975" fill="#d3e8f5"/>
<rect x="148.1" y="754.05" width="8.86" height="2.975" fill="#e3f1ef"/>
<rect x="156.9" y="754.05" width="8.86" height="2.975" fill="#fcf5be"/>
<rect x="165.8" y="754.05" width="8.86" height="2.975" fill="#fcf5be"/>
<rect x="174.6" y="754.05" width="8.86" height="2.975" fill="#fcf5be"/>
<rect x="183.5" y="754.05" width="8.86" height="2.975" fill="#fcf5be"/>
<rect x="192.4" y="754.05" width="8.86" height="2.975" fill="#fcc57c"/>
<rect x="201.2" y="754.05" width="8.86" height="2.975" fill="#fcf5be"/>
<rect x="210.1" y="754.05" width="8.86" height="2.975" fill="#d3e8f5"/>
<rect x="218.9" y="754.05" width="8.86" height="2.975" fill="#fcf5be"/>
<rect x="227.8" y="754.05" width="8.86" height="2.975" fill="#fcf5be"/>
<rect x="236.7" y="754.05" width="8.86" height="2.975" fill="#fcf5be"/>
<rect x="245.5" y="754.05" width="8.86" height="2.975" fill="#e3f1ef"/>
<rect x="254.4" y="754.05" width="8.86" height="2.975" fill="#e3f1ef"/>
<rect x="50.6" y="757.02" width="8.86" height="2.975" fill="#d3e8f5"/>
<rect x="59.5" y="757.02" width="8.86" height="2.975" fill="#fcf5be"/>
<rect x="68.3" y="757.02" width="8.86" height="2.975" fill="#d3e8f5"/>
<rect x="77.2" y="757.02" width="8.86" height="2.975" fill="#fcf5be"/>
<rect x="86.0" y="757.02" width="8.86" height="2.975" fill="#d3e8f5"/>
<rect x="94.9" y="757.02" width="8.86" height="2.975" fill="#e3f1ef"/>
<rect x="103.8" y="757.02" width="8.86" height="2.975" fill="#fcf5be"/>
<rect x="112.6" y="757.02" width="8.86" height="2.975" fill="#fcc57c"/>
<rect x="121.5" y="757.02" width="8.86" height="2.975" fill="#e3f1ef"/>
<rect x="130.3" y="757.02" width="8.86" height="2.975" fill="#d3e8f5"/>
<rect x="139.2" y="757.02" width="8.86" height="2.975" fill="#e3f1ef"/>
<rect x="148.1" y="757.02" width="8.86" height="2.975" fill="#e3f1ef"/>
<rect x="156.9" y="757.02" width="8.86" height="2.975" fill="#e3f1ef"/>
<rect x="165.8" y="757.02" width="8.86" height="2.975" fill="#fde396"/>
<rect x="174.6" y="757.02" width="8.86" height="2.975" fill="#fcf5be"/>
<rect x="183.5" y="757.02" width="8.86" height="2.975" fill="#fde396"/>
<rect x="192.4" y="757.02" width="8.86" height="2.975" fill="#fcf5be"/>
<rect x="201.2" y="757.02" width="8.86" height="2.975" fill="#fcf5be"/>
<rect x="210.1" y="757.02" width="8.86" height="2.975" fill="#e3f1ef"/>
<rect x="218.9" y="757.02" width="8.86" height="2.975" fill="#fcc57c"/>
<rect x="227.8" y="757.02" width="8.86" height="2.975" fill="#fcc57c"/>
<rect x="236.7" y="757.02" width="8.86" height="2.975" fill="#fcf5be"/>
<rect x="245.5" y="757.02" width="8.86" height="2.975" fill="#fde396"/>
<rect x="254.4" y="757.02" width="8.86" height="2.975" fill="#d3e8f5"/>
<rect x="50.6" y="760.00" width="8.86" height="2.975" fill="#d3e8f5"/>
<rect x="59.5" y="760.00" width="8.86" height="2.975" fill="#e3f1ef"/>
<rect x="68.3" y="760.00" width="8.86" height="2.975" fill="#d3e8f5"/>
<rect x="77.2" y="760.00" width="8.86" height="2.975" fill="#e3f1ef"/>
<rect x="86.0" y="760.00" width="8.86" height="2.975" fill="#e3f1ef"/>
<rect x="94.9" y="760.00" width="8.86" height="2.975" fill="#e3f1ef"/>
<rect x="103.8" y="760.00" width="8.86" height="2.975" fill="#fcf5be"/>
<rect x="112.6" y="760.00" width="8.86" height="2.975" fill="#fcc57c"/>
<rect x="121.5" y="760.00" width="8.86" height="2.975" fill="#fde396"/>
<rect x="130.3" y="760.00" width="8.86" height="2.975" fill="#e3f1ef"/>
<rect x="139.2" y="760.00" width="8.86" height="2.975" fill="#e3f1ef"/>
<rect x="148.1" y="760.00" width="8.86" height="2.975" fill="#e3f1ef"/>
<rect x="156.9" y="760.00" width="8.86" height="2.975" fill="#e3f1ef"/>
<rect x="165.8" y="760.00" width="8.86" height="2.975" fill="#fcf5be"/>
<rect x="174.6" y="760.00" width="8.86" height="2.975" fill="#fde396"/>
<rect x="183.5" y="760.00" width="8.86" height="2.975" fill="#fcf5be"/>
<rect x="192.4" y="760.00" width="8.86" height="2.975" fill="#fcc57c"/>
<rect x="201.2" y="760.00" width="8.86" height="2.975" fill="#fcf5be"/>
<rect x="210.1" y="760.00" width="8.86" height="2.975" fill="#fcf5be"/>
<rect x="218.9" y="760.00" width="8.86" height="2.975" fill="#fcc57c"/>
<rect x="227.8" y="760.00" width="8.86" height="2.975" fill="#fde396"/>
<rect x="236.7" y="760.00" width="8.86" height="2.975" fill="#fde396"/>
<rect x="245.5" y="760.00" width="8.86" height="2.975" fill="#fcf5be"/>
<rect x="254.4" y="760.00" width="8.86" height="2.975" fill="#e3f1ef"/>
<rect x="50.6" y="762.98" width="8.86" height="2.975" fill="#d3e8f5"/>
<rect x="59.5" y="762.98" width="8.86" height="2.975" fill="#e3f1ef"/>
<rect x="68.3" y="762.98" width="8.86" height="2.975" fill="#e3f1ef"/>
<rect x="77.2" y="762.98" width="8.86" height="2.975" fill="#e3f1ef"/>
<rect x="86.0" y="762.98" width="8.86" height="2.975" fill="#e3f1ef"/>
<rect x="94.9" y="762.98" width="8.86" height="2.975" fill="#fcf5be"/>
<rect x="103.8" y="762.98" width="8.86" height="2.975" fill="#e3f1ef"/>
<rect x="112.6" y="762.98" width="8.86" height="2.975" fill="#fcc57c"/>
<rect x="121.5" y="762.98" width="8.86" height="2.975" fill="#fcc57c"/>
<rect x="130.3" y="762.98" width="8.86" height="2.975" fill="#e3f1ef"/>
<rect x="139.2" y="762.98" width="8.86" height="2.975" fill="#d3e8f5"/>
<rect x="148.1" y="762.98" width="8.86" height="2.975" fill="#e3f1ef"/>
<rect x="156.9" y="762.98" width="8.86" height="2.975" fill="#e3f1ef"/>
<rect x="165.8" y="762.98" width="8.86" height="2.975" fill="#fcf5be"/>
<rect x="174.6" y="762.98" width="8.86" height="2.975" fill="#f5925a"/>
<rect x="183.5" y="762.98" width="8.86" height="2.975" fill="#fcf5be"/>
<rect x="192.4" y="762.98" width="8.86" height="2.975" fill="#fcf5be"/>
<rect x="201.2" y="762.98" width="8.86" height="2.975" fill="#fcf5be"/>
<rect x="210.1" y="762.98" width="8.86" height="2.975" fill="#e3f1ef"/>
<rect x="218.9" y="762.98" width="8.86" height="2.975" fill="#fcc57c"/>
<rect x="227.8" y="762.98" width="8.86" height="2.975" fill="#fcf5be"/>
<rect x="236.7" y="762.98" width="8.86" height="2.975" fill="#fcf5be"/>
<rect x="245.5" y="762.98" width="8.86" height="2.975" fill="#e3f1ef"/>
<rect x="254.4" y="762.98" width="8.86" height="2.975" fill="#e3f1ef"/>
<rect x="50.6" y="765.95" width="8.86" height="2.975" fill="#d3e8f5"/>
<rect x="59.5" y="765.95" width="8.86" height="2.975" fill="#fcf5be"/>
<rect x="68.3" y="765.95" width="8.86" height="2.975" fill="#a4c9e4"/>
<rect x="77.2" y="765.95" width="8.86" height="2.975" fill="#fde396"/>
<rect x="86.0" y="765.95" width="8.86" height="2.975" fill="#e3f1ef"/>
<rect x="94.9" y="765.95" width="8.86" height="2.975" fill="#e3f1ef"/>
<rect x="103.8" y="765.95" width="8.86" height="2.975" fill="#a4c9e4"/>
<rect x="112.6" y="765.95" width="8.86" height="2.975" fill="#fcf5be"/>
<rect x="121.5" y="765.95" width="8.86" height="2.975" fill="#fde396"/>
<rect x="130.3" y="765.95" width="8.86" height="2.975" fill="#d3e8f5"/>
<rect x="139.2" y="765.95" width="8.86" height="2.975" fill="#d3e8f5"/>
<rect x="148.1" y="765.95" width="8.86" height="2.975" fill="#e3f1ef"/>
<rect x="156.9" y="765.95" width="8.86" height="2.975" fill="#e3f1ef"/>
<rect x="165.8" y="765.95" width="8.86" height="2.975" fill="#fde396"/>
<rect x="174.6" y="765.95" width="8.86" height="2.975" fill="#fcc57c"/>
<rect x="183.5" y="765.95" width="8.86" height="2.975" fill="#fde396"/>
<rect x="192.4" y="765.95" width="8.86" height="2.975" fill="#fde396"/>
<rect x="201.2" y="765.95" width="8.86" height="2.975" fill="#fde396"/>
<rect x="210.1" y="765.95" width="8.86" height="2.975" fill="#e3f1ef"/>
<rect x="218.9" y="765.95" width="8.86" height="2.975" fill="#fde396"/>
<rect x="227.8" y="765.95" width="8.86" height="2.975" fill="#fcf5be"/>
<rect x="236.7" y="765.95" width="8.86" height="2.975" fill="#fde396"/>
<rect x="245.5" y="765.95" width="8.86" height="2.975" fill="#e3f1ef"/>
<rect x="254.4" y="765.95" width="8.86" height="2.975" fill="#fcf5be"/>
<rect x="50.6" y="768.92" width="8.86" height="2.975" fill="#e3f1ef"/>
<rect x="59.5" y="768.92" width="8.86" height="2.975" fill="#fcf5be"/>
<rect x="68.3" y="768.92" width="8.86" height="2.975" fill="#a4c9e4"/>
<rect x="77.2" y="768.92" width="8.86" height="2.975" fill="#e3f1ef"/>
<rect x="86.0" y="768.92" width="8.86" height="2.975" fill="#d3e8f5"/>
<rect x="94.9" y="768.92" width="8.86" height="2.975" fill="#e3f1ef"/>
<rect x="103.8" y="768.92" width="8.86" height="2.975" fill="#e3f1ef"/>
<rect x="112.6" y="768.92" width="8.86" height="2.975" fill="#fcf5be"/>
<rect x="121.5" y="768.92" width="8.86" height="2.975" fill="#fde396"/>
<rect x="130.3" y="768.92" width="8.86" height="2.975" fill="#e3f1ef"/>
<rect x="139.2" y="768.92" width="8.86" height="2.975" fill="#d3e8f5"/>
<rect x="148.1" y="768.92" width="8.86" height="2.975" fill="#e3f1ef"/>
<rect x="156.9" y="768.92" width="8.86" height="2.975" fill="#fde396"/>
<rect x="165.8" y="768.92" width="8.86" height="2.975" fill="#fde396"/>
<rect x="174.6" y="768.92" width="8.86" height="2.975" fill="#fde396"/>
<rect x="183.5" y="768.92" width="8.86" height="2.975" fill="#fcf5be"/>
<rect x="192.4" y="768.92" width="8.86" height="2.975" fill="#fcc57c"/>
<rect x="201.2" y="768.92" width="8.86" height="2.975" fill="#fde396"/>
<rect x="210.1" y="768.92" width="8.86" height="2.975" fill="#fcf5be"/>
<rect x="218.9" y="768.92" width="8.86" height="2.975" fill="#e3f1ef"/>
<rect x="227.8" y="768.92" width="8.86" height="2.975" fill="#fcf5be"/>
<rect x="236.7" y="768.92" width="8.86" height="2.975" fill="#e3f1ef"/>
<rect x="245.5" y="768.92" width="8.86" height="2.975" fill="#f5925a"/>
<rect x="254.4" y="768.92" width="8.86" height="2.975" fill="#e3f1ef"/>
<rect x="50.6" y="771.90" width="8.86" height="2.975" fill="#fcf5be"/>
<rect x="59.5" y="771.90" width="8.86" height="2.975" fill="#fcf5be"/>
<rect x="68.3" y="771.90" width="8.86" height="2.975" fill="#d3e8f5"/>
<rect x="77.2" y="771.90" width="8.86" height="2.975" fill="#a4c9e4"/>
<rect x="86.0" y="771.90" width="8.86" height="2.975" fill="#d3e8f5"/>
<rect x="94.9" y="771.90" width="8.86" height="2.975" fill="#e3f1ef"/>
<rect x="103.8" y="771.90" width="8.86" height="2.975" fill="#e3f1ef"/>
<rect x="112.6" y="771.90" width="8.86" height="2.975" fill="#fcf5be"/>
<rect x="121.5" y="771.90" width="8.86" height="2.975" fill="#fcf5be"/>
<rect x="130.3" y="771.90" width="8.86" height="2.975" fill="#fde396"/>
<rect x="139.2" y="771.90" width="8.86" height="2.975" fill="#d3e8f5"/>
<rect x="148.1" y="771.90" width="8.86" height="2.975" fill="#e3f1ef"/>
<rect x="156.9" y="771.90" width="8.86" height="2.975" fill="#e3f1ef"/>
<rect x="165.8" y="771.90" width="8.86" height="2.975" fill="#fcf5be"/>
<rect x="174.6" y="771.90" width="8.86" height="2.975" fill="#e3f1ef"/>
<rect x="183.5" y="771.90" width="8.86" height="2.975" fill="#fde396"/>
<rect x="192.4" y="771.90" width="8.86" height="2.975" fill="#fcc57c"/>
<rect x="201.2" y="771.90" width="8.86" height="2.975" fill="#fcf5be"/>
<rect x="210.1" y="771.90" width="8.86" height="2.975" fill="#fde396"/>
<rect x="218.9" y="771.90" width="8.86" height="2.975" fill="#fde396"/>
<rect x="227.8" y="771.90" width="8.86" height="2.975" fill="#fde396"/>
<rect x="236.7" y="771.90" width="8.86" height="2.975" fill="#fde396"/>
<rect x="245.5" y="771.90" width="8.86" height="2.975" fill="#e3f1ef"/>
<rect x="254.4" y="771.90" width="8.86" height="2.975" fill="#e3f1ef"/>
<rect x="50.6" y="774.88" width="8.86" height="2.975" fill="#e3f1ef"/>
<rect x="59.5" y="774.88" width="8.86" height="2.975" fill="#d3e8f5"/>
<rect x="68.3" y="774.88" width="8.86" height="2.975" fill="#e3f1ef"/>
<rect x="77.2" y="774.88" width="8.86" height="2.975" fill="#e3f1ef"/>
<rect x="86.0" y="774.88" width="8.86" height="2.975" fill="#e3f1ef"/>
<rect x="94.9" y="774.88" width="8.86" height="2.975" fill="#d3e8f5"/>
<rect x="103.8" y="774.88" width="8.86" height="2.975" fill="#d3e8f5"/>
<rect x="112.6" y="774.88" width="8.86" height="2.975" fill="#d3e8f5"/>
<rect x="121.5" y="774.88" width="8.86" height="2.975" fill="#e3f1ef"/>
<rect x="130.3" y="774.88" width="8.86" height="2.975" fill="#e3f1ef"/>
<rect x="139.2" y="774.88" width="8.86" height="2.975" fill="#e3f1ef"/>
<rect x="148.1" y="774.88" width="8.86" height="2.975" fill="#fcf5be"/>
<rect x="156.9" y="774.88" width="8.86" height="2.975" fill="#e3f1ef"/>
<rect x="165.8" y="774.88" width="8.86" height="2.975" fill="#fcf5be"/>
<rect x="174.6" y="774.88" width="8.86" height="2.975" fill="#fcc57c"/>
<rect x="183.5" y="774.88" width="8.86" height="2.975" fill="#fcc57c"/>
<rect x="192.4" y="774.88" width="8.86" height="2.975" fill="#fcc57c"/>
<rect x="201.2" y="774.88" width="8.86" height="2.975" fill="#d3e8f5"/>
<rect x="210.1" y="774.88" width="8.86" height="2.975" fill="#f5925a"/>
<rect x="218.9" y="774.88" width="8.86" height="2.975" fill="#fcc57c"/>
<rect x="227.8" y="774.88" width="8.86" height="2.975" fill="#fcf5be"/>
<rect x="236.7" y="774.88" width="8.86" height="2.975" fill="#fcf5be"/>
<rect x="245.5" y="774.88" width="8.86" height="2.975" fill="#fcf5be"/>
<rect x="254.4" y="774.88" width="8.86" height="2.975" fill="#e3f1ef"/>
<rect x="50.6" y="777.85" width="8.86" height="2.975" fill="#d3e8f5"/>
<rect x="59.5" y="777.85" width="8.86" height="2.975" fill="#fcf5be"/>
<rect x="68.3" y="777.85" width="8.86" height="2.975" fill="#e3f1ef"/>
<rect x="77.2" y="777.85" width="8.86" height="2.975" fill="#e3f1ef"/>
<rect x="86.0" y="777.85" width="8.86" height="2.975" fill="#e3f1ef"/>
<rect x="94.9" y="777.85" width="8.86" height="2.975" fill="#e3f1ef"/>
<rect x="103.8" y="777.85" width="8.86" height="2.975" fill="#fde396"/>
<rect x="112.6" y="777.85" width="8.86" height="2.975" fill="#fde396"/>
<rect x="121.5" y="777.85" width="8.86" height="2.975" fill="#fde396"/>
<rect x="130.3" y="777.85" width="8.86" height="2.975" fill="#fcf5be"/>
<rect x="139.2" y="777.85" width="8.86" height="2.975" fill="#d3e8f5"/>
<rect x="148.1" y="777.85" width="8.86" height="2.975" fill="#fde396"/>
<rect x="156.9" y="777.85" width="8.86" height="2.975" fill="#fcf5be"/>
<rect x="165.8" y="777.85" width="8.86" height="2.975" fill="#fcc57c"/>
<rect x="174.6" y="777.85" width="8.86" height="2.975" fill="#fcf5be"/>
<rect x="183.5" y="777.85" width="8.86" height="2.975" fill="#fcf5be"/>
<rect x="192.4" y="777.85" width="8.86" height="2.975" fill="#fcc57c"/>
<rect x="201.2" y="777.85" width="8.86" height="2.975" fill="#e3f1ef"/>
<rect x="210.1" y="777.85" width="8.86" height="2.975" fill="#fcf5be"/>
<rect x="218.9" y="777.85" width="8.86" height="2.975" fill="#fcc57c"/>
<rect x="227.8" y="777.85" width="8.86" height="2.975" fill="#fcf5be"/>
<rect x="236.7" y="777.85" width="8.86" height="2.975" fill="#fcf5be"/>
<rect x="245.5" y="777.85" width="8.86" height="2.975" fill="#e3f1ef"/>
<rect x="254.4" y="777.85" width="8.86" height="2.975" fill="#e3f1ef"/>
<rect x="50.6" y="780.83" width="8.86" height="2.975" fill="#d3e8f5"/>
<rect x="59.5" y="780.83" width="8.86" height="2.975" fill="#fcf5be"/>
<rect x="68.3" y="780.83" width="8.86" height="2.975" fill="#e3f1ef"/>
<rect x="77.2" y="780.83" width="8.86" height="2.975" fill="#e3f1ef"/>
<rect x="86.0" y="780.83" width="8.86" height="2.975" fill="#e3f1ef"/>
<rect x="94.9" y="780.83" width="8.86" height="2.975" fill="#e3f1ef"/>
<rect x="103.8" y="780.83" width="8.86" height="2.975" fill="#fcc57c"/>
<rect x="112.6" y="780.83" width="8.86" height="2.975" fill="#fcc57c"/>
<rect x="121.5" y="780.83" width="8.86" height="2.975" fill="#fde396"/>
<rect x="130.3" y="780.83" width="8.86" height="2.975" fill="#fcc57c"/>
<rect x="139.2" y="780.83" width="8.86" height="2.975" fill="#fcf5be"/>
<rect x="148.1" y="780.83" width="8.86" height="2.975" fill="#e3f1ef"/>
<rect x="156.9" y="780.83" width="8.86" height="2.975" fill="#a4c9e4"/>
<rect x="165.8" y="780.83" width="8.86" height="2.975" fill="#fcf5be"/>
<rect x="174.6" y="780.83" width="8.86" height="2.975" fill="#fcc57c"/>
<rect x="183.5" y="780.83" width="8.86" height="2.975" fill="#fcf5be"/>
<rect x="192.4" y="780.83" width="8.86" height="2.975" fill="#fcf5be"/>
<rect x="201.2" y="780.83" width="8.86" height="2.975" fill="#d3e8f5"/>
<rect x="210.1" y="780.83" width="8.86" height="2.975" fill="#fcf5be"/>
<rect x="218.9" y="780.83" width="8.86" height="2.975" fill="#fcc57c"/>
<rect x="227.8" y="780.83" width="8.86" height="2.975" fill="#d3e8f5"/>
<rect x="236.7" y="780.83" width="8.86" height="2.975" fill="#fcf5be"/>
<rect x="245.5" y="780.83" width="8.86" height="2.975" fill="#fde396"/>
<rect x="254.4" y="780.83" width="8.86" height="2.975" fill="#e3f1ef"/>
<rect x="50.6" y="783.80" width="8.86" height="2.975" fill="#e3f1ef"/>
<rect x="59.5" y="783.80" width="8.86" height="2.975" fill="#e3f1ef"/>
<rect x="68.3" y="783.80" width="8.86" height="2.975" fill="#e3f1ef"/>
<rect x="77.2" y="783.80" width="8.86" height="2.975" fill="#e3f1ef"/>
<rect x="86.0" y="783.80" width="8.86" height="2.975" fill="#e3f1ef"/>
<rect x="94.9" y="783.80" width="8.86" height="2.975" fill="#e3f1ef"/>
<rect x="103.8" y="783.80" width="8.86" height="2.975" fill="#e3f1ef"/>
<rect x="112.6" y="783.80" width="8.86" height="2.975" fill="#e3f1ef"/>
<rect x="121.5" y="783.80" width="8.86" height="2.975" fill="#e3f1ef"/>
<rect x="130.3" y="783.80" width="8.86" height="2.975" fill="#e3f1ef"/>
<rect x="139.2" y="783.80" width="8.86" height="2.975" fill="#e3f1ef"/>
<rect x="148.1" y="783.80" width="8.86" height="2.975" fill="#e3f1ef"/>
<rect x="156.9" y="783.80" width="8.86" height="2.975" fill="#e3f1ef"/>
<rect x="165.8" y="783.80" width="8.86" height="2.975" fill="#e3f1ef"/>
<rect x="174.6" y="783.80" width="8.86" height="2.975" fill="#e3f1ef"/>
<rect x="183.5" y="783.80" width="8.86" height="2.975" fill="#e3f1ef"/>
<rect x="192.4" y="783.80" width="8.86" height="2.975" fill="#e3f1ef"/>
<rect x="201.2" y="783.80" width="8.86" height="2.975" fill="#e3f1ef"/>
<rect x="210.1" y="783.80" width="8.86" height="2.975" fill="#e3f1ef"/>
<rect x="218.9" y="783.80" width="8.86" height="2.975" fill="#e3f1ef"/>
<rect x="227.8" y="783.80" width="8.86" height="2.975" fill="#e3f1ef"/>
<rect x="236.7" y="783.80" width="8.86" height="2.975" fill="#e3f1ef"/>
<rect x="245.5" y="783.80" width="8.86" height="2.975" fill="#e3f1ef"/>
<rect x="254.4" y="783.80" width="8.86" height="2.975" fill="#e3f1ef"/>
<rect x="50.6" y="786.77" width="8.86" height="2.975" fill="#e3f1ef"/>
<rect x="59.5" y="786.77" width="8.86" height="2.975" fill="#fcf5be"/>
<rect x="68.3" y="786.77" width="8.86" height="2.975" fill="#fcf5be"/>
<rect x="77.2" y="786.77" width="8.86" height="2.975" fill="#e3f1ef"/>
<rect x="86.0" y="786.77" width="8.86" height="2.975" fill="#fcf5be"/>
<rect x="94.9" y="786.77" width="8.86" height="2.975" fill="#fcf5be"/>
<rect x="103.8" y="786.77" width="8.86" height="2.975" fill="#fcf5be"/>
<rect x="112.6" y="786.77" width="8.86" height="2.975" fill="#fcf5be"/>
<rect x="121.5" y="786.77" width="8.86" height="2.975" fill="#d3e8f5"/>
<rect x="130.3" y="786.77" width="8.86" height="2.975" fill="#e3f1ef"/>
<rect x="139.2" y="786.77" width="8.86" height="2.975" fill="#e3f1ef"/>
<rect x="148.1" y="786.77" width="8.86" height="2.975" fill="#e3f1ef"/>
<rect x="156.9" y="786.77" width="8.86" height="2.975" fill="#d3e8f5"/>
<rect x="165.8" y="786.77" width="8.86" height="2.975" fill="#fde396"/>
<rect x="174.6" y="786.77" width="8.86" height="2.975" fill="#fcf5be"/>
<rect x="183.5" y="786.77" width="8.86" height="2.975" fill="#fcf5be"/>
<rect x="192.4" y="786.77" width="8.86" height="2.975" fill="#fde396"/>
<rect x="201.2" y="786.77" width="8.86" height="2.975" fill="#d3e8f5"/>
<rect x="210.1" y="786.77" width="8.86" height="2.975" fill="#fcf5be"/>
<rect x="218.9" y="786.77" width="8.86" height="2.975" fill="#fde396"/>
<rect x="227.8" y="786.77" width="8.86" height="2.975" fill="#e3f1ef"/>
<rect x="236.7" y="786.77" width="8.86" height="2.975" fill="#fcc57c"/>
<rect x="245.5" y="786.77" width="8.86" height="2.975" fill="#e3f1ef"/>
<rect x="254.4" y="786.77" width="8.86" height="2.975" fill="#e3f1ef"/>
<rect x="50.6" y="789.75" width="8.86" height="2.975" fill="#d3e8f5"/>
<rect x="59.5" y="789.75" width="8.86" height="2.975" fill="#fcf5be"/>
<rect x="68.3" y="789.75" width="8.86" height="2.975" fill="#fcc57c"/>
<rect x="77.2" y="789.75" width="8.86" height="2.975" fill="#d3e8f5"/>
<rect x="86.0" y="789.75" width="8.86" height="2.975" fill="#fde396"/>
<rect x="94.9" y="789.75" width="8.86" height="2.975" fill="#fde396"/>
<rect x="103.8" y="789.75" width="8.86" height="2.975" fill="#f5925a"/>
<rect x="112.6" y="789.75" width="8.86" height="2.975" fill="#e3f1ef"/>
<rect x="121.5" y="789.75" width="8.86" height="2.975" fill="#e3f1ef"/>
<rect x="130.3" y="789.75" width="8.86" height="2.975" fill="#e3f1ef"/>
<rect x="139.2" y="789.75" width="8.86" height="2.975" fill="#fcc57c"/>
<rect x="148.1" y="789.75" width="8.86" height="2.975" fill="#e3f1ef"/>
<rect x="156.9" y="789.75" width="8.86" height="2.975" fill="#e3f1ef"/>
<rect x="165.8" y="789.75" width="8.86" height="2.975" fill="#fcf5be"/>
<rect x="174.6" y="789.75" width="8.86" height="2.975" fill="#fde396"/>
<rect x="183.5" y="789.75" width="8.86" height="2.975" fill="#fcf5be"/>
<rect x="192.4" y="789.75" width="8.86" height="2.975" fill="#fcf5be"/>
<rect x="201.2" y="789.75" width="8.86" height="2.975" fill="#d3e8f5"/>
<rect x="210.1" y="789.75" width="8.86" height="2.975" fill="#fcf5be"/>
<rect x="218.9" y="789.75" width="8.86" height="2.975" fill="#fcc57c"/>
<rect x="227.8" y="789.75" width="8.86" height="2.975" fill="#fcf5be"/>
<rect x="236.7" y="789.75" width="8.86" height="2.975" fill="#fde396"/>
<rect x="245.5" y="789.75" width="8.86" height="2.975" fill="#fcf5be"/>
<rect x="254.4" y="789.75" width="8.86" height="2.975" fill="#fcf5be"/>
<rect x="50.6" y="792.73" width="8.86" height="2.975" fill="#fcf5be"/>
<rect x="59.5" y="792.73" width="8.86" height="2.975" fill="#fcf5be"/>
<rect x="68.3" y="792.73" width="8.86" height="2.975" fill="#fcf5be"/>
<rect x="77.2" y="792.73" width="8.86" height="2.975" fill="#d3e8f5"/>
<rect x="86.0" y="792.73" width="8.86" height="2.975" fill="#fcf5be"/>
<rect x="94.9" y="792.73" width="8.86" height="2.975" fill="#fcf5be"/>
<rect x="103.8" y="792.73" width="8.86" height="2.975" fill="#e3f1ef"/>
<rect x="112.6" y="792.73" width="8.86" height="2.975" fill="#fcf5be"/>
<rect x="121.5" y="792.73" width="8.86" height="2.975" fill="#e3f1ef"/>
<rect x="130.3" y="792.73" width="8.86" height="2.975" fill="#e3f1ef"/>
<rect x="139.2" y="792.73" width="8.86" height="2.975" fill="#e3f1ef"/>
<rect x="148.1" y="792.73" width="8.86" height="2.975" fill="#e3f1ef"/>
<rect x="156.9" y="792.73" width="8.86" height="2.975" fill="#e3f1ef"/>
<rect x="165.8" y="792.73" width="8.86" height="2.975" fill="#fcf5be"/>
<rect x="174.6" y="792.73" width="8.86" height="2.975" fill="#fde396"/>
<rect x="183.5" y="792.73" width="8.86" height="2.975" fill="#fcf5be"/>
<rect x="192.4" y="792.73" width="8.86" height="2.975" fill="#fde396"/>
<rect x="201.2" y="792.73" width="8.86" height="2.975" fill="#d3e8f5"/>
<rect x="210.1" y="792.73" width="8.86" height="2.975" fill="#fcf5be"/>
<rect x="218.9" y="792.73" width="8.86" height="2.975" fill="#fcc57c"/>
<rect x="227.8" y="792.73" width="8.86" height="2.975" fill="#fcf5be"/>
<rect x="236.7" y="792.73" width="8.86" height="2.975" fill="#fcf5be"/>
<rect x="245.5" y="792.73" width="8.86" height="2.975" fill="#fcf5be"/>
<rect x="254.4" y="792.73" width="8.86" height="2.975" fill="#fcf5be"/>
<rect x="50.6" y="795.70" width="8.86" height="2.975" fill="#e45838"/>
<rect x="59.5" y="795.70" width="8.86" height="2.975" fill="#fcf5be"/>
<rect x="68.3" y="795.70" width="8.86" height="2.975" fill="#fcf5be"/>
<rect x="77.2" y="795.70" width="8.86" height="2.975" fill="#e3f1ef"/>
<rect x="86.0" y="795.70" width="8.86" height="2.975" fill="#fcf5be"/>
<rect x="94.9" y="795.70" width="8.86" height="2.975" fill="#e3f1ef"/>
<rect x="103.8" y="795.70" width="8.86" height="2.975" fill="#fcf5be"/>
<rect x="112.6" y="795.70" width="8.86" height="2.975" fill="#d3e8f5"/>
<rect x="121.5" y="795.70" width="8.86" height="2.975" fill="#e3f1ef"/>
<rect x="130.3" y="795.70" width="8.86" height="2.975" fill="#e3f1ef"/>
<rect x="139.2" y="795.70" width="8.86" height="2.975" fill="#d3e8f5"/>
<rect x="148.1" y="795.70" width="8.86" height="2.975" fill="#d3e8f5"/>
<rect x="156.9" y="795.70" width="8.86" height="2.975" fill="#d3e8f5"/>
<rect x="165.8" y="795.70" width="8.86" height="2.975" fill="#fcf5be"/>
<rect x="174.6" y="795.70" width="8.86" height="2.975" fill="#fcf5be"/>
<rect x="183.5" y="795.70" width="8.86" height="2.975" fill="#a4c9e4"/>
<rect x="192.4" y="795.70" width="8.86" height="2.975" fill="#fcf5be"/>
<rect x="201.2" y="795.70" width="8.86" height="2.975" fill="#e3f1ef"/>
<rect x="210.1" y="795.70" width="8.86" height="2.975" fill="#fcf5be"/>
<rect x="218.9" y="795.70" width="8.86" height="2.975" fill="#f5925a"/>
<rect x="227.8" y="795.70" width="8.86" height="2.975" fill="#fcc57c"/>
<rect x="236.7" y="795.70" width="8.86" height="2.975" fill="#d3e8f5"/>
<rect x="245.5" y="795.70" width="8.86" height="2.975" fill="#fcf5be"/>
<rect x="254.4" y="795.70" width="8.86" height="2.975" fill="#fde396"/>
<rect x="50.6" y="798.67" width="8.86" height="2.975" fill="#fcc57c"/>
<rect x="59.5" y="798.67" width="8.86" height="2.975" fill="#fcf5be"/>
<rect x="68.3" y="798.67" width="8.86" height="2.975" fill="#fde396"/>
<rect x="77.2" y="798.67" width="8.86" height="2.975" fill="#fcf5be"/>
<rect x="86.0" y="798.67" width="8.86" height="2.975" fill="#e3f1ef"/>
<rect x="94.9" y="798.67" width="8.86" height="2.975" fill="#fcf5be"/>
<rect x="103.8" y="798.67" width="8.86" height="2.975" fill="#fcf5be"/>
<rect x="112.6" y="798.67" width="8.86" height="2.975" fill="#e3f1ef"/>
<rect x="121.5" y="798.67" width="8.86" height="2.975" fill="#fcf5be"/>
<rect x="130.3" y="798.67" width="8.86" height="2.975" fill="#e3f1ef"/>
<rect x="139.2" y="798.67" width="8.86" height="2.975" fill="#e3f1ef"/>
<rect x="148.1" y="798.67" width="8.86" height="2.975" fill="#e3f1ef"/>
<rect x="156.9" y="798.67" width="8.86" height="2.975" fill="#e3f1ef"/>
<rect x="165.8" y="798.67" width="8.86" height="2.975" fill="#fcf5be"/>
<rect x="174.6" y="798.67" width="8.86" height="2.975" fill="#fcf5be"/>
<rect x="183.5" y="798.67" width="8.86" height="2.975" fill="#e3f1ef"/>
<rect x="192.4" y="798.67" width="8.86" height="2.975" fill="#fcf5be"/>
<rect x="201.2" y="798.67" width="8.86" height="2.975" fill="#e3f1ef"/>
<rect x="210.1" y="798.67" width="8.86" height="2.975" fill="#fcf5be"/>
<rect x="218.9" y="798.67" width="8.86" height="2.975" fill="#fcc57c"/>
<rect x="227.8" y="798.67" width="8.86" height="2.975" fill="#fcf5be"/>
<rect x="236.7" y="798.67" width="8.86" height="2.975" fill="#e3f1ef"/>
<rect x="245.5" y="798.67" width="8.86" height="2.975" fill="#fcc57c"/>
<rect x="254.4" y="798.67" width="8.86" height="2.975" fill="#e3f1ef"/>
<rect x="50.6" y="801.65" width="8.86" height="2.975" fill="#fcc57c"/>
<rect x="59.5" y="801.65" width="8.86" height="2.975" fill="#fcf5be"/>
<rect x="68.3" y="801.65" width="8.86" height="2.975" fill="#fcf5be"/>
<rect x="77.2" y="801.65" width="8.86" height="2.975" fill="#fcc57c"/>
<rect x="86.0" y="801.65" width="8.86" height="2.975" fill="#fcf5be"/>
<rect x="94.9" y="801.65" width="8.86" height="2.975" fill="#e3f1ef"/>
<rect x="103.8" y="801.65" width="8.86" height="2.975" fill="#fcc57c"/>
<rect x="112.6" y="801.65" width="8.86" height="2.975" fill="#e3f1ef"/>
<rect x="121.5" y="801.65" width="8.86" height="2.975" fill="#fcf5be"/>
<rect x="130.3" y="801.65" width="8.86" height="2.975" fill="#e3f1ef"/>
<rect x="139.2" y="801.65" width="8.86" height="2.975" fill="#e3f1ef"/>
<rect x="148.1" y="801.65" width="8.86" height="2.975" fill="#fcf5be"/>
<rect x="156.9" y="801.65" width="8.86" height="2.975" fill="#d3e8f5"/>
<rect x="165.8" y="801.65" width="8.86" height="2.975" fill="#f5925a"/>
<rect x="174.6" y="801.65" width="8.86" height="2.975" fill="#fcc57c"/>
<rect x="183.5" y="801.65" width="8.86" height="2.975" fill="#e3f1ef"/>
<rect x="192.4" y="801.65" width="8.86" height="2.975" fill="#fcf5be"/>
<rect x="201.2" y="801.65" width="8.86" height="2.975" fill="#e3f1ef"/>
<rect x="210.1" y="801.65" width="8.86" height="2.975" fill="#fcf5be"/>
<rect x="218.9" y="801.65" width="8.86" height="2.975" fill="#fde396"/>
<rect x="227.8" y="801.65" width="8.86" height="2.975" fill="#e3f1ef"/>
<rect x="236.7" y="801.65" width="8.86" height="2.975" fill="#e3f1ef"/>
<rect x="245.5" y="801.65" width="8.86" height="2.975" fill="#fcf5be"/>
<rect x="254.4" y="801.65" width="8.86" height="2.975" fill="#e3f1ef"/>
<rect x="50.6" y="804.62" width="8.86" height="2.975" fill="#fde396"/>
<rect x="59.5" y="804.62" width="8.86" height="2.975" fill="#fde396"/>
<rect x="68.3" y="804.62" width="8.86" height="2.975" fill="#e3f1ef"/>
<rect x="77.2" y="804.62" width="8.86" height="2.975" fill="#fcf5be"/>
<rect x="86.0" y="804.62" width="8.86" height="2.975" fill="#d3e8f5"/>
<rect x="94.9" y="804.62" width="8.86" height="2.975" fill="#e45838"/>
<rect x="103.8" y="804.62" width="8.86" height="2.975" fill="#fcc57c"/>
<rect x="112.6" y="804.62" width="8.86" height="2.975" fill="#d3e8f5"/>
<rect x="121.5" y="804.62" width="8.86" height="2.975" fill="#d3e8f5"/>
<rect x="130.3" y="804.62" width="8.86" height="2.975" fill="#e3f1ef"/>
<rect x="139.2" y="804.62" width="8.86" height="2.975" fill="#e3f1ef"/>
<rect x="148.1" y="804.62" width="8.86" height="2.975" fill="#fcf5be"/>
<rect x="156.9" y="804.62" width="8.86" height="2.975" fill="#e3f1ef"/>
<rect x="165.8" y="804.62" width="8.86" height="2.975" fill="#f5925a"/>
<rect x="174.6" y="804.62" width="8.86" height="2.975" fill="#fde396"/>
<rect x="183.5" y="804.62" width="8.86" height="2.975" fill="#fcf5be"/>
<rect x="192.4" y="804.62" width="8.86" height="2.975" fill="#fcf5be"/>
<rect x="201.2" y="804.62" width="8.86" height="2.975" fill="#e3f1ef"/>
<rect x="210.1" y="804.62" width="8.86" height="2.975" fill="#fcf5be"/>
<rect x="218.9" y="804.62" width="8.86" height="2.975" fill="#e3f1ef"/>
<rect x="227.8" y="804.62" width="8.86" height="2.975" fill="#fcc57c"/>
<rect x="236.7" y="804.62" width="8.86" height="2.975" fill="#e3f1ef"/>
<rect x="245.5" y="804.62" width="8.86" height="2.975" fill="#e3f1ef"/>
<rect x="254.4" y="804.62" width="8.86" height="2.975" fill="#e3f1ef"/>
<rect x="50.6" y="807.60" width="8.86" height="2.975" fill="#f5925a"/>
<rect x="59.5" y="807.60" width="8.86" height="2.975" fill="#fde396"/>
<rect x="68.3" y="807.60" width="8.86" height="2.975" fill="#fcf5be"/>
<rect x="77.2" y="807.60" width="8.86" height="2.975" fill="#fcc57c"/>
<rect x="86.0" y="807.60" width="8.86" height="2.975" fill="#fcf5be"/>
<rect x="94.9" y="807.60" width="8.86" height="2.975" fill="#fcc57c"/>
<rect x="103.8" y="807.60" width="8.86" height="2.975" fill="#fde396"/>
<rect x="112.6" y="807.60" width="8.86" height="2.975" fill="#d3e8f5"/>
<rect x="121.5" y="807.60" width="8.86" height="2.975" fill="#a4c9e4"/>
<rect x="130.3" y="807.60" width="8.86" height="2.975" fill="#e3f1ef"/>
<rect x="139.2" y="807.60" width="8.86" height="2.975" fill="#d3e8f5"/>
<rect x="148.1" y="807.60" width="8.86" height="2.975" fill="#fde396"/>
<rect x="156.9" y="807.60" width="8.86" height="2.975" fill="#fcf5be"/>
<rect x="165.8" y="807.60" width="8.86" height="2.975" fill="#fde396"/>
<rect x="174.6" y="807.60" width="8.86" height="2.975" fill="#e3f1ef"/>
<rect x="183.5" y="807.60" width="8.86" height="2.975" fill="#fcf5be"/>
<rect x="192.4" y="807.60" width="8.86" height="2.975" fill="#d3e8f5"/>
<rect x="201.2" y="807.60" width="8.86" height="2.975" fill="#e3f1ef"/>
<rect x="210.1" y="807.60" width="8.86" height="2.975" fill="#fde396"/>
<rect x="218.9" y="807.60" width="8.86" height="2.975" fill="#d3e8f5"/>
<rect x="227.8" y="807.60" width="8.86" height="2.975" fill="#d3e8f5"/>
<rect x="236.7" y="807.60" width="8.86" height="2.975" fill="#fde396"/>
<rect x="245.5" y="807.60" width="8.86" height="2.975" fill="#e3f1ef"/>
<rect x="254.4" y="807.60" width="8.86" height="2.975" fill="#fcf5be"/>
<rect x="50.6" y="810.58" width="8.86" height="2.975" fill="#fde396"/>
<rect x="59.5" y="810.58" width="8.86" height="2.975" fill="#fcf5be"/>
<rect x="68.3" y="810.58" width="8.86" height="2.975" fill="#e3f1ef"/>
<rect x="77.2" y="810.58" width="8.86" height="2.975" fill="#fcf5be"/>
<rect x="86.0" y="810.58" width="8.86" height="2.975" fill="#e3f1ef"/>
<rect x="94.9" y="810.58" width="8.86" height="2.975" fill="#e45838"/>
<rect x="103.8" y="810.58" width="8.86" height="2.975" fill="#fcf5be"/>
<rect x="112.6" y="810.58" width="8.86" height="2.975" fill="#e3f1ef"/>
<rect x="121.5" y="810.58" width="8.86" height="2.975" fill="#e3f1ef"/>
<rect x="130.3" y="810.58" width="8.86" height="2.975" fill="#fcf5be"/>
<rect x="139.2" y="810.58" width="8.86" height="2.975" fill="#d3e8f5"/>
<rect x="148.1" y="810.58" width="8.86" height="2.975" fill="#fcf5be"/>
<rect x="156.9" y="810.58" width="8.86" height="2.975" fill="#d3e8f5"/>
<rect x="165.8" y="810.58" width="8.86" height="2.975" fill="#fcf5be"/>
<rect x="174.6" y="810.58" width="8.86" height="2.975" fill="#e3f1ef"/>
<rect x="183.5" y="810.58" width="8.86" height="2.975" fill="#fcf5be"/>
<rect x="192.4" y="810.58" width="8.86" height="2.975" fill="#e3f1ef"/>
<rect x="201.2" y="810.58" width="8.86" height="2.975" fill="#e3f1ef"/>
<rect x="210.1" y="810.58" width="8.86" height="2.975" fill="#fcf5be"/>
<rect x="218.9" y="810.58" width="8.86" height="2.975" fill="#e3f1ef"/>
<rect x="227.8" y="810.58" width="8.86" height="2.975" fill="#fcf5be"/>
<rect x="236.7" y="810.58" width="8.86" height="2.975" fill="#e3f1ef"/>
<rect x="245.5" y="810.58" width="8.86" height="2.975" fill="#f5925a"/>
<rect x="254.4" y="810.58" width="8.86" height="2.975" fill="#e3f1ef"/>
<rect x="50.6" y="813.55" width="8.86" height="2.975" fill="#fcc57c"/>
<rect x="59.5" y="813.55" width="8.86" height="2.975" fill="#fcf5be"/>
<rect x="68.3" y="813.55" width="8.86" height="2.975" fill="#e3f1ef"/>
<rect x="77.2" y="813.55" width="8.86" height="2.975" fill="#fcc57c"/>
<rect x="86.0" y="813.55" width="8.86" height="2.975" fill="#fcf5be"/>
<rect x="94.9" y="813.55" width="8.86" height="2.975" fill="#f5925a"/>
<rect x="103.8" y="813.55" width="8.86" height="2.975" fill="#fcf5be"/>
<rect x="112.6" y="813.55" width="8.86" height="2.975" fill="#e3f1ef"/>
<rect x="121.5" y="813.55" width="8.86" height="2.975" fill="#e3f1ef"/>
<rect x="130.3" y="813.55" width="8.86" height="2.975" fill="#fcf5be"/>
<rect x="139.2" y="813.55" width="8.86" height="2.975" fill="#e3f1ef"/>
<rect x="148.1" y="813.55" width="8.86" height="2.975" fill="#fcf5be"/>
<rect x="156.9" y="813.55" width="8.86" height="2.975" fill="#e3f1ef"/>
<rect x="165.8" y="813.55" width="8.86" height="2.975" fill="#fcf5be"/>
<rect x="174.6" y="813.55" width="8.86" height="2.975" fill="#e3f1ef"/>
<rect x="183.5" y="813.55" width="8.86" height="2.975" fill="#fcf5be"/>
<rect x="192.4" y="813.55" width="8.86" height="2.975" fill="#fcf5be"/>
<rect x="201.2" y="813.55" width="8.86" height="2.975" fill="#e3f1ef"/>
<rect x="210.1" y="813.55" width="8.86" height="2.975" fill="#fcf5be"/>
<rect x="218.9" y="813.55" width="8.86" height="2.975" fill="#f5925a"/>
<rect x="227.8" y="813.55" width="8.86" height="2.975" fill="#e3f1ef"/>
<rect x="236.7" y="813.55" width="8.86" height="2.975" fill="#f5925a"/>
<rect x="245.5" y="813.55" width="8.86" height="2.975" fill="#e3f1ef"/>
<rect x="254.4" y="813.55" width="8.86" height="2.975" fill="#fcf5be"/>
<rect x="50.6" y="816.52" width="8.86" height="2.975" fill="#fcf5be"/>
<rect x="59.5" y="816.52" width="8.86" height="2.975" fill="#fde396"/>
<rect x="68.3" y="816.52" width="8.86" height="2.975" fill="#a4c9e4"/>
<rect x="77.2" y="816.52" width="8.86" height="2.975" fill="#fcf5be"/>
<rect x="86.0" y="816.52" width="8.86" height="2.975" fill="#fcc57c"/>
<rect x="94.9" y="816.52" width="8.86" height="2.975" fill="#fcf5be"/>
<rect x="103.8" y="816.52" width="8.86" height="2.975" fill="#fcf5be"/>
<rect x="112.6" y="816.52" width="8.86" height="2.975" fill="#e3f1ef"/>
<rect x="121.5" y="816.52" width="8.86" height="2.975" fill="#e3f1ef"/>
<rect x="130.3" y="816.52" width="8.86" height="2.975" fill="#e3f1ef"/>
<rect x="139.2" y="816.52" width="8.86" height="2.975" fill="#e3f1ef"/>
<rect x="148.1" y="816.52" width="8.86" height="2.975" fill="#fcf5be"/>
<rect x="156.9" y="816.52" width="8.86" height="2.975" fill="#fde396"/>
<rect x="165.8" y="816.52" width="8.86" height="2.975" fill="#a4c9e4"/>
<rect x="174.6" y="816.52" width="8.86" height="2.975" fill="#e3f1ef"/>
<rect x="183.5" y="816.52" width="8.86" height="2.975" fill="#fcf5be"/>
<rect x="192.4" y="816.52" width="8.86" height="2.975" fill="#fde396"/>
<rect x="201.2" y="816.52" width="8.86" height="2.975" fill="#d3e8f5"/>
<rect x="210.1" y="816.52" width="8.86" height="2.975" fill="#fcf5be"/>
<rect x="218.9" y="816.52" width="8.86" height="2.975" fill="#f5925a"/>
<rect x="227.8" y="816.52" width="8.86" height="2.975" fill="#fcc57c"/>
<rect x="236.7" y="816.52" width="8.86" height="2.975" fill="#e3f1ef"/>
<rect x="245.5" y="816.52" width="8.86" height="2.975" fill="#e3f1ef"/>
<rect x="254.4" y="816.52" width="8.86" height="2.975" fill="#fcf5be"/>
<rect x="50.6" y="819.50" width="8.86" height="2.975" fill="#d3e8f5"/>
<rect x="59.5" y="819.50" width="8.86" height="2.975" fill="#fde396"/>
<rect x="68.3" y="819.50" width="8.86" height="2.975" fill="#fcf5be"/>
<rect x="77.2" y="819.50" width="8.86" height="2.975" fill="#fde396"/>
<rect x="86.0" y="819.50" width="8.86" height="2.975" fill="#fcf5be"/>
<rect x="94.9" y="819.50" width="8.86" height="2.975" fill="#fcf5be"/>
<rect x="103.8" y="819.50" width="8.86" height="2.975" fill="#e3f1ef"/>
<rect x="112.6" y="819.50" width="8.86" height="2.975" fill="#608cc8"/>
<rect x="121.5" y="819.50" width="8.86" height="2.975" fill="#e3f1ef"/>
<rect x="130.3" y="819.50" width="8.86" height="2.975" fill="#fcf5be"/>
<rect x="139.2" y="819.50" width="8.86" height="2.975" fill="#e3f1ef"/>
<rect x="148.1" y="819.50" width="8.86" height="2.975" fill="#fcf5be"/>
<rect x="156.9" y="819.50" width="8.86" height="2.975" fill="#fcf5be"/>
<rect x="165.8" y="819.50" width="8.86" height="2.975" fill="#e3f1ef"/>
<rect x="174.6" y="819.50" width="8.86" height="2.975" fill="#e3f1ef"/>
<rect x="183.5" y="819.50" width="8.86" height="2.975" fill="#fcf5be"/>
<rect x="192.4" y="819.50" width="8.86" height="2.975" fill="#fde396"/>
<rect x="201.2" y="819.50" width="8.86" height="2.975" fill="#a4c9e4"/>
<rect x="210.1" y="819.50" width="8.86" height="2.975" fill="#fcf5be"/>
<rect x="218.9" y="819.50" width="8.86" height="2.975" fill="#fde396"/>
<rect x="227.8" y="819.50" width="8.86" height="2.975" fill="#fcc57c"/>
<rect x="236.7" y="819.50" width="8.86" height="2.975" fill="#e3f1ef"/>
<rect x="245.5" y="819.50" width="8.86" height="2.975" fill="#fde396"/>
<rect x="254.4" y="819.50" width="8.86" height="2.975" fill="#fcc57c"/>
<rect x="50.6" y="822.48" width="8.86" height="2.975" fill="#fcf5be"/>
<rect x="59.5" y="822.48" width="8.86" height="2.975" fill="#fcf5be"/>
<rect x="68.3" y="822.48" width="8.86" height="2.975" fill="#fde396"/>
<rect x="77.2" y="822.48" width="8.86" height="2.975" fill="#fde396"/>
<rect x="86.0" y="822.48" width="8.86" height="2.975" fill="#fcf5be"/>
<rect x="94.9" y="822.48" width="8.86" height="2.975" fill="#fcf5be"/>
<rect x="103.8" y="822.48" width="8.86" height="2.975" fill="#fcc57c"/>
<rect x="112.6" y="822.48" width="8.86" height="2.975" fill="#fcf5be"/>
<rect x="121.5" y="822.48" width="8.86" height="2.975" fill="#e3f1ef"/>
<rect x="130.3" y="822.48" width="8.86" height="2.975" fill="#fcc57c"/>
<rect x="139.2" y="822.48" width="8.86" height="2.975" fill="#e3f1ef"/>
<rect x="148.1" y="822.48" width="8.86" height="2.975" fill="#fde396"/>
<rect x="156.9" y="822.48" width="8.86" height="2.975" fill="#fcf5be"/>
<rect x="165.8" y="822.48" width="8.86" height="2.975" fill="#a4c9e4"/>
<rect x="174.6" y="822.48" width="8.86" height="2.975" fill="#608cc8"/>
<rect x="183.5" y="822.48" width="8.86" height="2.975" fill="#fcf5be"/>
<rect x="192.4" y="822.48" width="8.86" height="2.975" fill="#e3f1ef"/>
<rect x="201.2" y="822.48" width="8.86" height="2.975" fill="#d3e8f5"/>
<rect x="210.1" y="822.48" width="8.86" height="2.975" fill="#fde396"/>
<rect x="218.9" y="822.48" width="8.86" height="2.975" fill="#fcf5be"/>
<rect x="227.8" y="822.48" width="8.86" height="2.975" fill="#fcc57c"/>
<rect x="236.7" y="822.48" width="8.86" height="2.975" fill="#e3f1ef"/>
<rect x="245.5" y="822.48" width="8.86" height="2.975" fill="#fcc57c"/>
<rect x="254.4" y="822.48" width="8.86" height="2.975" fill="#e3f1ef"/>
<rect x="50.6" y="825.45" width="8.86" height="2.975" fill="#fcf5be"/>
<rect x="59.5" y="825.45" width="8.86" height="2.975" fill="#f5925a"/>
<rect x="68.3" y="825.45" width="8.86" height="2.975" fill="#e3f1ef"/>
<rect x="77.2" y="825.45" width="8.86" height="2.975" fill="#f5925a"/>
<rect x="86.0" y="825.45" width="8.86" height="2.975" fill="#f5925a"/>
<rect x="94.9" y="825.45" width="8.86" height="2.975" fill="#fcf5be"/>
<rect x="103.8" y="825.45" width="8.86" height="2.975" fill="#e3f1ef"/>
<rect x="112.6" y="825.45" width="8.86" height="2.975" fill="#e3f1ef"/>
<rect x="121.5" y="825.45" width="8.86" height="2.975" fill="#e3f1ef"/>
<rect x="130.3" y="825.45" width="8.86" height="2.975" fill="#fcc57c"/>
<rect x="139.2" y="825.45" width="8.86" height="2.975" fill="#e3f1ef"/>
<rect x="148.1" y="825.45" width="8.86" height="2.975" fill="#e3f1ef"/>
<rect x="156.9" y="825.45" width="8.86" height="2.975" fill="#fcf5be"/>
<rect x="165.8" y="825.45" width="8.86" height="2.975" fill="#e3f1ef"/>
<rect x="174.6" y="825.45" width="8.86" height="2.975" fill="#e3f1ef"/>
<rect x="183.5" y="825.45" width="8.86" height="2.975" fill="#fcf5be"/>
<rect x="192.4" y="825.45" width="8.86" height="2.975" fill="#fcf5be"/>
<rect x="201.2" y="825.45" width="8.86" height="2.975" fill="#e3f1ef"/>
<rect x="210.1" y="825.45" width="8.86" height="2.975" fill="#fcf5be"/>
<rect x="218.9" y="825.45" width="8.86" height="2.975" fill="#fcf5be"/>
<rect x="227.8" y="825.45" width="8.86" height="2.975" fill="#fcf5be"/>
<rect x="236.7" y="825.45" width="8.86" height="2.975" fill="#e3f1ef"/>
<rect x="245.5" y="825.45" width="8.86" height="2.975" fill="#fcf5be"/>
<rect x="254.4" y="825.45" width="8.86" height="2.975" fill="#f5925a"/>
<rect x="50.6" y="828.42" width="8.86" height="2.975" fill="#fde396"/>
<rect x="59.5" y="828.42" width="8.86" height="2.975" fill="#fcf5be"/>
<rect x="68.3" y="828.42" width="8.86" height="2.975" fill="#fcf5be"/>
<rect x="77.2" y="828.42" width="8.86" height="2.975" fill="#fcf5be"/>
<rect x="86.0" y="828.42" width="8.86" height="2.975" fill="#f5925a"/>
<rect x="94.9" y="828.42" width="8.86" height="2.975" fill="#fcf5be"/>
<rect x="103.8" y="828.42" width="8.86" height="2.975" fill="#d3e8f5"/>
<rect x="112.6" y="828.42" width="8.86" height="2.975" fill="#e3f1ef"/>
<rect x="121.5" y="828.42" width="8.86" height="2.975" fill="#fcf5be"/>
<rect x="130.3" y="828.42" width="8.86" height="2.975" fill="#fcf5be"/>
<rect x="139.2" y="828.42" width="8.86" height="2.975" fill="#e3f1ef"/>
<rect x="148.1" y="828.42" width="8.86" height="2.975" fill="#d3e8f5"/>
<rect x="156.9" y="828.42" width="8.86" height="2.975" fill="#fcf5be"/>
<rect x="165.8" y="828.42" width="8.86" height="2.975" fill="#fcf5be"/>
<rect x="174.6" y="828.42" width="8.86" height="2.975" fill="#fcc57c"/>
<rect x="183.5" y="828.42" width="8.86" height="2.975" fill="#e3f1ef"/>
<rect x="192.4" y="828.42" width="8.86" height="2.975" fill="#e3f1ef"/>
<rect x="201.2" y="828.42" width="8.86" height="2.975" fill="#e3f1ef"/>
<rect x="210.1" y="828.42" width="8.86" height="2.975" fill="#fcf5be"/>
<rect x="218.9" y="828.42" width="8.86" height="2.975" fill="#e3f1ef"/>
<rect x="227.8" y="828.42" width="8.86" height="2.975" fill="#fcf5be"/>
<rect x="236.7" y="828.42" width="8.86" height="2.975" fill="#fcc57c"/>
<rect x="245.5" y="828.42" width="8.86" height="2.975" fill="#fcf5be"/>
<rect x="254.4" y="828.42" width="8.86" height="2.975" fill="#e3f1ef"/>
<rect x="50.6" y="831.40" width="8.86" height="2.975" fill="#fcc57c"/>
<rect x="59.5" y="831.40" width="8.86" height="2.975" fill="#fcf5be"/>
<rect x="68.3" y="831.40" width="8.86" height="2.975" fill="#e3f1ef"/>
<rect x="77.2" y="831.40" width="8.86" height="2.975" fill="#fde396"/>
<rect x="86.0" y="831.40" width="8.86" height="2.975" fill="#fcf5be"/>
<rect x="94.9" y="831.40" width="8.86" height="2.975" fill="#fcf5be"/>
<rect x="103.8" y="831.40" width="8.86" height="2.975" fill="#e3f1ef"/>
<rect x="112.6" y="831.40" width="8.86" height="2.975" fill="#e3f1ef"/>
<rect x="121.5" y="831.40" width="8.86" height="2.975" fill="#fcc57c"/>
<rect x="130.3" y="831.40" width="8.86" height="2.975" fill="#fcf5be"/>
<rect x="139.2" y="831.40" width="8.86" height="2.975" fill="#e3f1ef"/>
<rect x="148.1" y="831.40" width="8.86" height="2.975" fill="#e3f1ef"/>
<rect x="156.9" y="831.40" width="8.86" height="2.975" fill="#e3f1ef"/>
<rect x="165.8" y="831.40" width="8.86" height="2.975" fill="#e3f1ef"/>
<rect x="174.6" y="831.40" width="8.86" height="2.975" fill="#e3f1ef"/>
<rect x="183.5" y="831.40" width="8.86" height="2.975" fill="#e3f1ef"/>
<rect x="192.4" y="831.40" width="8.86" height="2.975" fill="#fcf5be"/>
<rect x="201.2" y="831.40" width="8.86" height="2.975" fill="#fcf5be"/>
<rect x="210.1" y="831.40" width="8.86" height="2.975" fill="#e3f1ef"/>
<rect x="218.9" y="831.40" width="8.86" height="2.975" fill="#d3e8f5"/>
<rect x="227.8" y="831.40" width="8.86" height="2.975" fill="#e3f1ef"/>
<rect x="236.7" y="831.40" width="8.86" height="2.975" fill="#fde396"/>
<rect x="245.5" y="831.40" width="8.86" height="2.975" fill="#e3f1ef"/>
<rect x="254.4" y="831.40" width="8.86" height="2.975" fill="#e3f1ef"/>
<rect x="50.6" y="834.38" width="8.86" height="2.975" fill="#fde396"/>
<rect x="59.5" y="834.38" width="8.86" height="2.975" fill="#fcf5be"/>
<rect x="68.3" y="834.38" width="8.86" height="2.975" fill="#fcf5be"/>
<rect x="77.2" y="834.38" width="8.86" height="2.975" fill="#fcf5be"/>
<rect x="86.0" y="834.38" width="8.86" height="2.975" fill="#fde396"/>
<rect x="94.9" y="834.38" width="8.86" height="2.975" fill="#fde396"/>
<rect x="103.8" y="834.38" width="8.86" height="2.975" fill="#e3f1ef"/>
<rect x="112.6" y="834.38" width="8.86" height="2.975" fill="#fcc57c"/>
<rect x="121.5" y="834.38" width="8.86" height="2.975" fill="#e3f1ef"/>
<rect x="130.3" y="834.38" width="8.86" height="2.975" fill="#d3e8f5"/>
<rect x="139.2" y="834.38" width="8.86" height="2.975" fill="#a4c9e4"/>
<rect x="148.1" y="834.38" width="8.86" height="2.975" fill="#fcf5be"/>
<rect x="156.9" y="834.38" width="8.86" height="2.975" fill="#fde396"/>
<rect x="165.8" y="834.38" width="8.86" height="2.975" fill="#d3e8f5"/>
<rect x="174.6" y="834.38" width="8.86" height="2.975" fill="#e3f1ef"/>
<rect x="183.5" y="834.38" width="8.86" height="2.975" fill="#fcf5be"/>
<rect x="192.4" y="834.38" width="8.86" height="2.975" fill="#e3f1ef"/>
<rect x="201.2" y="834.38" width="8.86" height="2.975" fill="#e3f1ef"/>
<rect x="210.1" y="834.38" width="8.86" height="2.975" fill="#fcf5be"/>
<rect x="218.9" y="834.38" width="8.86" height="2.975" fill="#e3f1ef"/>
<rect x="227.8" y="834.38" width="8.86" height="2.975" fill="#fcc57c"/>
<rect x="236.7" y="834.38" width="8.86" height="2.975" fill="#fcc57c"/>
<rect x="245.5" y="834.38" width="8.86" height="2.975" fill="#f5925a"/>
<rect x="254.4" y="834.38" width="8.86" height="2.975" fill="#fcf5be"/>
<rect x="50.6" y="837.35" width="8.86" height="2.975" fill="#e45838"/>
<rect x="59.5" y="837.35" width="8.86" height="2.975" fill="#fde396"/>
<rect x="68.3" y="837.35" width="8.86" height="2.975" fill="#f5925a"/>
<rect x="77.2" y="837.35" width="8.86" height="2.975" fill="#fcf5be"/>
<rect x="86.0" y="837.35" width="8.86" height="2.975" fill="#fcf5be"/>
<rect x="94.9" y="837.35" width="8.86" height="2.975" fill="#e3f1ef"/>
<rect x="103.8" y="837.35" width="8.86" height="2.975" fill="#e3f1ef"/>
<rect x="112.6" y="837.35" width="8.86" height="2.975" fill="#e3f1ef"/>
<rect x="121.5" y="837.35" width="8.86" height="2.975" fill="#e3f1ef"/>
<rect x="130.3" y="837.35" width="8.86" height="2.975" fill="#e3f1ef"/>
<rect x="139.2" y="837.35" width="8.86" height="2.975" fill="#e3f1ef"/>
<rect x="148.1" y="837.35" width="8.86" height="2.975" fill="#e3f1ef"/>
<rect x="156.9" y="837.35" width="8.86" height="2.975" fill="#d3e8f5"/>
<rect x="165.8" y="837.35" width="8.86" height="2.975" fill="#a4c9e4"/>
<rect x="174.6" y="837.35" width="8.86" height="2.975" fill="#e3f1ef"/>
<rect x="183.5" y="837.35" width="8.86" height="2.975" fill="#fcf5be"/>
<rect x="192.4" y="837.35" width="8.86" height="2.975" fill="#e3f1ef"/>
<rect x="201.2" y="837.35" width="8.86" height="2.975" fill="#fcf5be"/>
<rect x="210.1" y="837.35" width="8.86" height="2.975" fill="#e3f1ef"/>
<rect x="218.9" y="837.35" width="8.86" height="2.975" fill="#e3f1ef"/>
<rect x="227.8" y="837.35" width="8.86" height="2.975" fill="#e3f1ef"/>
<rect x="236.7" y="837.35" width="8.86" height="2.975" fill="#fcf5be"/>
<rect x="245.5" y="837.35" width="8.86" height="2.975" fill="#e3f1ef"/>
<rect x="254.4" y="837.35" width="8.86" height="2.975" fill="#e3f1ef"/>
<rect x="50.6" y="840.33" width="8.86" height="2.975" fill="#e45838"/>
<rect x="59.5" y="840.33" width="8.86" height="2.975" fill="#fcf5be"/>
<rect x="68.3" y="840.33" width="8.86" height="2.975" fill="#fcf5be"/>
<rect x="77.2" y="840.33" width="8.86" height="2.975" fill="#fcf5be"/>
<rect x="86.0" y="840.33" width="8.86" height="2.975" fill="#f5925a"/>
<rect x="94.9" y="840.33" width="8.86" height="2.975" fill="#e3f1ef"/>
<rect x="103.8" y="840.33" width="8.86" height="2.975" fill="#e3f1ef"/>
<rect x="112.6" y="840.33" width="8.86" height="2.975" fill="#e3f1ef"/>
<rect x="121.5" y="840.33" width="8.86" height="2.975" fill="#e3f1ef"/>
<rect x="130.3" y="840.33" width="8.86" height="2.975" fill="#e3f1ef"/>
<rect x="139.2" y="840.33" width="8.86" height="2.975" fill="#e3f1ef"/>
<rect x="148.1" y="840.33" width="8.86" height="2.975" fill="#fde396"/>
<rect x="156.9" y="840.33" width="8.86" height="2.975" fill="#e3f1ef"/>
<rect x="165.8" y="840.33" width="8.86" height="2.975" fill="#e3f1ef"/>
<rect x="174.6" y="840.33" width="8.86" height="2.975" fill="#e3f1ef"/>
<rect x="183.5" y="840.33" width="8.86" height="2.975" fill="#e3f1ef"/>
<rect x="192.4" y="840.33" width="8.86" height="2.975" fill="#fcf5be"/>
<rect x="201.2" y="840.33" width="8.86" height="2.975" fill="#fcf5be"/>
<rect x="210.1" y="840.33" width="8.86" height="2.975" fill="#e3f1ef"/>
<rect x="218.9" y="840.33" width="8.86" height="2.975" fill="#fcf5be"/>
<rect x="227.8" y="840.33" width="8.86" height="2.975" fill="#fcf5be"/>
<rect x="236.7" y="840.33" width="8.86" height="2.975" fill="#e3f1ef"/>
<rect x="245.5" y="840.33" width="8.86" height="2.975" fill="#e3f1ef"/>
<rect x="254.4" y="840.33" width="8.86" height="2.975" fill="#e3f1ef"/>
<rect x="50.6" y="843.30" width="8.86" height="2.975" fill="#f5925a"/>
<rect x="59.5" y="843.30" width="8.86" height="2.975" fill="#f5925a"/>
<rect x="68.3" y="843.30" width="8.86" height="2.975" fill="#fde396"/>
<rect x="77.2" y="843.30" width="8.86" height="2.975" fill="#fcf5be"/>
<rect x="86.0" y="843.30" width="8.86" height="2.975" fill="#fde396"/>
<rect x="94.9" y="843.30" width="8.86" height="2.975" fill="#e3f1ef"/>
<rect x="103.8" y="843.30" width="8.86" height="2.975" fill="#e3f1ef"/>
<rect x="112.6" y="843.30" width="8.86" height="2.975" fill="#e3f1ef"/>
<rect x="121.5" y="843.30" width="8.86" height="2.975" fill="#fcf5be"/>
<rect x="130.3" y="843.30" width="8.86" height="2.975" fill="#e3f1ef"/>
<rect x="139.2" y="843.30" width="8.86" height="2.975" fill="#e3f1ef"/>
<rect x="148.1" y="843.30" width="8.86" height="2.975" fill="#e3f1ef"/>
<rect x="156.9" y="843.30" width="8.86" height="2.975" fill="#e3f1ef"/>
<rect x="165.8" y="843.30" width="8.86" height="2.975" fill="#e3f1ef"/>
<rect x="174.6" y="843.30" width="8.86" height="2.975" fill="#fcf5be"/>
<rect x="183.5" y="843.30" width="8.86" height="2.975" fill="#fcf5be"/>
<rect x="192.4" y="843.30" width="8.86" height="2.975" fill="#fde396"/>
<rect x="201.2" y="843.30" width="8.86" height="2.975" fill="#fcf5be"/>
<rect x="210.1" y="843.30" width="8.86" height="2.975" fill="#e3f1ef"/>
<rect x="218.9" y="843.30" width="8.86" height="2.975" fill="#fcc57c"/>
<rect x="227.8" y="843.30" width="8.86" height="2.975" fill="#fde396"/>
<rect x="236.7" y="843.30" width="8.86" height="2.975" fill="#fcf5be"/>
<rect x="245.5" y="843.30" width="8.86" height="2.975" fill="#e3f1ef"/>
<rect x="254.4" y="843.30" width="8.86" height="2.975" fill="#fcf5be"/>
<rect x="50.6" y="846.27" width="8.86" height="2.975" fill="#f5925a"/>
<rect x="59.5" y="846.27" width="8.86" height="2.975" fill="#f5925a"/>
<rect x="68.3" y="846.27" width="8.86" height="2.975" fill="#fcf5be"/>
<rect x="77.2" y="846.27" width="8.86" height="2.975" fill="#fcf5be"/>
<rect x="86.0" y="846.27" width="8.86" height="2.975" fill="#e3f1ef"/>
<rect x="94.9" y="846.27" width="8.86" height="2.975" fill="#e3f1ef"/>
<rect x="103.8" y="846.27" width="8.86" height="2.975" fill="#e3f1ef"/>
<rect x="112.6" y="846.27" width="8.86" height="2.975" fill="#e3f1ef"/>
<rect x="121.5" y="846.27" width="8.86" height="2.975" fill="#fde396"/>
<rect x="130.3" y="846.27" width="8.86" height="2.975" fill="#e3f1ef"/>
<rect x="139.2" y="846.27" width="8.86" height="2.975" fill="#e3f1ef"/>
<rect x="148.1" y="846.27" width="8.86" height="2.975" fill="#e3f1ef"/>
<rect x="156.9" y="846.27" width="8.86" height="2.975" fill="#fcf5be"/>
<rect x="165.8" y="846.27" width="8.86" height="2.975" fill="#fcf5be"/>
<rect x="174.6" y="846.27" width="8.86" height="2.975" fill="#fcf5be"/>
<rect x="183.5" y="846.27" width="8.86" height="2.975" fill="#e3f1ef"/>
<rect x="192.4" y="846.27" width="8.86" height="2.975" fill="#fcc57c"/>
<rect x="201.2" y="846.27" width="8.86" height="2.975" fill="#fcf5be"/>
<rect x="210.1" y="846.27" width="8.86" height="2.975" fill="#e3f1ef"/>
<rect x="218.9" y="846.27" width="8.86" height="2.975" fill="#fde396"/>
<rect x="227.8" y="846.27" width="8.86" height="2.975" fill="#fcf5be"/>
<rect x="236.7" y="846.27" width="8.86" height="2.975" fill="#fcc57c"/>
<rect x="245.5" y="846.27" width="8.86" height="2.975" fill="#e3f1ef"/>
<rect x="254.4" y="846.27" width="8.86" height="2.975" fill="#e3f1ef"/>
<rect x="50.6" y="849.25" width="8.86" height="2.975" fill="#fde396"/>
<rect x="59.5" y="849.25" width="8.86" height="2.975" fill="#fcf5be"/>
<rect x="68.3" y="849.25" width="8.86" height="2.975" fill="#fde396"/>
<rect x="77.2" y="849.25" width="8.86" height="2.975" fill="#fcf5be"/>
<rect x="86.0" y="849.25" width="8.86" height="2.975" fill="#fcf5be"/>
<rect x="94.9" y="849.25" width="8.86" height="2.975" fill="#fcf5be"/>
<rect x="103.8" y="849.25" width="8.86" height="2.975" fill="#d3e8f5"/>
<rect x="112.6" y="849.25" width="8.86" height="2.975" fill="#d3e8f5"/>
<rect x="121.5" y="849.25" width="8.86" height="2.975" fill="#fcf5be"/>
<rect x="130.3" y="849.25" width="8.86" height="2.975" fill="#e3f1ef"/>
<rect x="139.2" y="849.25" width="8.86" height="2.975" fill="#e3f1ef"/>
<rect x="148.1" y="849.25" width="8.86" height="2.975" fill="#d3e8f5"/>
<rect x="156.9" y="849.25" width="8.86" height="2.975" fill="#fcf5be"/>
<rect x="165.8" y="849.25" width="8.86" height="2.975" fill="#fcf5be"/>
<rect x="174.6" y="849.25" width="8.86" height="2.975" fill="#fcf5be"/>
<rect x="183.5" y="849.25" width="8.86" height="2.975" fill="#fcf5be"/>
<rect x="192.4" y="849.25" width="8.86" height="2.975" fill="#fde396"/>
<rect x="201.2" y="849.25" width="8.86" height="2.975" fill="#fcc57c"/>
<rect x="210.1" y="849.25" width="8.86" height="2.975" fill="#f5925a"/>
<rect x="218.9" y="849.25" width="8.86" height="2.975" fill="#fcf5be"/>
<rect x="227.8" y="849.25" width="8.86" height="2.975" fill="#fcf5be"/>
<rect x="236.7" y="849.25" width="8.86" height="2.975" fill="#e3f1ef"/>
<rect x="245.5" y="849.25" width="8.86" height="2.975" fill="#fde396"/>
<rect x="254.4" y="849.25" width="8.86" height="2.975" fill="#fcf5be"/>
<rect x="50.6" y="852.23" width="8.86" height="2.975" fill="#fcf5be"/>
<rect x="59.5" y="852.23" width="8.86" height="2.975" fill="#fcf5be"/>
<rect x="68.3" y="852.23" width="8.86" height="2.975" fill="#fde396"/>
<rect x="77.2" y="852.23" width="8.86" height="2.975" fill="#fcf5be"/>
<rect x="86.0" y="852.23" width="8.86" height="2.975" fill="#fcf5be"/>
<rect x="94.9" y="852.23" width="8.86" height="2.975" fill="#d3e8f5"/>
<rect x="103.8" y="852.23" width="8.86" height="2.975" fill="#e3f1ef"/>
<rect x="112.6" y="852.23" width="8.86" height="2.975" fill="#e3f1ef"/>
<rect x="121.5" y="852.23" width="8.86" height="2.975" fill="#fcf5be"/>
<rect x="130.3" y="852.23" width="8.86" height="2.975" fill="#e3f1ef"/>
<rect x="139.2" y="852.23" width="8.86" height="2.975" fill="#a4c9e4"/>
<rect x="148.1" y="852.23" width="8.86" height="2.975" fill="#e3f1ef"/>
<rect x="156.9" y="852.23" width="8.86" height="2.975" fill="#fcf5be"/>
<rect x="165.8" y="852.23" width="8.86" height="2.975" fill="#a4c9e4"/>
<rect x="174.6" y="852.23" width="8.86" height="2.975" fill="#e3f1ef"/>
<rect x="183.5" y="852.23" width="8.86" height="2.975" fill="#f5925a"/>
<rect x="192.4" y="852.23" width="8.86" height="2.975" fill="#fde396"/>
<rect x="201.2" y="852.23" width="8.86" height="2.975" fill="#fcf5be"/>
<rect x="210.1" y="852.23" width="8.86" height="2.975" fill="#f5925a"/>
<rect x="218.9" y="852.23" width="8.86" height="2.975" fill="#e3f1ef"/>
<rect x="227.8" y="852.23" width="8.86" height="2.975" fill="#fcc57c"/>
<rect x="236.7" y="852.23" width="8.86" height="2.975" fill="#a4c9e4"/>
<rect x="245.5" y="852.23" width="8.86" height="2.975" fill="#fde396"/>
<rect x="254.4" y="852.23" width="8.86" height="2.975" fill="#d3e8f5"/>
<rect x="50.6" y="855.20" width="8.86" height="2.975" fill="#fcf5be"/>
<rect x="59.5" y="855.20" width="8.86" height="2.975" fill="#e3f1ef"/>
<rect x="68.3" y="855.20" width="8.86" height="2.975" fill="#fcf5be"/>
<rect x="77.2" y="855.20" width="8.86" height="2.975" fill="#f5925a"/>
<rect x="86.0" y="855.20" width="8.86" height="2.975" fill="#fcf5be"/>
<rect x="94.9" y="855.20" width="8.86" height="2.975" fill="#e3f1ef"/>
<rect x="103.8" y="855.20" width="8.86" height="2.975" fill="#fcf5be"/>
<rect x="112.6" y="855.20" width="8.86" height="2.975" fill="#e3f1ef"/>
<rect x="121.5" y="855.20" width="8.86" height="2.975" fill="#e3f1ef"/>
<rect x="130.3" y="855.20" width="8.86" height="2.975" fill="#d3e8f5"/>
<rect x="139.2" y="855.20" width="8.86" height="2.975" fill="#e3f1ef"/>
<rect x="148.1" y="855.20" width="8.86" height="2.975" fill="#d3e8f5"/>
<rect x="156.9" y="855.20" width="8.86" height="2.975" fill="#e3f1ef"/>
<rect x="165.8" y="855.20" width="8.86" height="2.975" fill="#e3f1ef"/>
<rect x="174.6" y="855.20" width="8.86" height="2.975" fill="#fcf5be"/>
<rect x="183.5" y="855.20" width="8.86" height="2.975" fill="#fcc57c"/>
<rect x="192.4" y="855.20" width="8.86" height="2.975" fill="#f5925a"/>
<rect x="201.2" y="855.20" width="8.86" height="2.975" fill="#fcf5be"/>
<rect x="210.1" y="855.20" width="8.86" height="2.975" fill="#fcf5be"/>
<rect x="218.9" y="855.20" width="8.86" height="2.975" fill="#fcf5be"/>
<rect x="227.8" y="855.20" width="8.86" height="2.975" fill="#fcf5be"/>
<rect x="236.7" y="855.20" width="8.86" height="2.975" fill="#e3f1ef"/>
<rect x="245.5" y="855.20" width="8.86" height="2.975" fill="#e3f1ef"/>
<rect x="254.4" y="855.20" width="8.86" height="2.975" fill="#e3f1ef"/>
<rect x="50.6" y="858.17" width="8.86" height="2.975" fill="#fcf5be"/>
<rect x="59.5" y="858.17" width="8.86" height="2.975" fill="#e3f1ef"/>
<rect x="68.3" y="858.17" width="8.86" height="2.975" fill="#fcf5be"/>
<rect x="77.2" y="858.17" width="8.86" height="2.975" fill="#fcf5be"/>
<rect x="86.0" y="858.17" width="8.86" height="2.975" fill="#fcc57c"/>
<rect x="94.9" y="858.17" width="8.86" height="2.975" fill="#fcf5be"/>
<rect x="103.8" y="858.17" width="8.86" height="2.975" fill="#e3f1ef"/>
<rect x="112.6" y="858.17" width="8.86" height="2.975" fill="#d3e8f5"/>
<rect x="121.5" y="858.17" width="8.86" height="2.975" fill="#fcf5be"/>
<rect x="130.3" y="858.17" width="8.86" height="2.975" fill="#e3f1ef"/>
<rect x="139.2" y="858.17" width="8.86" height="2.975" fill="#a4c9e4"/>
<rect x="148.1" y="858.17" width="8.86" height="2.975" fill="#d3e8f5"/>
<rect x="156.9" y="858.17" width="8.86" height="2.975" fill="#d3e8f5"/>
<rect x="165.8" y="858.17" width="8.86" height="2.975" fill="#e3f1ef"/>
<rect x="174.6" y="858.17" width="8.86" height="2.975" fill="#fde396"/>
<rect x="183.5" y="858.17" width="8.86" height="2.975" fill="#fcc57c"/>
<rect x="192.4" y="858.17" width="8.86" height="2.975" fill="#e3f1ef"/>
<rect x="201.2" y="858.17" width="8.86" height="2.975" fill="#fcf5be"/>
<rect x="210.1" y="858.17" width="8.86" height="2.975" fill="#fcf5be"/>
<rect x="218.9" y="858.17" width="8.86" height="2.975" fill="#fcf5be"/>
<rect x="227.8" y="858.17" width="8.86" height="2.975" fill="#fcf5be"/>
<rect x="236.7" y="858.17" width="8.86" height="2.975" fill="#d3e8f5"/>
<rect x="245.5" y="858.17" width="8.86" height="2.975" fill="#e3f1ef"/>
<rect x="254.4" y="858.17" width="8.86" height="2.975" fill="#fcf5be"/>
<rect x="50.6" y="861.15" width="8.86" height="2.975" fill="#fcf5be"/>
<rect x="59.5" y="861.15" width="8.86" height="2.975" fill="#e3f1ef"/>
<rect x="68.3" y="861.15" width="8.86" height="2.975" fill="#fcf5be"/>
<rect x="77.2" y="861.15" width="8.86" height="2.975" fill="#fcc57c"/>
<rect x="86.0" y="861.15" width="8.86" height="2.975" fill="#e3f1ef"/>
<rect x="94.9" y="861.15" width="8.86" height="2.975" fill="#fcf5be"/>
<rect x="103.8" y="861.15" width="8.86" height="2.975" fill="#e3f1ef"/>
<rect x="112.6" y="861.15" width="8.86" height="2.975" fill="#e3f1ef"/>
<rect x="121.5" y="861.15" width="8.86" height="2.975" fill="#e3f1ef"/>
<rect x="130.3" y="861.15" width="8.86" height="2.975" fill="#d3e8f5"/>
<rect x="139.2" y="861.15" width="8.86" height="2.975" fill="#e3f1ef"/>
<rect x="148.1" y="861.15" width="8.86" height="2.975" fill="#fde396"/>
<rect x="156.9" y="861.15" width="8.86" height="2.975" fill="#e3f1ef"/>
<rect x="165.8" y="861.15" width="8.86" height="2.975" fill="#fde396"/>
<rect x="174.6" y="861.15" width="8.86" height="2.975" fill="#fcf5be"/>
<rect x="183.5" y="861.15" width="8.86" height="2.975" fill="#fcc57c"/>
<rect x="192.4" y="861.15" width="8.86" height="2.975" fill="#fcf5be"/>
<rect x="201.2" y="861.15" width="8.86" height="2.975" fill="#e3f1ef"/>
<rect x="210.1" y="861.15" width="8.86" height="2.975" fill="#fcf5be"/>
<rect x="218.9" y="861.15" width="8.86" height="2.975" fill="#e3f1ef"/>
<rect x="227.8" y="861.15" width="8.86" height="2.975" fill="#e45838"/>
<rect x="236.7" y="861.15" width="8.86" height="2.975" fill="#fcc57c"/>
<rect x="245.5" y="861.15" width="8.86" height="2.975" fill="#e3f1ef"/>
<rect x="254.4" y="861.15" width="8.86" height="2.975" fill="#fcf5be"/>
<rect x="50.6" y="864.12" width="8.86" height="2.975" fill="#e3f1ef"/>
<rect x="59.5" y="864.12" width="8.86" height="2.975" fill="#fcf5be"/>
<rect x="68.3" y="864.12" width="8.86" height="2.975" fill="#e3f1ef"/>
<rect x="77.2" y="864.12" width="8.86" height="2.975" fill="#fcf5be"/>
<rect x="86.0" y="864.12" width="8.86" height="2.975" fill="#fde396"/>
<rect x="94.9" y="864.12" width="8.86" height="2.975" fill="#fcf5be"/>
<rect x="103.8" y="864.12" width="8.86" height="2.975" fill="#e3f1ef"/>
<rect x="112.6" y="864.12" width="8.86" height="2.975" fill="#e3f1ef"/>
<rect x="121.5" y="864.12" width="8.86" height="2.975" fill="#a4c9e4"/>
<rect x="130.3" y="864.12" width="8.86" height="2.975" fill="#e3f1ef"/>
<rect x="139.2" y="864.12" width="8.86" height="2.975" fill="#e3f1ef"/>
<rect x="148.1" y="864.12" width="8.86" height="2.975" fill="#e3f1ef"/>
<rect x="156.9" y="864.12" width="8.86" height="2.975" fill="#fcf5be"/>
<rect x="165.8" y="864.12" width="8.86" height="2.975" fill="#fcc57c"/>
<rect x="174.6" y="864.12" width="8.86" height="2.975" fill="#fde396"/>
<rect x="183.5" y="864.12" width="8.86" height="2.975" fill="#fcc57c"/>
<rect x="192.4" y="864.12" width="8.86" height="2.975" fill="#fde396"/>
<rect x="201.2" y="864.12" width="8.86" height="2.975" fill="#fcf5be"/>
<rect x="210.1" y="864.12" width="8.86" height="2.975" fill="#d3e8f5"/>
<rect x="218.9" y="864.12" width="8.86" height="2.975" fill="#fcf5be"/>
<rect x="227.8" y="864.12" width="8.86" height="2.975" fill="#f5925a"/>
<rect x="236.7" y="864.12" width="8.86" height="2.975" fill="#fcf5be"/>
<rect x="245.5" y="864.12" width="8.86" height="2.975" fill="#e3f1ef"/>
<rect x="254.4" y="864.12" width="8.86" height="2.975" fill="#fcf5be"/>
<rect x="50.6" y="867.10" width="8.86" height="2.975" fill="#e3f1ef"/>
<rect x="59.5" y="867.10" width="8.86" height="2.975" fill="#fcf5be"/>
<rect x="68.3" y="867.10" width="8.86" height="2.975" fill="#e3f1ef"/>
<rect x="77.2" y="867.10" width="8.86" height="2.975" fill="#fcf5be"/>
<rect x="86.0" y="867.10" width="8.86" height="2.975" fill="#fcf5be"/>
<rect x="94.9" y="867.10" width="8.86" height="2.975" fill="#e3f1ef"/>
<rect x="103.8" y="867.10" width="8.86" height="2.975" fill="#e3f1ef"/>
<rect x="112.6" y="867.10" width="8.86" height="2.975" fill="#e3f1ef"/>
<rect x="121.5" y="867.10" width="8.86" height="2.975" fill="#608cc8"/>
<rect x="130.3" y="867.10" width="8.86" height="2.975" fill="#e3f1ef"/>
<rect x="139.2" y="867.10" width="8.86" height="2.975" fill="#d3e8f5"/>
<rect x="148.1" y="867.10" width="8.86" height="2.975" fill="#e3f1ef"/>
<rect x="156.9" y="867.10" width="8.86" height="2.975" fill="#e3f1ef"/>
<rect x="165.8" y="867.10" width="8.86" height="2.975" fill="#d3e8f5"/>
<rect x="174.6" y="867.10" width="8.86" height="2.975" fill="#fde396"/>
<rect x="183.5" y="867.10" width="8.86" height="2.975" fill="#fcf5be"/>
<rect x="192.4" y="867.10" width="8.86" height="2.975" fill="#fde396"/>
<rect x="201.2" y="867.10" width="8.86" height="2.975" fill="#f5925a"/>
<rect x="210.1" y="867.10" width="8.86" height="2.975" fill="#fcf5be"/>
<rect x="218.9" y="867.10" width="8.86" height="2.975" fill="#fcf5be"/>
<rect x="227.8" y="867.10" width="8.86" height="2.975" fill="#fcf5be"/>
<rect x="236.7" y="867.10" width="8.86" height="2.975" fill="#e3f1ef"/>
<rect x="245.5" y="867.10" width="8.86" height="2.975" fill="#e3f1ef"/>
<rect x="254.4" y="867.10" width="8.86" height="2.975" fill="#fcf5be"/>
<rect x="50.6" y="870.08" width="8.86" height="2.975" fill="#fde396"/>
<rect x="59.5" y="870.08" width="8.86" height="2.975" fill="#e3f1ef"/>
<rect x="68.3" y="870.08" width="8.86" height="2.975" fill="#fcf5be"/>
<rect x="77.2" y="870.08" width="8.86" height="2.975" fill="#fcf5be"/>
<rect x="86.0" y="870.08" width="8.86" height="2.975" fill="#fcf5be"/>
<rect x="94.9" y="870.08" width="8.86" height="2.975" fill="#fcf5be"/>
<rect x="103.8" y="870.08" width="8.86" height="2.975" fill="#e3f1ef"/>
<rect x="112.6" y="870.08" width="8.86" height="2.975" fill="#d3e8f5"/>
<rect x="121.5" y="870.08" width="8.86" height="2.975" fill="#e3f1ef"/>
<rect x="130.3" y="870.08" width="8.86" height="2.975" fill="#e3f1ef"/>
<rect x="139.2" y="870.08" width="8.86" height="2.975" fill="#d3e8f5"/>
<rect x="148.1" y="870.08" width="8.86" height="2.975" fill="#d3e8f5"/>
<rect x="156.9" y="870.08" width="8.86" height="2.975" fill="#e3f1ef"/>
<rect x="165.8" y="870.08" width="8.86" height="2.975" fill="#fcf5be"/>
<rect x="174.6" y="870.08" width="8.86" height="2.975" fill="#fde396"/>
<rect x="183.5" y="870.08" width="8.86" height="2.975" fill="#fcf5be"/>
<rect x="192.4" y="870.08" width="8.86" height="2.975" fill="#fcf5be"/>
<rect x="201.2" y="870.08" width="8.86" height="2.975" fill="#fcf5be"/>
<rect x="210.1" y="870.08" width="8.86" height="2.975" fill="#fcf5be"/>
<rect x="218.9" y="870.08" width="8.86" height="2.975" fill="#fde396"/>
<rect x="227.8" y="870.08" width="8.86" height="2.975" fill="#f5925a"/>
<rect x="236.7" y="870.08" width="8.86" height="2.975" fill="#e3f1ef"/>
<rect x="245.5" y="870.08" width="8.86" height="2.975" fill="#e3f1ef"/>
<rect x="254.4" y="870.08" width="8.86" height="2.975" fill="#e3f1ef"/>
<rect x="50.6" y="873.05" width="8.86" height="2.975" fill="#fcf5be"/>
<rect x="59.5" y="873.05" width="8.86" height="2.975" fill="#e3f1ef"/>
<rect x="68.3" y="873.05" width="8.86" height="2.975" fill="#fcf5be"/>
<rect x="77.2" y="873.05" width="8.86" height="2.975" fill="#fcf5be"/>
<rect x="86.0" y="873.05" width="8.86" height="2.975" fill="#e3f1ef"/>
<rect x="94.9" y="873.05" width="8.86" height="2.975" fill="#e3f1ef"/>
<rect x="103.8" y="873.05" width="8.86" height="2.975" fill="#e3f1ef"/>
<rect x="112.6" y="873.05" width="8.86" height="2.975" fill="#e3f1ef"/>
<rect x="121.5" y="873.05" width="8.86" height="2.975" fill="#d3e8f5"/>
<rect x="130.3" y="873.05" width="8.86" height="2.975" fill="#d3e8f5"/>
<rect x="139.2" y="873.05" width="8.86" height="2.975" fill="#d3e8f5"/>
<rect x="148.1" y="873.05" width="8.86" height="2.975" fill="#e3f1ef"/>
<rect x="156.9" y="873.05" width="8.86" height="2.975" fill="#d3e8f5"/>
<rect x="165.8" y="873.05" width="8.86" height="2.975" fill="#e3f1ef"/>
<rect x="174.6" y="873.05" width="8.86" height="2.975" fill="#fde396"/>
<rect x="183.5" y="873.05" width="8.86" height="2.975" fill="#fcf5be"/>
<rect x="192.4" y="873.05" width="8.86" height="2.975" fill="#e45838"/>
<rect x="201.2" y="873.05" width="8.86" height="2.975" fill="#fcf5be"/>
<rect x="210.1" y="873.05" width="8.86" height="2.975" fill="#fcf5be"/>
<rect x="218.9" y="873.05" width="8.86" height="2.975" fill="#fde396"/>
<rect x="227.8" y="873.05" width="8.86" height="2.975" fill="#fcc57c"/>
<rect x="236.7" y="873.05" width="8.86" height="2.975" fill="#e3f1ef"/>
<rect x="245.5" y="873.05" width="8.86" height="2.975" fill="#fcf5be"/>
<rect x="254.4" y="873.05" width="8.86" height="2.975" fill="#fde396"/>
<rect x="50.6" y="876.02" width="8.86" height="2.975" fill="#e3f1ef"/>
<rect x="59.5" y="876.02" width="8.86" height="2.975" fill="#e3f1ef"/>
<rect x="68.3" y="876.02" width="8.86" height="2.975" fill="#fcf5be"/>
<rect x="77.2" y="876.02" width="8.86" height="2.975" fill="#f5925a"/>
<rect x="86.0" y="876.02" width="8.86" height="2.975" fill="#fcf5be"/>
<rect x="94.9" y="876.02" width="8.86" height="2.975" fill="#fcf5be"/>
<rect x="103.8" y="876.02" width="8.86" height="2.975" fill="#fcf5be"/>
<rect x="112.6" y="876.02" width="8.86" height="2.975" fill="#e3f1ef"/>
<rect x="121.5" y="876.02" width="8.86" height="2.975" fill="#e3f1ef"/>
<rect x="130.3" y="876.02" width="8.86" height="2.975" fill="#fcf5be"/>
<rect x="139.2" y="876.02" width="8.86" height="2.975" fill="#fde396"/>
<rect x="148.1" y="876.02" width="8.86" height="2.975" fill="#e3f1ef"/>
<rect x="156.9" y="876.02" width="8.86" height="2.975" fill="#e3f1ef"/>
<rect x="165.8" y="876.02" width="8.86" height="2.975" fill="#fcf5be"/>
<rect x="174.6" y="876.02" width="8.86" height="2.975" fill="#fcc57c"/>
<rect x="183.5" y="876.02" width="8.86" height="2.975" fill="#fcf5be"/>
<rect x="192.4" y="876.02" width="8.86" height="2.975" fill="#fcf5be"/>
<rect x="201.2" y="876.02" width="8.86" height="2.975" fill="#fde396"/>
<rect x="210.1" y="876.02" width="8.86" height="2.975" fill="#e3f1ef"/>
<rect x="218.9" y="876.02" width="8.86" height="2.975" fill="#fcf5be"/>
<rect x="227.8" y="876.02" width="8.86" height="2.975" fill="#fcc57c"/>
<rect x="236.7" y="876.02" width="8.86" height="2.975" fill="#e3f1ef"/>
<rect x="245.5" y="876.02" width="8.86" height="2.975" fill="#e3f1ef"/>
<rect x="254.4" y="876.02" width="8.86" height="2.975" fill="#fcf5be"/>
<rect x="50.6" y="879.00" width="8.86" height="2.975" fill="#fde396"/>
<rect x="59.5" y="879.00" width="8.86" height="2.975" fill="#e3f1ef"/>
<rect x="68.3" y="879.00" width="8.86" height="2.975" fill="#e3f1ef"/>
<rect x="77.2" y="879.00" width="8.86" height="2.975" fill="#fcf5be"/>
<rect x="86.0" y="879.00" width="8.86" height="2.975" fill="#fcf5be"/>
<rect x="94.9" y="879.00" width="8.86" height="2.975" fill="#f5925a"/>
<rect x="103.8" y="879.00" width="8.86" height="2.975" fill="#fcf5be"/>
<rect x="112.6" y="879.00" width="8.86" height="2.975" fill="#a4c9e4"/>
<rect x="121.5" y="879.00" width="8.86" height="2.975" fill="#e3f1ef"/>
<rect x="130.3" y="879.00" width="8.86" height="2.975" fill="#e3f1ef"/>
<rect x="139.2" y="879.00" width="8.86" height="2.975" fill="#e3f1ef"/>
<rect x="148.1" y="879.00" width="8.86" height="2.975" fill="#e3f1ef"/>
<rect x="156.9" y="879.00" width="8.86" height="2.975" fill="#fcf5be"/>
<rect x="165.8" y="879.00" width="8.86" height="2.975" fill="#e3f1ef"/>
<rect x="174.6" y="879.00" width="8.86" height="2.975" fill="#fcf5be"/>
<rect x="183.5" y="879.00" width="8.86" height="2.975" fill="#fde396"/>
<rect x="192.4" y="879.00" width="8.86" height="2.975" fill="#fcf5be"/>
<rect x="201.2" y="879.00" width="8.86" height="2.975" fill="#f5925a"/>
<rect x="210.1" y="879.00" width="8.86" height="2.975" fill="#e3f1ef"/>
<rect x="218.9" y="879.00" width="8.86" height="2.975" fill="#fcf5be"/>
<rect x="227.8" y="879.00" width="8.86" height="2.975" fill="#f5925a"/>
<rect x="236.7" y="879.00" width="8.86" height="2.975" fill="#e3f1ef"/>
<rect x="245.5" y="879.00" width="8.86" height="2.975" fill="#fcf5be"/>
<rect x="254.4" y="879.00" width="8.86" height="2.975" fill="#e3f1ef"/>
<rect x="50.6" y="881.98" width="8.86" height="2.975" fill="#e3f1ef"/>
<rect x="59.5" y="881.98" width="8.86" height="2.975" fill="#e3f1ef"/>
<rect x="68.3" y="881.98" width="8.86" height="2.975" fill="#e3f1ef"/>
<rect x="77.2" y="881.98" width="8.86" height="2.975" fill="#e3f1ef"/>
<rect x="86.0" y="881.98" width="8.86" height="2.975" fill="#fcf5be"/>
<rect x="94.9" y="881.98" width="8.86" height="2.975" fill="#f5925a"/>
<rect x="103.8" y="881.98" width="8.86" height="2.975" fill="#fcf5be"/>
<rect x="112.6" y="881.98" width="8.86" height="2.975" fill="#e3f1ef"/>
<rect x="121.5" y="881.98" width="8.86" height="2.975" fill="#e3f1ef"/>
<rect x="130.3" y="881.98" width="8.86" height="2.975" fill="#e3f1ef"/>
<rect x="139.2" y="881.98" width="8.86" height="2.975" fill="#e3f1ef"/>
<rect x="148.1" y="881.98" width="8.86" height="2.975" fill="#e3f1ef"/>
<rect x="156.9" y="881.98" width="8.86" height="2.975" fill="#e3f1ef"/>
<rect x="165.8" y="881.98" width="8.86" height="2.975" fill="#e3f1ef"/>
<rect x="174.6" y="881.98" width="8.86" height="2.975" fill="#fcc57c"/>
<rect x="183.5" y="881.98" width="8.86" height="2.975" fill="#fcf5be"/>
<rect x="192.4" y="881.98" width="8.86" height="2.975" fill="#fcf5be"/>
<rect x="201.2" y="881.98" width="8.86" height="2.975" fill="#fcf5be"/>
<rect x="210.1" y="881.98" width="8.86" height="2.975" fill="#e3f1ef"/>
<rect x="218.9" y="881.98" width="8.86" height="2.975" fill="#fcf5be"/>
<rect x="227.8" y="881.98" width="8.86" height="2.975" fill="#fcc57c"/>
<rect x="236.7" y="881.98" width="8.86" height="2.975" fill="#e3f1ef"/>
<rect x="245.5" y="881.98" width="8.86" height="2.975" fill="#e3f1ef"/>
<rect x="254.4" y="881.98" width="8.86" height="2.975" fill="#fcf5be"/>
</g>
<rect x="50.60" y="629.00" width="8.86" height="8.60" fill="#a9b9c7" stroke="#8a8a8a" stroke-width="0.35" rx="0"/>
<rect x="59.46" y="629.00" width="8.86" height="8.60" fill="#6d4a5a" stroke="#8a8a8a" stroke-width="0.35" rx="0"/>
<rect x="68.32" y="629.00" width="8.86" height="8.60" fill="#a9b9c7" stroke="#8a8a8a" stroke-width="0.35" rx="0"/>
<rect x="77.18" y="629.00" width="8.86" height="8.60" fill="#a9b9c7" stroke="#8a8a8a" stroke-width="0.35" rx="0"/>
<rect x="86.04" y="629.00" width="8.86" height="8.60" fill="#a9b9c7" stroke="#8a8a8a" stroke-width="0.35" rx="0"/>
<rect x="94.90" y="629.00" width="8.86" height="8.60" fill="#a9b9c7" stroke="#8a8a8a" stroke-width="0.35" rx="0"/>
<rect x="103.76" y="629.00" width="8.86" height="8.60" fill="#a9b9c7" stroke="#8a8a8a" stroke-width="0.35" rx="0"/>
<rect x="112.62" y="629.00" width="8.86" height="8.60" fill="#5a7db2" stroke="#8a8a8a" stroke-width="0.35" rx="0"/>
<rect x="121.48" y="629.00" width="8.86" height="8.60" fill="#5a7db2" stroke="#8a8a8a" stroke-width="0.35" rx="0"/>
<rect x="130.34" y="629.00" width="8.86" height="8.60" fill="#5a7db2" stroke="#8a8a8a" stroke-width="0.35" rx="0"/>
<rect x="139.20" y="629.00" width="8.86" height="8.60" fill="#5a7db2" stroke="#8a8a8a" stroke-width="0.35" rx="0"/>
<rect x="148.06" y="629.00" width="8.86" height="8.60" fill="#5a7db2" stroke="#8a8a8a" stroke-width="0.35" rx="0"/>
<rect x="156.92" y="629.00" width="8.86" height="8.60" fill="#5a7db2" stroke="#8a8a8a" stroke-width="0.35" rx="0"/>
<rect x="165.78" y="629.00" width="8.86" height="8.60" fill="#c58a69" stroke="#8a8a8a" stroke-width="0.35" rx="0"/>
<rect x="174.64" y="629.00" width="8.86" height="8.60" fill="#c58a69" stroke="#8a8a8a" stroke-width="0.35" rx="0"/>
<rect x="183.50" y="629.00" width="8.86" height="8.60" fill="#c58a69" stroke="#8a8a8a" stroke-width="0.35" rx="0"/>
<rect x="192.36" y="629.00" width="8.86" height="8.60" fill="#c58a69" stroke="#8a8a8a" stroke-width="0.35" rx="0"/>
<rect x="201.22" y="629.00" width="8.86" height="8.60" fill="#c58a69" stroke="#8a8a8a" stroke-width="0.35" rx="0"/>
<rect x="210.08" y="629.00" width="8.86" height="8.60" fill="#c58a69" stroke="#8a8a8a" stroke-width="0.35" rx="0"/>
<rect x="218.94" y="629.00" width="8.86" height="8.60" fill="#6e4c5c" stroke="#8a8a8a" stroke-width="0.35" rx="0"/>
<rect x="227.80" y="629.00" width="8.86" height="8.60" fill="#6e4c5c" stroke="#8a8a8a" stroke-width="0.35" rx="0"/>
<rect x="236.66" y="629.00" width="8.86" height="8.60" fill="#6e4c5c" stroke="#8a8a8a" stroke-width="0.35" rx="0"/>
<rect x="245.52" y="629.00" width="8.86" height="8.60" fill="#6e4c5c" stroke="#8a8a8a" stroke-width="0.35" rx="0"/>
<rect x="254.38" y="629.00" width="8.86" height="8.60" fill="#6e4c5c" stroke="#8a8a8a" stroke-width="0.35" rx="0"/>
<rect x="45.20" y="641.00" width="4.00" height="2.98" fill="#d3def0" stroke="#a0a8b0" stroke-width="0.3" rx="0"/>
<rect x="45.20" y="643.98" width="4.00" height="2.98" fill="#d3def0" stroke="#a0a8b0" stroke-width="0.3" rx="0"/>
<rect x="45.20" y="646.95" width="4.00" height="2.98" fill="#7b9d95" stroke="#a0a8b0" stroke-width="0.3" rx="0"/>
<rect x="45.20" y="649.92" width="4.00" height="2.98" fill="#7b9d95" stroke="#a0a8b0" stroke-width="0.3" rx="0"/>
<rect x="45.20" y="652.90" width="4.00" height="2.98" fill="#d3def0" stroke="#a0a8b0" stroke-width="0.3" rx="0"/>
<rect x="45.20" y="655.88" width="4.00" height="2.98" fill="#d3def0" stroke="#a0a8b0" stroke-width="0.3" rx="0"/>
<rect x="45.20" y="658.85" width="4.00" height="2.98" fill="#d3def0" stroke="#a0a8b0" stroke-width="0.3" rx="0"/>
<rect x="45.20" y="661.83" width="4.00" height="2.98" fill="#d3def0" stroke="#a0a8b0" stroke-width="0.3" rx="0"/>
<rect x="45.20" y="664.80" width="4.00" height="2.98" fill="#7b9d95" stroke="#a0a8b0" stroke-width="0.3" rx="0"/>
<rect x="45.20" y="667.77" width="4.00" height="2.98" fill="#d3def0" stroke="#a0a8b0" stroke-width="0.3" rx="0"/>
<rect x="45.20" y="670.75" width="4.00" height="2.98" fill="#d3def0" stroke="#a0a8b0" stroke-width="0.3" rx="0"/>
<rect x="45.20" y="673.73" width="4.00" height="2.98" fill="#d3def0" stroke="#a0a8b0" stroke-width="0.3" rx="0"/>
<rect x="45.20" y="676.70" width="4.00" height="2.98" fill="#d3def0" stroke="#a0a8b0" stroke-width="0.3" rx="0"/>
<rect x="45.20" y="679.67" width="4.00" height="2.98" fill="#7b9d95" stroke="#a0a8b0" stroke-width="0.3" rx="0"/>
<rect x="45.20" y="682.65" width="4.00" height="2.98" fill="#7b9d95" stroke="#a0a8b0" stroke-width="0.3" rx="0"/>
<rect x="45.20" y="685.62" width="4.00" height="2.98" fill="#d3def0" stroke="#a0a8b0" stroke-width="0.3" rx="0"/>
<rect x="45.20" y="688.60" width="4.00" height="2.98" fill="#d3def0" stroke="#a0a8b0" stroke-width="0.3" rx="0"/>
<rect x="45.20" y="691.58" width="4.00" height="2.98" fill="#d3def0" stroke="#a0a8b0" stroke-width="0.3" rx="0"/>
<rect x="45.20" y="694.55" width="4.00" height="2.98" fill="#d3def0" stroke="#a0a8b0" stroke-width="0.3" rx="0"/>
<rect x="45.20" y="697.52" width="4.00" height="2.98" fill="#d3def0" stroke="#a0a8b0" stroke-width="0.3" rx="0"/>
<rect x="45.20" y="700.50" width="4.00" height="2.98" fill="#d3def0" stroke="#a0a8b0" stroke-width="0.3" rx="0"/>
<rect x="45.20" y="703.48" width="4.00" height="2.98" fill="#d3def0" stroke="#a0a8b0" stroke-width="0.3" rx="0"/>
<rect x="45.20" y="706.45" width="4.00" height="2.98" fill="#d3def0" stroke="#a0a8b0" stroke-width="0.3" rx="0"/>
<rect x="45.20" y="709.42" width="4.00" height="2.98" fill="#d3def0" stroke="#a0a8b0" stroke-width="0.3" rx="0"/>
<rect x="45.20" y="712.40" width="4.00" height="2.98" fill="#d3def0" stroke="#a0a8b0" stroke-width="0.3" rx="0"/>
<rect x="45.20" y="715.38" width="4.00" height="2.98" fill="#d3def0" stroke="#a0a8b0" stroke-width="0.3" rx="0"/>
<rect x="45.20" y="718.35" width="4.00" height="2.98" fill="#d3def0" stroke="#a0a8b0" stroke-width="0.3" rx="0"/>
<rect x="45.20" y="721.33" width="4.00" height="2.98" fill="#d3def0" stroke="#a0a8b0" stroke-width="0.3" rx="0"/>
<rect x="45.20" y="724.30" width="4.00" height="2.98" fill="#d3def0" stroke="#a0a8b0" stroke-width="0.3" rx="0"/>
<rect x="45.20" y="727.27" width="4.00" height="2.98" fill="#d3def0" stroke="#a0a8b0" stroke-width="0.3" rx="0"/>
<rect x="45.20" y="730.25" width="4.00" height="2.98" fill="#d3def0" stroke="#a0a8b0" stroke-width="0.3" rx="0"/>
<rect x="45.20" y="733.23" width="4.00" height="2.98" fill="#d3def0" stroke="#a0a8b0" stroke-width="0.3" rx="0"/>
<rect x="45.20" y="736.20" width="4.00" height="2.98" fill="#d3def0" stroke="#a0a8b0" stroke-width="0.3" rx="0"/>
<rect x="45.20" y="739.17" width="4.00" height="2.98" fill="#d3def0" stroke="#a0a8b0" stroke-width="0.3" rx="0"/>
<rect x="45.20" y="742.15" width="4.00" height="2.98" fill="#d3def0" stroke="#a0a8b0" stroke-width="0.3" rx="0"/>
<rect x="45.20" y="745.12" width="4.00" height="2.98" fill="#d3def0" stroke="#a0a8b0" stroke-width="0.3" rx="0"/>
<rect x="45.20" y="748.10" width="4.00" height="2.98" fill="#d3def0" stroke="#a0a8b0" stroke-width="0.3" rx="0"/>
<rect x="45.20" y="751.08" width="4.00" height="2.98" fill="#d3def0" stroke="#a0a8b0" stroke-width="0.3" rx="0"/>
<rect x="45.20" y="754.05" width="4.00" height="2.98" fill="#7b9d95" stroke="#a0a8b0" stroke-width="0.3" rx="0"/>
<rect x="45.20" y="757.02" width="4.00" height="2.98" fill="#7b9d95" stroke="#a0a8b0" stroke-width="0.3" rx="0"/>
<rect x="45.20" y="760.00" width="4.00" height="2.98" fill="#7b9d95" stroke="#a0a8b0" stroke-width="0.3" rx="0"/>
<rect x="45.20" y="762.98" width="4.00" height="2.98" fill="#7b9d95" stroke="#a0a8b0" stroke-width="0.3" rx="0"/>
<rect x="45.20" y="765.95" width="4.00" height="2.98" fill="#d3def0" stroke="#a0a8b0" stroke-width="0.3" rx="0"/>
<rect x="45.20" y="768.92" width="4.00" height="2.98" fill="#d3def0" stroke="#a0a8b0" stroke-width="0.3" rx="0"/>
<rect x="45.20" y="771.90" width="4.00" height="2.98" fill="#d3def0" stroke="#a0a8b0" stroke-width="0.3" rx="0"/>
<rect x="45.20" y="774.88" width="4.00" height="2.98" fill="#7b9d95" stroke="#a0a8b0" stroke-width="0.3" rx="0"/>
<rect x="45.20" y="777.85" width="4.00" height="2.98" fill="#7b9d95" stroke="#a0a8b0" stroke-width="0.3" rx="0"/>
<rect x="45.20" y="780.83" width="4.00" height="2.98" fill="#7b9d95" stroke="#a0a8b0" stroke-width="0.3" rx="0"/>
<rect x="45.20" y="783.80" width="4.00" height="2.98" fill="#d3def0" stroke="#a0a8b0" stroke-width="0.3" rx="0"/>
<rect x="45.20" y="786.77" width="4.00" height="2.98" fill="#7b9d95" stroke="#a0a8b0" stroke-width="0.3" rx="0"/>
<rect x="45.20" y="789.75" width="4.00" height="2.98" fill="#7b9d95" stroke="#a0a8b0" stroke-width="0.3" rx="0"/>
<rect x="45.20" y="792.73" width="4.00" height="2.98" fill="#d3def0" stroke="#a0a8b0" stroke-width="0.3" rx="0"/>
<rect x="45.20" y="795.70" width="4.00" height="2.98" fill="#d3def0" stroke="#a0a8b0" stroke-width="0.3" rx="0"/>
<rect x="45.20" y="798.67" width="4.00" height="2.98" fill="#d3def0" stroke="#a0a8b0" stroke-width="0.3" rx="0"/>
<rect x="45.20" y="801.65" width="4.00" height="2.98" fill="#7b9d95" stroke="#a0a8b0" stroke-width="0.3" rx="0"/>
<rect x="45.20" y="804.62" width="4.00" height="2.98" fill="#d3def0" stroke="#a0a8b0" stroke-width="0.3" rx="0"/>
<rect x="45.20" y="807.60" width="4.00" height="2.98" fill="#d3def0" stroke="#a0a8b0" stroke-width="0.3" rx="0"/>
<rect x="45.20" y="810.58" width="4.00" height="2.98" fill="#d3def0" stroke="#a0a8b0" stroke-width="0.3" rx="0"/>
<rect x="45.20" y="813.55" width="4.00" height="2.98" fill="#7b9d95" stroke="#a0a8b0" stroke-width="0.3" rx="0"/>
<rect x="45.20" y="816.52" width="4.00" height="2.98" fill="#d3def0" stroke="#a0a8b0" stroke-width="0.3" rx="0"/>
<rect x="45.20" y="819.50" width="4.00" height="2.98" fill="#d3def0" stroke="#a0a8b0" stroke-width="0.3" rx="0"/>
<rect x="45.20" y="822.48" width="4.00" height="2.98" fill="#d3def0" stroke="#a0a8b0" stroke-width="0.3" rx="0"/>
<rect x="45.20" y="825.45" width="4.00" height="2.98" fill="#7b9d95" stroke="#a0a8b0" stroke-width="0.3" rx="0"/>
<rect x="45.20" y="828.42" width="4.00" height="2.98" fill="#d3def0" stroke="#a0a8b0" stroke-width="0.3" rx="0"/>
<rect x="45.20" y="831.40" width="4.00" height="2.98" fill="#7b9d95" stroke="#a0a8b0" stroke-width="0.3" rx="0"/>
<rect x="45.20" y="834.38" width="4.00" height="2.98" fill="#d3def0" stroke="#a0a8b0" stroke-width="0.3" rx="0"/>
<rect x="45.20" y="837.35" width="4.00" height="2.98" fill="#d3def0" stroke="#a0a8b0" stroke-width="0.3" rx="0"/>
<rect x="45.20" y="840.33" width="4.00" height="2.98" fill="#7b9d95" stroke="#a0a8b0" stroke-width="0.3" rx="0"/>
<rect x="45.20" y="843.30" width="4.00" height="2.98" fill="#7b9d95" stroke="#a0a8b0" stroke-width="0.3" rx="0"/>
<rect x="45.20" y="846.27" width="4.00" height="2.98" fill="#7b9d95" stroke="#a0a8b0" stroke-width="0.3" rx="0"/>
<rect x="45.20" y="849.25" width="4.00" height="2.98" fill="#d3def0" stroke="#a0a8b0" stroke-width="0.3" rx="0"/>
<rect x="45.20" y="852.23" width="4.00" height="2.98" fill="#d3def0" stroke="#a0a8b0" stroke-width="0.3" rx="0"/>
<rect x="45.20" y="855.20" width="4.00" height="2.98" fill="#d3def0" stroke="#a0a8b0" stroke-width="0.3" rx="0"/>
<rect x="45.20" y="858.17" width="4.00" height="2.98" fill="#d3def0" stroke="#a0a8b0" stroke-width="0.3" rx="0"/>
<rect x="45.20" y="861.15" width="4.00" height="2.98" fill="#7b9d95" stroke="#a0a8b0" stroke-width="0.3" rx="0"/>
<rect x="45.20" y="864.12" width="4.00" height="2.98" fill="#d3def0" stroke="#a0a8b0" stroke-width="0.3" rx="0"/>
<rect x="45.20" y="867.10" width="4.00" height="2.98" fill="#d3def0" stroke="#a0a8b0" stroke-width="0.3" rx="0"/>
<rect x="45.20" y="870.08" width="4.00" height="2.98" fill="#d3def0" stroke="#a0a8b0" stroke-width="0.3" rx="0"/>
<rect x="45.20" y="873.05" width="4.00" height="2.98" fill="#d3def0" stroke="#a0a8b0" stroke-width="0.3" rx="0"/>
<rect x="45.20" y="876.02" width="4.00" height="2.98" fill="#d3def0" stroke="#a0a8b0" stroke-width="0.3" rx="0"/>
<rect x="45.20" y="879.00" width="4.00" height="2.98" fill="#d3def0" stroke="#a0a8b0" stroke-width="0.3" rx="0"/>
<rect x="45.20" y="881.98" width="4.00" height="2.98" fill="#7b9d95" stroke="#a0a8b0" stroke-width="0.3" rx="0"/>
<polyline points="72.75,628.60 72.75,620.50 81.61,620.50 81.61,628.60" fill="none" stroke="#333" stroke-width="0.6" stroke-linejoin="round"/>
<polyline points="77.18,620.50 77.18,618.50 90.47,618.50 90.47,628.60" fill="none" stroke="#333" stroke-width="0.6" stroke-linejoin="round"/>
<polyline points="63.89,628.60 63.89,616.50 83.83,616.50 83.83,618.50" fill="none" stroke="#333" stroke-width="0.6" stroke-linejoin="round"/>
<polyline points="99.33,628.60 99.33,617.50 108.19,617.50 108.19,628.60" fill="none" stroke="#333" stroke-width="0.6" stroke-linejoin="round"/>
<polyline points="73.86,616.50 73.86,614.50 103.76,614.50 103.76,617.50" fill="none" stroke="#333" stroke-width="0.6" stroke-linejoin="round"/>
<polyline points="55.03,628.60 55.03,612.00 88.81,612.00 88.81,614.50" fill="none" stroke="#333" stroke-width="0.6" stroke-linejoin="round"/>
<polyline points="134.77,628.60 134.77,620.00 143.63,620.00 143.63,628.60" fill="none" stroke="#333" stroke-width="0.6" stroke-linejoin="round"/>
<polyline points="125.91,628.60 125.91,617.50 139.20,617.50 139.20,620.00" fill="none" stroke="#333" stroke-width="0.6" stroke-linejoin="round"/>
<polyline points="117.05,628.60 117.05,615.00 132.56,615.00 132.56,617.50" fill="none" stroke="#333" stroke-width="0.6" stroke-linejoin="round"/>
<polyline points="152.49,628.60 152.49,619.00 161.35,619.00 161.35,628.60" fill="none" stroke="#333" stroke-width="0.6" stroke-linejoin="round"/>
<polyline points="124.80,615.00 124.80,611.60 156.92,611.60 156.92,619.00" fill="none" stroke="#333" stroke-width="0.6" stroke-linejoin="round"/>
<polyline points="179.07,628.60 179.07,618.80 187.93,618.80 187.93,628.60" fill="none" stroke="#333" stroke-width="0.6" stroke-linejoin="round"/>
<polyline points="196.79,628.60 196.79,619.50 205.65,619.50 205.65,628.60" fill="none" stroke="#333" stroke-width="0.6" stroke-linejoin="round"/>
<polyline points="201.22,619.50 201.22,617.50 214.51,617.50 214.51,628.60" fill="none" stroke="#333" stroke-width="0.6" stroke-linejoin="round"/>
<polyline points="183.50,618.80 183.50,615.50 207.86,615.50 207.86,617.50" fill="none" stroke="#333" stroke-width="0.6" stroke-linejoin="round"/>
<polyline points="170.21,628.60 170.21,614.40 195.68,614.40 195.68,615.50" fill="none" stroke="#333" stroke-width="0.6" stroke-linejoin="round"/>
<polyline points="223.37,628.60 223.37,616.50 232.23,616.50 232.23,628.60" fill="none" stroke="#333" stroke-width="0.6" stroke-linejoin="round"/>
<polyline points="249.95,628.60 249.95,619.50 258.81,619.50 258.81,628.60" fill="none" stroke="#333" stroke-width="0.6" stroke-linejoin="round"/>
<polyline points="241.09,628.60 241.09,617.50 254.38,617.50 254.38,619.50" fill="none" stroke="#333" stroke-width="0.6" stroke-linejoin="round"/>
<polyline points="227.80,616.50 227.80,613.30 247.73,613.30 247.73,617.50" fill="none" stroke="#333" stroke-width="0.6" stroke-linejoin="round"/>
<polyline points="182.95,614.40 182.95,610.70 237.77,610.70 237.77,613.30" fill="none" stroke="#333" stroke-width="0.6" stroke-linejoin="round"/>
<polyline points="140.86,611.60 140.86,608.50 210.36,608.50 210.36,610.70" fill="none" stroke="#333" stroke-width="0.6" stroke-linejoin="round"/>
<polyline points="71.92,612.00 71.92,606.00 175.61,606.00 175.61,608.50" fill="none" stroke="#333" stroke-width="0.6" stroke-linejoin="round"/>
<text x="135.50" y="603.20" font-size="10.07" fill="#222" textLength="35.3" lengthAdjust="spacingAndGlyphs">samples</text>
<polyline points="44.80,645.46 36.44,645.46 36.44,648.44 44.80,648.44" fill="none" stroke="#333" stroke-width="0.6" stroke-linejoin="round"/>
<polyline points="44.80,642.49 32.81,642.49 32.81,646.95 36.44,646.95" fill="none" stroke="#333" stroke-width="0.6" stroke-linejoin="round"/>
<polyline points="32.81,644.72 31.93,644.72 31.93,651.41 44.80,651.41" fill="none" stroke="#333" stroke-width="0.6" stroke-linejoin="round"/>
<polyline points="44.80,657.36 36.25,657.36 36.25,660.34 44.80,660.34" fill="none" stroke="#333" stroke-width="0.6" stroke-linejoin="round"/>
<polyline points="44.80,654.39 32.86,654.39 32.86,658.85 36.25,658.85" fill="none" stroke="#333" stroke-width="0.6" stroke-linejoin="round"/>
<polyline points="31.93,648.07 30.54,648.07 30.54,656.62 32.86,656.62" fill="none" stroke="#333" stroke-width="0.6" stroke-linejoin="round"/>
<polyline points="44.80,663.31 35.24,663.31 35.24,666.29 44.80,666.29" fill="none" stroke="#333" stroke-width="0.6" stroke-linejoin="round"/>
<polyline points="35.24,664.80 34.44,664.80 34.44,669.26 44.80,669.26" fill="none" stroke="#333" stroke-width="0.6" stroke-linejoin="round"/>
<polyline points="30.54,652.34 28.05,652.34 28.05,667.03 34.44,667.03" fill="none" stroke="#333" stroke-width="0.6" stroke-linejoin="round"/>
<polyline points="44.80,672.24 35.20,672.24 35.20,675.21 44.80,675.21" fill="none" stroke="#333" stroke-width="0.6" stroke-linejoin="round"/>
<polyline points="35.20,673.72 32.85,673.72 32.85,678.19 44.80,678.19" fill="none" stroke="#333" stroke-width="0.6" stroke-linejoin="round"/>
<polyline points="44.80,684.14 34.68,684.14 34.68,687.11 44.80,687.11" fill="none" stroke="#333" stroke-width="0.6" stroke-linejoin="round"/>
<polyline points="44.80,681.16 33.88,681.16 33.88,685.62 34.68,685.62" fill="none" stroke="#333" stroke-width="0.6" stroke-linejoin="round"/>
<polyline points="32.85,675.96 31.62,675.96 31.62,683.39 33.88,683.39" fill="none" stroke="#333" stroke-width="0.6" stroke-linejoin="round"/>
<polyline points="28.05,659.69 27.25,659.69 27.25,679.67 31.62,679.67" fill="none" stroke="#333" stroke-width="0.6" stroke-linejoin="round"/>
<polyline points="44.80,690.09 36.62,690.09 36.62,693.06 44.80,693.06" fill="none" stroke="#333" stroke-width="0.6" stroke-linejoin="round"/>
<polyline points="44.80,696.04 36.83,696.04 36.83,699.01 44.80,699.01" fill="none" stroke="#333" stroke-width="0.6" stroke-linejoin="round"/>
<polyline points="36.83,697.53 34.58,697.53 34.58,701.99 44.80,701.99" fill="none" stroke="#333" stroke-width="0.6" stroke-linejoin="round"/>
<polyline points="36.62,691.58 31.73,691.58 31.73,699.76 34.58,699.76" fill="none" stroke="#333" stroke-width="0.6" stroke-linejoin="round"/>
<polyline points="44.80,707.94 36.99,707.94 36.99,710.91 44.80,710.91" fill="none" stroke="#333" stroke-width="0.6" stroke-linejoin="round"/>
<polyline points="44.80,704.96 33.60,704.96 33.60,709.42 36.99,709.42" fill="none" stroke="#333" stroke-width="0.6" stroke-linejoin="round"/>
<polyline points="44.80,713.89 36.12,713.89 36.12,716.86 44.80,716.86" fill="none" stroke="#333" stroke-width="0.6" stroke-linejoin="round"/>
<polyline points="33.60,707.19 32.49,707.19 32.49,715.38 36.12,715.38" fill="none" stroke="#333" stroke-width="0.6" stroke-linejoin="round"/>
<polyline points="31.73,695.67 28.37,695.67 28.37,711.28 32.49,711.28" fill="none" stroke="#333" stroke-width="0.6" stroke-linejoin="round"/>
<polyline points="27.25,669.68 25.39,669.68 25.39,703.48 28.37,703.48" fill="none" stroke="#333" stroke-width="0.6" stroke-linejoin="round"/>
<polyline points="44.80,719.84 36.18,719.84 36.18,722.81 44.80,722.81" fill="none" stroke="#333" stroke-width="0.6" stroke-linejoin="round"/>
<polyline points="36.18,721.33 34.11,721.33 34.11,725.79 44.80,725.79" fill="none" stroke="#333" stroke-width="0.6" stroke-linejoin="round"/>
<polyline points="34.11,723.56 32.37,723.56 32.37,728.76 44.80,728.76" fill="none" stroke="#333" stroke-width="0.6" stroke-linejoin="round"/>
<polyline points="44.80,731.74 36.85,731.74 36.85,734.71 44.80,734.71" fill="none" stroke="#333" stroke-width="0.6" stroke-linejoin="round"/>
<polyline points="44.80,737.69 34.46,737.69 34.46,740.66 44.80,740.66" fill="none" stroke="#333" stroke-width="0.6" stroke-linejoin="round"/>
<polyline points="34.46,739.17 33.66,739.17 33.66,743.64 44.80,743.64" fill="none" stroke="#333" stroke-width="0.6" stroke-linejoin="round"/>
<polyline points="36.85,733.22 31.35,733.22 31.35,741.41 33.66,741.41" fill="none" stroke="#333" stroke-width="0.6" stroke-linejoin="round"/>
<polyline points="32.37,726.16 28.73,726.16 28.73,737.32 31.35,737.32" fill="none" stroke="#333" stroke-width="0.6" stroke-linejoin="round"/>
<polyline points="44.80,749.59 36.95,749.59 36.95,752.56 44.80,752.56" fill="none" stroke="#333" stroke-width="0.6" stroke-linejoin="round"/>
<polyline points="44.80,746.61 33.31,746.61 33.31,751.08 36.95,751.08" fill="none" stroke="#333" stroke-width="0.6" stroke-linejoin="round"/>
<polyline points="44.80,755.54 36.05,755.54 36.05,758.51 44.80,758.51" fill="none" stroke="#333" stroke-width="0.6" stroke-linejoin="round"/>
<polyline points="33.31,748.84 31.79,748.84 31.79,757.03 36.05,757.03" fill="none" stroke="#333" stroke-width="0.6" stroke-linejoin="round"/>
<polyline points="44.80,761.49 36.98,761.49 36.98,764.46 44.80,764.46" fill="none" stroke="#333" stroke-width="0.6" stroke-linejoin="round"/>
<polyline points="44.80,767.44 36.88,767.44 36.88,770.41 44.80,770.41" fill="none" stroke="#333" stroke-width="0.6" stroke-linejoin="round"/>
<polyline points="44.80,773.39 36.53,773.39 36.53,776.36 44.80,776.36" fill="none" stroke="#333" stroke-width="0.6" stroke-linejoin="round"/>
<polyline points="36.88,768.92 31.72,768.92 31.72,774.88 36.53,774.88" fill="none" stroke="#333" stroke-width="0.6" stroke-linejoin="round"/>
<polyline points="44.80,779.34 36.49,779.34 36.49,782.31 44.80,782.31" fill="none" stroke="#333" stroke-width="0.6" stroke-linejoin="round"/>
<polyline points="31.72,771.90 30.60,771.90 30.60,780.83 36.49,780.83" fill="none" stroke="#333" stroke-width="0.6" stroke-linejoin="round"/>
<polyline points="36.98,762.97 28.98,762.97 28.98,776.36 30.60,776.36" fill="none" stroke="#333" stroke-width="0.6" stroke-linejoin="round"/>
<polyline points="31.79,752.93 26.99,752.93 26.99,769.67 28.98,769.67" fill="none" stroke="#333" stroke-width="0.6" stroke-linejoin="round"/>
<polyline points="28.73,731.74 26.19,731.74 26.19,761.30 26.99,761.30" fill="none" stroke="#333" stroke-width="0.6" stroke-linejoin="round"/>
<polyline points="25.39,686.58 23.24,686.58 23.24,746.52 26.19,746.52" fill="none" stroke="#333" stroke-width="0.6" stroke-linejoin="round"/>
<polyline points="44.80,785.29 35.41,785.29 35.41,788.26 44.80,788.26" fill="none" stroke="#ee7a6a" stroke-width="0.6" stroke-linejoin="round"/>
<polyline points="44.80,794.21 36.21,794.21 36.21,797.19 44.80,797.19" fill="none" stroke="#ee7a6a" stroke-width="0.6" stroke-linejoin="round"/>
<polyline points="44.80,791.24 34.27,791.24 34.27,795.70 36.21,795.70" fill="none" stroke="#ee7a6a" stroke-width="0.6" stroke-linejoin="round"/>
<polyline points="44.80,800.16 36.71,800.16 36.71,803.14 44.80,803.14" fill="none" stroke="#ee7a6a" stroke-width="0.6" stroke-linejoin="round"/>
<polyline points="34.27,793.47 32.43,793.47 32.43,801.65 36.71,801.65" fill="none" stroke="#ee7a6a" stroke-width="0.6" stroke-linejoin="round"/>
<polyline points="35.41,786.78 31.63,786.78 31.63,797.56 32.43,797.56" fill="none" stroke="#ee7a6a" stroke-width="0.6" stroke-linejoin="round"/>
<polyline points="44.80,809.09 36.93,809.09 36.93,812.06 44.80,812.06" fill="none" stroke="#ee7a6a" stroke-width="0.6" stroke-linejoin="round"/>
<polyline points="44.80,806.11 34.50,806.11 34.50,810.58 36.93,810.58" fill="none" stroke="#ee7a6a" stroke-width="0.6" stroke-linejoin="round"/>
<polyline points="44.80,815.04 35.89,815.04 35.89,818.01 44.80,818.01" fill="none" stroke="#ee7a6a" stroke-width="0.6" stroke-linejoin="round"/>
<polyline points="34.50,808.34 33.21,808.34 33.21,816.53 35.89,816.53" fill="none" stroke="#ee7a6a" stroke-width="0.6" stroke-linejoin="round"/>
<polyline points="44.80,820.99 37.41,820.99 37.41,823.96 44.80,823.96" fill="none" stroke="#ee7a6a" stroke-width="0.6" stroke-linejoin="round"/>
<polyline points="44.80,826.94 36.99,826.94 36.99,829.91 44.80,829.91" fill="none" stroke="#ee7a6a" stroke-width="0.6" stroke-linejoin="round"/>
<polyline points="37.41,822.47 34.55,822.47 34.55,828.42 36.99,828.42" fill="none" stroke="#ee7a6a" stroke-width="0.6" stroke-linejoin="round"/>
<polyline points="33.21,812.43 31.36,812.43 31.36,825.45 34.55,825.45" fill="none" stroke="#ee7a6a" stroke-width="0.6" stroke-linejoin="round"/>
<polyline points="31.63,792.17 27.96,792.17 27.96,818.94 31.36,818.94" fill="none" stroke="#ee7a6a" stroke-width="0.6" stroke-linejoin="round"/>
<polyline points="44.80,835.86 37.15,835.86 37.15,838.84 44.80,838.84" fill="none" stroke="#ee7a6a" stroke-width="0.6" stroke-linejoin="round"/>
<polyline points="44.80,832.89 34.00,832.89 34.00,837.35 37.15,837.35" fill="none" stroke="#ee7a6a" stroke-width="0.6" stroke-linejoin="round"/>
<polyline points="44.80,841.81 35.52,841.81 35.52,844.79 44.80,844.79" fill="none" stroke="#ee7a6a" stroke-width="0.6" stroke-linejoin="round"/>
<polyline points="44.80,847.76 37.49,847.76 37.49,850.74 44.80,850.74" fill="none" stroke="#ee7a6a" stroke-width="0.6" stroke-linejoin="round"/>
<polyline points="35.52,843.30 34.14,843.30 34.14,849.25 37.49,849.25" fill="none" stroke="#ee7a6a" stroke-width="0.6" stroke-linejoin="round"/>
<polyline points="44.80,853.71 36.45,853.71 36.45,856.69 44.80,856.69" fill="none" stroke="#ee7a6a" stroke-width="0.6" stroke-linejoin="round"/>
<polyline points="36.45,855.20 35.65,855.20 35.65,859.66 44.80,859.66" fill="none" stroke="#ee7a6a" stroke-width="0.6" stroke-linejoin="round"/>
<polyline points="34.14,846.27 31.95,846.27 31.95,857.43 35.65,857.43" fill="none" stroke="#ee7a6a" stroke-width="0.6" stroke-linejoin="round"/>
<polyline points="34.00,835.12 29.47,835.12 29.47,851.85 31.95,851.85" fill="none" stroke="#ee7a6a" stroke-width="0.6" stroke-linejoin="round"/>
<polyline points="44.80,865.61 37.36,865.61 37.36,868.59 44.80,868.59" fill="none" stroke="#ee7a6a" stroke-width="0.6" stroke-linejoin="round"/>
<polyline points="44.80,862.64 34.69,862.64 34.69,867.10 37.36,867.10" fill="none" stroke="#ee7a6a" stroke-width="0.6" stroke-linejoin="round"/>
<polyline points="44.80,871.56 37.33,871.56 37.33,874.54 44.80,874.54" fill="none" stroke="#ee7a6a" stroke-width="0.6" stroke-linejoin="round"/>
<polyline points="44.80,877.51 36.24,877.51 36.24,880.49 44.80,880.49" fill="none" stroke="#ee7a6a" stroke-width="0.6" stroke-linejoin="round"/>
<polyline points="36.24,879.00 33.98,879.00 33.98,883.46 44.80,883.46" fill="none" stroke="#ee7a6a" stroke-width="0.6" stroke-linejoin="round"/>
<polyline points="37.33,873.05 33.18,873.05 33.18,881.23 33.98,881.23" fill="none" stroke="#ee7a6a" stroke-width="0.6" stroke-linejoin="round"/>
<polyline points="34.69,864.87 32.38,864.87 32.38,877.14 33.18,877.14" fill="none" stroke="#ee7a6a" stroke-width="0.6" stroke-linejoin="round"/>
<polyline points="29.47,843.49 28.67,843.49 28.67,871.00 32.38,871.00" fill="none" stroke="#ee7a6a" stroke-width="0.6" stroke-linejoin="round"/>
<polyline points="27.96,805.55 25.80,805.55 25.80,857.25 28.67,857.25" fill="none" stroke="#ee7a6a" stroke-width="0.6" stroke-linejoin="round"/>
<polyline points="23.24,716.55 21.74,716.55 21.74,831.40 25.80,831.40" fill="none" stroke="#333" stroke-width="0.6" stroke-linejoin="round"/>
<line x1="24.30" y1="785.00" x2="24.30" y2="889.40" stroke="#d84a3c" stroke-width="1.1"/>
<line x1="24.30" y1="889.40" x2="48.60" y2="889.40" stroke="#d84a3c" stroke-width="1.1"/>
<line x1="24.30" y1="785.00" x2="42.00" y2="785.00" stroke="#d84a3c" stroke-width="1.1"/>
<text x="15.20" y="749.30" font-size="10.18" fill="#222" text-anchor="middle" textLength="78.5" lengthAdjust="spacingAndGlyphs" transform="rotate(-90 15.20 749.30)">Consensus model</text>
<defs><linearGradient id="sg" x1="0" x2="1" y1="0" y2="0"><stop offset="0.0" stop-color="#d73027"/><stop offset="0.17" stop-color="#f46d43"/><stop offset="0.33" stop-color="#fdae61"/><stop offset="0.5" stop-color="#fee090"/><stop offset="0.62" stop-color="#fffac4"/><stop offset="0.75" stop-color="#e0f3f8"/><stop offset="0.87" stop-color="#abd9e9"/><stop offset="1.0" stop-color="#4575b4"/></linearGradient></defs>
<rect x="33.20" y="903.50" width="88.00" height="6.00" fill="url(#sg)" stroke="none" stroke-width="0" rx="0"/>
<text x="47.00" y="900.70" font-size="9.54" fill="#333" textLength="56.2" lengthAdjust="spacingAndGlyphs">scaled values</text>
<text x="35.00" y="916.80" font-size="9.54" fill="#333" textLength="16.8" lengthAdjust="spacingAndGlyphs">max</text>
<text x="104.30" y="916.80" font-size="9.54" fill="#333" textLength="14.0" lengthAdjust="spacingAndGlyphs">min</text>
<line x1="42.00" y1="785.30" x2="378.90" y2="785.30" stroke="#d84a3c" stroke-width="1.3"/>
<line x1="378.90" y1="544.50" x2="378.90" y2="785.50" stroke="#d84a3c" stroke-width="1.2"/>
<line x1="378.30" y1="544.50" x2="399.70" y2="544.50" stroke="#d84a3c" stroke-width="1.2"/>
<text x="408.50" y="544.50" font-size="10.18" fill="#333" textLength="41.6" lengthAdjust="spacingAndGlyphs">agressive</text>
<text x="408.50" y="557.00" font-size="10.18" fill="#333" textLength="25.61" lengthAdjust="spacingAndGlyphs">LUAD</text>
<text x="477.00" y="549.90" font-size="10.18" fill="#222" textLength="46" lengthAdjust="spacingAndGlyphs">SH activity</text>
<text x="486.30" y="569.00" font-size="10.18" fill="#222" textLength="30.4" lengthAdjust="spacingAndGlyphs">Protein</text>
<rect x="525.30" y="542.00" width="16.90" height="11.40" fill="#76998f" stroke="none" stroke-width="0" rx="0"/>
<rect x="526.70" y="560.10" width="16.70" height="8.90" fill="#d6e4f4" stroke="none" stroke-width="0" rx="0"/>
<polygon points="553.70,548.30 552.58,545.44 549.52,545.26 551.89,543.31 551.11,540.34 553.70,542.00 556.29,540.34 555.51,543.31 557.88,545.26 554.82,545.44" fill="#e2712a" stroke="#a9521b" stroke-width="0.4"/>
<text x="558.50" y="546.90" font-size="10.39" fill="#222" textLength="126.4" lengthAdjust="spacingAndGlyphs">S-palm-proteins (SwissPalm)</text>
<polygon points="560.20,553.80 566.26,557.30 566.26,564.30 560.20,567.80 554.14,564.30 554.14,557.30" fill="#a7cbd9" stroke="#56707e" stroke-width="0.6"/>
<text x="572.50" y="564.20" font-size="10.18" fill="#222" textLength="18.14" lengthAdjust="spacingAndGlyphs">mito</text>
<polygon points="556.40,582.10 564.00,582.10 560.20,571.90" fill="#f3e51d" stroke="#8f8420" stroke-width="0.5"/>
<text x="569.90" y="581.80" font-size="10.18" fill="#222" textLength="16.54" lengthAdjust="spacingAndGlyphs">FAs</text>
<line x1="397.40" y1="587.00" x2="397.40" y2="599.40" stroke="#444" stroke-width="0.7"/>
<line x1="443.90" y1="587.00" x2="443.90" y2="599.40" stroke="#444" stroke-width="0.7"/>
<text x="399.00" y="595.90" font-size="10.18" fill="#333" textLength="43.3" lengthAdjust="spacingAndGlyphs">Cor.&gt;=0.3</text>
<line x1="404.60" y1="612.20" x2="421.40" y2="612.20" stroke="#e88a80" stroke-width="1.0"/>
<text x="425.40" y="616.00" font-size="10.18" fill="#222" textLength="91.3" lengthAdjust="spacingAndGlyphs">reduced co-depletion</text>
<line x1="404.60" y1="625.80" x2="421.40" y2="625.80" stroke="#7fb0d6" stroke-width="1.0"/>
<text x="427.20" y="629.30" font-size="10.18" fill="#222" textLength="98.1" lengthAdjust="spacingAndGlyphs">increased co-depletion</text>
<g stroke-width="0.95" stroke-opacity="0.95">
<line x1="557.30" y1="681.15" x2="563.65" y2="643.35" stroke="#eb9084" stroke-width="1.1"/>
<line x1="557.30" y1="681.15" x2="612.60" y2="658.55" stroke="#eb9084" stroke-width="1.1"/>
<line x1="557.30" y1="681.15" x2="514.20" y2="654.50" stroke="#eb9084" stroke-width="1.1"/>
<line x1="557.30" y1="681.15" x2="446.00" y2="702.85" stroke="#eb9084" stroke-width="1.1"/>
<line x1="557.30" y1="681.15" x2="514.65" y2="705.60" stroke="#eb9084" stroke-width="1.1"/>
<line x1="557.30" y1="681.15" x2="429.70" y2="740.30" stroke="#eb9084" stroke-width="1.1"/>
<line x1="557.30" y1="681.15" x2="468.25" y2="750.10" stroke="#eb9084" stroke-width="1.1"/>
<line x1="556.00" y1="707.35" x2="563.65" y2="643.35" stroke="#eb9084" stroke-width="1.1"/>
<line x1="556.00" y1="707.35" x2="630.25" y2="690.95" stroke="#eb9084" stroke-width="1.1"/>
<line x1="556.00" y1="707.35" x2="446.00" y2="702.85" stroke="#eb9084" stroke-width="1.1"/>
<line x1="556.00" y1="707.35" x2="627.20" y2="726.25" stroke="#eb9084" stroke-width="1.1"/>
<line x1="556.00" y1="707.35" x2="590.30" y2="761.85" stroke="#eb9084" stroke-width="1.1"/>
<line x1="556.00" y1="707.35" x2="514.65" y2="705.60" stroke="#eb9084" stroke-width="1.1"/>
<line x1="556.00" y1="707.35" x2="518.35" y2="731.40" stroke="#eb9084" stroke-width="1.1"/>
<line x1="556.00" y1="707.35" x2="429.70" y2="740.30" stroke="#eb9084" stroke-width="1.1"/>
<line x1="556.00" y1="707.35" x2="468.25" y2="750.10" stroke="#eb9084" stroke-width="1.1"/>
<line x1="556.00" y1="707.35" x2="579.30" y2="793.40" stroke="#eb9084" stroke-width="1.1"/>
<line x1="556.00" y1="707.35" x2="514.20" y2="654.50" stroke="#eb9084" stroke-width="1.1"/>
<line x1="556.00" y1="707.35" x2="495.20" y2="769.05" stroke="#eb9084" stroke-width="1.1"/>
<line x1="567.35" y1="729.85" x2="446.00" y2="702.85" stroke="#eb9084" stroke-width="1.1"/>
<line x1="567.35" y1="729.85" x2="627.20" y2="726.25" stroke="#eb9084" stroke-width="1.1"/>
<line x1="567.35" y1="729.85" x2="629.45" y2="756.05" stroke="#eb9084" stroke-width="1.1"/>
<line x1="567.35" y1="729.85" x2="590.30" y2="761.85" stroke="#eb9084" stroke-width="1.1"/>
<line x1="567.35" y1="729.85" x2="579.30" y2="793.40" stroke="#eb9084" stroke-width="1.1"/>
<line x1="567.35" y1="729.85" x2="514.65" y2="705.60" stroke="#eb9084" stroke-width="1.1"/>
<line x1="567.35" y1="729.85" x2="468.25" y2="750.10" stroke="#eb9084" stroke-width="1.1"/>
<line x1="567.35" y1="729.85" x2="429.70" y2="740.30" stroke="#eb9084" stroke-width="1.1"/>
<line x1="567.35" y1="729.85" x2="630.25" y2="690.95" stroke="#eb9084" stroke-width="1.1"/>
<line x1="567.35" y1="729.85" x2="518.35" y2="731.40" stroke="#eb9084" stroke-width="1.1"/>
<line x1="567.35" y1="729.85" x2="508.20" y2="792.00" stroke="#eb9084" stroke-width="1.1"/>
<line x1="567.35" y1="729.85" x2="450.00" y2="657.90" stroke="#eb9084" stroke-width="1.1"/>
<line x1="468.25" y1="750.10" x2="446.00" y2="702.85" stroke="#eb9084" stroke-width="1.1"/>
<line x1="468.25" y1="750.10" x2="450.00" y2="657.90" stroke="#eb9084" stroke-width="1.1"/>
<line x1="468.25" y1="750.10" x2="441.70" y2="791.30" stroke="#eb9084" stroke-width="1.1"/>
<line x1="468.25" y1="750.10" x2="418.05" y2="765.35" stroke="#eb9084" stroke-width="1.1"/>
<line x1="468.25" y1="750.10" x2="514.65" y2="705.60" stroke="#eb9084" stroke-width="1.1"/>
<line x1="468.25" y1="750.10" x2="518.35" y2="731.40" stroke="#eb9084" stroke-width="1.1"/>
<line x1="468.25" y1="750.10" x2="514.20" y2="654.50" stroke="#eb9084" stroke-width="1.1"/>
<line x1="468.25" y1="750.10" x2="590.30" y2="761.85" stroke="#eb9084" stroke-width="1.1"/>
<line x1="429.70" y1="740.30" x2="446.00" y2="702.85" stroke="#eb9084" stroke-width="1.1"/>
<line x1="429.70" y1="740.30" x2="418.05" y2="765.35" stroke="#eb9084" stroke-width="1.1"/>
<line x1="429.70" y1="740.30" x2="441.70" y2="791.30" stroke="#eb9084" stroke-width="1.1"/>
<line x1="429.70" y1="740.30" x2="514.65" y2="705.60" stroke="#eb9084" stroke-width="1.1"/>
<line x1="429.70" y1="740.30" x2="514.20" y2="654.50" stroke="#eb9084" stroke-width="1.1"/>
<line x1="541.95" y1="757.45" x2="446.00" y2="702.85" stroke="#eb9084" stroke-width="1.1"/>
<line x1="541.95" y1="757.45" x2="590.30" y2="761.85" stroke="#eb9084" stroke-width="1.1"/>
<line x1="541.95" y1="757.45" x2="579.30" y2="793.40" stroke="#eb9084" stroke-width="1.1"/>
<line x1="541.95" y1="757.45" x2="514.65" y2="705.60" stroke="#eb9084" stroke-width="1.1"/>
<line x1="541.95" y1="757.45" x2="518.35" y2="731.40" stroke="#eb9084" stroke-width="1.1"/>
<line x1="541.95" y1="757.45" x2="629.45" y2="756.05" stroke="#eb9084" stroke-width="1.1"/>
<line x1="541.95" y1="757.45" x2="630.25" y2="690.95" stroke="#eb9084" stroke-width="1.1"/>
<line x1="495.20" y1="769.05" x2="446.00" y2="702.85" stroke="#eb9084" stroke-width="1.1"/>
<line x1="495.20" y1="769.05" x2="441.70" y2="791.30" stroke="#eb9084" stroke-width="1.1"/>
<line x1="495.20" y1="769.05" x2="451.20" y2="820.05" stroke="#eb9084" stroke-width="1.1"/>
<line x1="495.20" y1="769.05" x2="514.65" y2="705.60" stroke="#eb9084" stroke-width="1.1"/>
<line x1="495.20" y1="769.05" x2="590.30" y2="761.85" stroke="#eb9084" stroke-width="1.1"/>
<line x1="495.20" y1="769.05" x2="579.30" y2="793.40" stroke="#eb9084" stroke-width="1.1"/>
<line x1="495.20" y1="769.05" x2="518.35" y2="731.40" stroke="#eb9084" stroke-width="1.1"/>
<line x1="495.20" y1="769.05" x2="514.20" y2="654.50" stroke="#eb9084" stroke-width="1.1"/>
<line x1="495.20" y1="769.05" x2="627.20" y2="726.25" stroke="#eb9084" stroke-width="1.1"/>
<line x1="508.20" y1="792.00" x2="451.20" y2="820.05" stroke="#eb9084" stroke-width="1.1"/>
<line x1="508.20" y1="792.00" x2="579.30" y2="793.40" stroke="#eb9084" stroke-width="1.1"/>
<line x1="508.20" y1="792.00" x2="446.00" y2="702.85" stroke="#eb9084" stroke-width="1.1"/>
<line x1="508.20" y1="792.00" x2="590.30" y2="761.85" stroke="#eb9084" stroke-width="1.1"/>
<line x1="508.20" y1="792.00" x2="514.65" y2="705.60" stroke="#eb9084" stroke-width="1.1"/>
<line x1="508.20" y1="792.00" x2="518.35" y2="731.40" stroke="#eb9084" stroke-width="1.1"/>
<line x1="596.40" y1="842.85" x2="629.80" y2="807.95" stroke="#eb9084" stroke-width="1.1"/>
<line x1="596.40" y1="842.85" x2="647.80" y2="841.05" stroke="#eb9084" stroke-width="1.1"/>
<line x1="596.40" y1="842.85" x2="647.80" y2="871.25" stroke="#eb9084" stroke-width="1.1"/>
<line x1="596.40" y1="842.85" x2="617.05" y2="894.60" stroke="#eb9084" stroke-width="1.1"/>
<line x1="596.40" y1="842.85" x2="565.40" y2="892.85" stroke="#eb9084" stroke-width="1.1"/>
<line x1="596.40" y1="842.85" x2="545.25" y2="868.30" stroke="#eb9084" stroke-width="1.1"/>
<line x1="596.40" y1="842.85" x2="551.40" y2="821.75" stroke="#eb9084" stroke-width="1.1"/>
<line x1="596.40" y1="842.85" x2="494.25" y2="839.05" stroke="#eb9084" stroke-width="1.1"/>
<line x1="596.40" y1="842.85" x2="579.30" y2="793.40" stroke="#eb9084" stroke-width="1.1"/>
<line x1="566.65" y1="643.35" x2="560.30" y2="681.15" stroke="#eb9084" stroke-width="1.1"/>
<line x1="560.65" y1="643.35" x2="553.00" y2="707.35" stroke="#eb9084" stroke-width="1.1"/>
<line x1="450.00" y1="657.90" x2="557.30" y2="681.15" stroke="#77b0d4" stroke-width="1.1"/>
<line x1="450.00" y1="657.90" x2="556.00" y2="707.35" stroke="#77b0d4" stroke-width="1.1"/>
<line x1="450.00" y1="657.90" x2="567.35" y2="729.85" stroke="#77b0d4" stroke-width="1.1"/>
<line x1="450.00" y1="657.90" x2="541.95" y2="757.45" stroke="#77b0d4" stroke-width="1.1"/>
<line x1="450.00" y1="657.90" x2="518.35" y2="731.40" stroke="#77b0d4" stroke-width="1.1"/>
<line x1="450.00" y1="657.90" x2="495.20" y2="769.05" stroke="#77b0d4" stroke-width="1.1"/>
<line x1="450.00" y1="657.90" x2="508.20" y2="792.00" stroke="#77b0d4" stroke-width="1.1"/>
<line x1="450.00" y1="657.90" x2="468.25" y2="750.10" stroke="#77b0d4" stroke-width="1.1"/>
<line x1="450.00" y1="657.90" x2="514.65" y2="705.60" stroke="#77b0d4" stroke-width="1.1"/>
<line x1="446.00" y1="702.85" x2="495.20" y2="769.05" stroke="#77b0d4" stroke-width="1.1"/>
<line x1="446.00" y1="702.85" x2="508.20" y2="792.00" stroke="#77b0d4" stroke-width="1.1"/>
<line x1="446.00" y1="702.85" x2="541.95" y2="757.45" stroke="#77b0d4" stroke-width="1.1"/>
<line x1="508.20" y1="792.00" x2="494.25" y2="839.05" stroke="#77b0d4" stroke-width="1.1"/>
<line x1="508.20" y1="792.00" x2="551.40" y2="821.75" stroke="#77b0d4" stroke-width="1.1"/>
<line x1="541.95" y1="757.45" x2="551.40" y2="821.75" stroke="#77b0d4" stroke-width="1.1"/>
<line x1="541.95" y1="757.45" x2="494.25" y2="839.05" stroke="#77b0d4" stroke-width="1.1"/>
<line x1="495.20" y1="769.05" x2="494.25" y2="839.05" stroke="#77b0d4" stroke-width="1.1"/>
<line x1="495.20" y1="769.05" x2="551.40" y2="821.75" stroke="#77b0d4" stroke-width="1.1"/>
<line x1="567.35" y1="729.85" x2="551.40" y2="821.75" stroke="#77b0d4" stroke-width="1.1"/>
<line x1="567.35" y1="729.85" x2="494.25" y2="839.05" stroke="#77b0d4" stroke-width="1.1"/>
<line x1="556.00" y1="707.35" x2="551.40" y2="821.75" stroke="#77b0d4" stroke-width="1.1"/>
<line x1="556.00" y1="707.35" x2="494.25" y2="839.05" stroke="#77b0d4" stroke-width="1.1"/>
<line x1="596.40" y1="842.85" x2="579.30" y2="793.40" stroke="#77b0d4" stroke-width="1.1"/>
<line x1="596.40" y1="842.85" x2="629.45" y2="756.05" stroke="#77b0d4" stroke-width="1.1"/>
<line x1="596.40" y1="842.85" x2="590.30" y2="761.85" stroke="#77b0d4" stroke-width="1.1"/>
<line x1="596.40" y1="842.85" x2="589.70" y2="921.20" stroke="#77b0d4" stroke-width="1.1"/>
<line x1="468.25" y1="750.10" x2="494.25" y2="839.05" stroke="#77b0d4" stroke-width="1.1"/>
<line x1="504.20" y1="792.00" x2="490.25" y2="839.05" stroke="#77b0d4" stroke-width="1.1"/>
<line x1="512.20" y1="792.00" x2="498.25" y2="839.05" stroke="#77b0d4" stroke-width="1.1"/>
<line x1="512.20" y1="792.00" x2="555.40" y2="821.75" stroke="#77b0d4" stroke-width="1.1"/>
</g>
<rect x="429.00" y="648.40" width="42.00" height="19.00" fill="#d5e3f3" stroke="none" stroke-width="0" rx="2.6"/>
<text x="450.80" y="660.80" font-size="8.0" fill="#1e1e1e" text-anchor="middle" textLength="29.21" lengthAdjust="spacingAndGlyphs">NCKAP1</text>
<rect x="493.20" y="645.00" width="42.00" height="19.00" fill="#d5e3f3" stroke="none" stroke-width="0" rx="2.6"/>
<text x="515.00" y="657.40" font-size="8.0" fill="#1e1e1e" text-anchor="middle" textLength="20.28" lengthAdjust="spacingAndGlyphs">PCCA</text>
<rect x="542.50" y="633.70" width="42.30" height="19.30" fill="#d5e3f3" stroke="none" stroke-width="0" rx="2.6"/>
<text x="564.45" y="646.25" font-size="8.0" fill="#1e1e1e" text-anchor="middle" textLength="29.21" lengthAdjust="spacingAndGlyphs">ADAM10</text>
<rect x="591.60" y="648.90" width="42.00" height="19.30" fill="#d5e3f3" stroke="none" stroke-width="0" rx="2.6"/>
<text x="613.40" y="661.45" font-size="8.0" fill="#1e1e1e" text-anchor="middle" textLength="23.94" lengthAdjust="spacingAndGlyphs">RAB1B</text>
<rect x="536.10" y="671.30" width="42.40" height="19.70" fill="#76998f" stroke="none" stroke-width="0" rx="2.6"/>
<text x="558.10" y="684.05" font-size="8.0" fill="#1e1e1e" text-anchor="middle" textLength="36.38" lengthAdjust="spacingAndGlyphs">PAFAH1B3</text>
<rect x="609.10" y="681.30" width="42.30" height="19.30" fill="#d5e3f3" stroke="none" stroke-width="0" rx="2.6"/>
<text x="631.05" y="693.85" font-size="8.0" fill="#1e1e1e" text-anchor="middle" textLength="27.19" lengthAdjust="spacingAndGlyphs">FKBP10</text>
<rect x="425.40" y="693.40" width="41.20" height="18.90" fill="#d5e3f3" stroke="none" stroke-width="0" rx="2.6"/>
<text x="446.80" y="705.75" font-size="8.0" fill="#1e1e1e" text-anchor="middle" textLength="14.2" lengthAdjust="spacingAndGlyphs">HK2</text>
<rect x="493.50" y="696.10" width="42.30" height="19.00" fill="#d5e3f3" stroke="none" stroke-width="0" rx="2.6"/>
<text x="515.45" y="708.50" font-size="8.0" fill="#1e1e1e" text-anchor="middle" textLength="25.55" lengthAdjust="spacingAndGlyphs">CXADR</text>
<rect x="535.00" y="697.90" width="42.00" height="18.90" fill="#76998f" stroke="none" stroke-width="0" rx="2.6"/>
<text x="556.80" y="710.25" font-size="8.0" fill="#1e1e1e" text-anchor="middle" textLength="19.07" lengthAdjust="spacingAndGlyphs">CLPP</text>
<rect x="606.20" y="716.60" width="42.00" height="19.30" fill="#d5e3f3" stroke="none" stroke-width="0" rx="2.6"/>
<text x="628.00" y="729.15" font-size="8.0" fill="#1e1e1e" text-anchor="middle" textLength="25.96" lengthAdjust="spacingAndGlyphs">RMDN3</text>
<rect x="497.00" y="722.00" width="42.70" height="18.80" fill="#d5e3f3" stroke="none" stroke-width="0" rx="2.6"/>
<text x="519.15" y="734.30" font-size="8.0" fill="#1e1e1e" text-anchor="middle" textLength="28.8" lengthAdjust="spacingAndGlyphs">TMED10</text>
<rect x="546.30" y="720.10" width="42.10" height="19.50" fill="#76998f" stroke="none" stroke-width="0" rx="2.6"/>
<text x="568.15" y="732.75" font-size="8.0" fill="#1e1e1e" text-anchor="middle" textLength="28.4" lengthAdjust="spacingAndGlyphs">ABHD10</text>
<rect x="408.70" y="730.70" width="42.00" height="19.20" fill="#76998f" stroke="none" stroke-width="0" rx="2.6"/>
<text x="430.50" y="743.20" font-size="8.0" fill="#1e1e1e" text-anchor="middle" textLength="23.13" lengthAdjust="spacingAndGlyphs">FAAH2</text>
<rect x="447.20" y="740.60" width="42.10" height="19.00" fill="#76998f" stroke="none" stroke-width="0" rx="2.6"/>
<text x="469.05" y="753.00" font-size="8.0" fill="#1e1e1e" text-anchor="middle" textLength="28.4" lengthAdjust="spacingAndGlyphs">ABHD12</text>
<rect x="608.40" y="746.40" width="42.10" height="19.30" fill="#d5e3f3" stroke="none" stroke-width="0" rx="2.6"/>
<text x="630.25" y="758.95" font-size="8.0" fill="#1e1e1e" text-anchor="middle" textLength="28.0" lengthAdjust="spacingAndGlyphs">VPS13C</text>
<rect x="520.90" y="747.80" width="42.10" height="19.30" fill="#76998f" stroke="none" stroke-width="0" rx="2.6"/>
<text x="542.75" y="760.35" font-size="8.0" fill="#1e1e1e" text-anchor="middle" textLength="33.27" lengthAdjust="spacingAndGlyphs">ABHD16A</text>
<rect x="569.30" y="752.20" width="42.00" height="19.30" fill="#d5e3f3" stroke="none" stroke-width="0" rx="2.6"/>
<text x="591.10" y="764.75" font-size="8.0" fill="#1e1e1e" text-anchor="middle" textLength="18.53" lengthAdjust="spacingAndGlyphs">RPA1</text>
<rect x="397.30" y="755.70" width="41.50" height="19.30" fill="#d5e3f3" stroke="none" stroke-width="0" rx="2.6"/>
<text x="418.85" y="768.25" font-size="8.0" fill="#1e1e1e" text-anchor="middle" textLength="25.15" lengthAdjust="spacingAndGlyphs">ACADS</text>
<rect x="474.20" y="759.60" width="42.00" height="18.90" fill="#76998f" stroke="none" stroke-width="0" rx="2.6"/>
<text x="496.00" y="771.95" font-size="8.0" fill="#1e1e1e" text-anchor="middle" textLength="26.24" lengthAdjust="spacingAndGlyphs">LYPLA2</text>
<rect x="420.40" y="781.70" width="42.60" height="19.20" fill="#d5e3f3" stroke="none" stroke-width="0" rx="2.6"/>
<text x="442.50" y="794.20" font-size="8.0" fill="#1e1e1e" text-anchor="middle" textLength="31.92" lengthAdjust="spacingAndGlyphs">OSBPL11</text>
<rect x="487.00" y="782.40" width="42.40" height="19.20" fill="#76998f" stroke="none" stroke-width="0" rx="2.6"/>
<text x="509.00" y="794.90" font-size="8.0" fill="#1e1e1e" text-anchor="middle" textLength="16.23" lengthAdjust="spacingAndGlyphs">IAH1</text>
<rect x="558.00" y="783.80" width="42.60" height="19.20" fill="#d5e3f3" stroke="none" stroke-width="0" rx="2.6"/>
<text x="580.10" y="796.30" font-size="8.0" fill="#1e1e1e" text-anchor="middle" textLength="18.66" lengthAdjust="spacingAndGlyphs">FLNA</text>
<rect x="608.80" y="798.30" width="42.00" height="19.30" fill="#d5e3f3" stroke="none" stroke-width="0" rx="2.6"/>
<text x="630.60" y="810.85" font-size="8.0" fill="#1e1e1e" text-anchor="middle" textLength="28.81" lengthAdjust="spacingAndGlyphs">ASRGL1</text>
<rect x="430.00" y="810.40" width="42.40" height="19.30" fill="#d5e3f3" stroke="none" stroke-width="0" rx="2.6"/>
<text x="452.00" y="822.95" font-size="8.0" fill="#1e1e1e" text-anchor="middle" textLength="29.21" lengthAdjust="spacingAndGlyphs">MAN2A1</text>
<rect x="530.30" y="812.10" width="42.20" height="19.30" fill="#d5e3f3" stroke="none" stroke-width="0" rx="2.6"/>
<text x="552.20" y="824.65" font-size="8.0" fill="#1e1e1e" text-anchor="middle" textLength="28.81" lengthAdjust="spacingAndGlyphs">PPP3CA</text>
<rect x="473.00" y="829.50" width="42.50" height="19.10" fill="#d5e3f3" stroke="none" stroke-width="0" rx="2.6"/>
<text x="495.05" y="841.95" font-size="8.0" fill="#1e1e1e" text-anchor="middle" textLength="19.07" lengthAdjust="spacingAndGlyphs">HBA1</text>
<rect x="575.20" y="833.30" width="42.40" height="19.10" fill="#76998f" stroke="none" stroke-width="0" rx="2.6"/>
<text x="597.20" y="845.75" font-size="8.0" fill="#1e1e1e" text-anchor="middle" textLength="19.07" lengthAdjust="spacingAndGlyphs">CES1</text>
<rect x="626.70" y="831.40" width="42.20" height="19.30" fill="#d5e3f3" stroke="none" stroke-width="0" rx="2.6"/>
<text x="648.60" y="843.95" font-size="8.0" fill="#1e1e1e" text-anchor="middle" textLength="15.0" lengthAdjust="spacingAndGlyphs">DUT</text>
<rect x="524.10" y="858.70" width="42.30" height="19.20" fill="#d5e3f3" stroke="none" stroke-width="0" rx="2.6"/>
<text x="546.05" y="871.20" font-size="8.0" fill="#1e1e1e" text-anchor="middle" textLength="20.54" lengthAdjust="spacingAndGlyphs">GATM</text>
<rect x="626.70" y="861.60" width="42.20" height="19.30" fill="#d5e3f3" stroke="none" stroke-width="0" rx="2.6"/>
<text x="648.60" y="874.15" font-size="8.0" fill="#1e1e1e" text-anchor="middle" textLength="24.74" lengthAdjust="spacingAndGlyphs">DDAH1</text>
<rect x="544.30" y="883.20" width="42.20" height="19.30" fill="#d5e3f3" stroke="none" stroke-width="0" rx="2.6"/>
<text x="566.20" y="895.75" font-size="8.0" fill="#1e1e1e" text-anchor="middle" textLength="20.42" lengthAdjust="spacingAndGlyphs">VWA1</text>
<rect x="596.00" y="885.00" width="42.10" height="19.20" fill="#d5e3f3" stroke="none" stroke-width="0" rx="2.6"/>
<text x="617.85" y="897.50" font-size="8.0" fill="#1e1e1e" text-anchor="middle" textLength="22.32" lengthAdjust="spacingAndGlyphs">RPL31</text>
<rect x="568.50" y="911.60" width="42.40" height="19.20" fill="#d5e3f3" stroke="none" stroke-width="0" rx="2.6"/>
<text x="590.50" y="924.10" font-size="8.0" fill="#1e1e1e" text-anchor="middle" textLength="28.8" lengthAdjust="spacingAndGlyphs">ENTPD1</text>
<polygon points="430.10,671.00 428.51,667.18 424.39,666.85 427.53,664.17 426.57,660.15 430.10,662.30 433.63,660.15 432.67,664.17 435.81,666.85 431.69,667.18" fill="#e2712a" stroke="#a9521b" stroke-width="0.4"/>
<polygon points="498.50,653.80 496.91,649.98 492.79,649.65 495.93,646.97 494.97,642.95 498.50,645.10 502.03,642.95 501.07,646.97 504.21,649.65 500.09,649.98" fill="#e2712a" stroke="#a9521b" stroke-width="0.4"/>
<polygon points="547.10,643.50 545.51,639.68 541.39,639.35 544.53,636.67 543.57,632.65 547.10,634.80 550.63,632.65 549.67,636.67 552.81,639.35 548.69,639.68" fill="#e2712a" stroke="#a9521b" stroke-width="0.4"/>
<polygon points="627.20,659.30 625.61,655.48 621.49,655.15 624.63,652.47 623.67,648.45 627.20,650.60 630.73,648.45 629.77,652.47 632.91,655.15 628.79,655.48" fill="#e2712a" stroke="#a9521b" stroke-width="0.4"/>
<polygon points="648.70,690.80 647.11,686.98 642.99,686.65 646.13,683.97 645.17,679.95 648.70,682.10 652.23,679.95 651.27,683.97 654.41,686.65 650.29,686.98" fill="#e2712a" stroke="#a9521b" stroke-width="0.4"/>
<polygon points="426.30,701.20 424.71,697.38 420.59,697.05 423.73,694.37 422.77,690.35 426.30,692.50 429.83,690.35 428.87,694.37 432.01,697.05 427.89,697.38" fill="#e2712a" stroke="#a9521b" stroke-width="0.4"/>
<polygon points="495.60,702.90 494.01,699.08 489.89,698.75 493.03,696.07 492.07,692.05 495.60,694.20 499.13,692.05 498.17,696.07 501.31,698.75 497.19,699.08" fill="#e2712a" stroke="#a9521b" stroke-width="0.4"/>
<polygon points="500.00,746.00 498.41,742.18 494.29,741.85 497.43,739.17 496.47,735.15 500.00,737.30 503.53,735.15 502.57,739.17 505.71,741.85 501.59,742.18" fill="#e2712a" stroke="#a9521b" stroke-width="0.4"/>
<polygon points="604.60,762.00 603.01,758.18 598.89,757.85 602.03,755.17 601.07,751.15 604.60,753.30 608.13,751.15 607.17,755.17 610.31,757.85 606.19,758.18" fill="#e2712a" stroke="#a9521b" stroke-width="0.4"/>
<polygon points="598.50,795.50 596.91,791.68 592.79,791.35 595.93,788.67 594.97,784.65 598.50,786.80 602.03,784.65 601.07,788.67 604.21,791.35 600.09,791.68" fill="#e2712a" stroke="#a9521b" stroke-width="0.4"/>
<polygon points="534.30,834.40 532.71,830.58 528.59,830.25 531.73,827.57 530.77,823.55 534.30,825.70 537.83,823.55 536.87,827.57 540.01,830.25 535.89,830.58" fill="#e2712a" stroke="#a9521b" stroke-width="0.4"/>
<polygon points="664.50,840.20 662.91,836.38 658.79,836.05 661.93,833.37 660.97,829.35 664.50,831.50 668.03,829.35 667.07,833.37 670.21,836.05 666.09,836.38" fill="#e2712a" stroke="#a9521b" stroke-width="0.4"/>
<polygon points="667.00,867.20 665.41,863.38 661.29,863.05 664.43,860.37 663.47,856.35 667.00,858.50 670.53,856.35 669.57,860.37 672.71,863.05 668.59,863.38" fill="#e2712a" stroke="#a9521b" stroke-width="0.4"/>
<polygon points="634.20,894.80 632.61,890.98 628.49,890.65 631.63,887.97 630.67,883.95 634.20,886.10 637.73,883.95 636.77,887.97 639.91,890.65 635.79,890.98" fill="#e2712a" stroke="#a9521b" stroke-width="0.4"/>
<polygon points="603.50,931.90 601.91,928.08 597.79,927.75 600.93,925.07 599.97,921.05 603.50,923.20 607.03,921.05 606.07,925.07 609.21,927.75 605.09,928.08" fill="#e2712a" stroke="#a9521b" stroke-width="0.4"/>
<polygon points="532.60,653.20 538.49,656.60 538.49,663.40 532.60,666.80 526.71,663.40 526.71,656.60" fill="#a7cbd9" stroke="#56707e" stroke-width="0.6"/>
<polygon points="576.90,694.50 582.79,697.90 582.79,704.70 576.90,708.10 571.01,704.70 571.01,697.90" fill="#a7cbd9" stroke="#56707e" stroke-width="0.6"/>
<polygon points="611.40,675.40 617.29,678.80 617.29,685.60 611.40,689.00 605.51,685.60 605.51,678.80" fill="#a7cbd9" stroke="#56707e" stroke-width="0.6"/>
<polygon points="425.00,705.70 430.89,709.10 430.89,715.90 425.00,719.30 419.11,715.90 419.11,709.10" fill="#a7cbd9" stroke="#56707e" stroke-width="0.6"/>
<polygon points="587.40,716.20 593.29,719.60 593.29,726.40 587.40,729.80 581.51,726.40 581.51,719.60" fill="#a7cbd9" stroke="#56707e" stroke-width="0.6"/>
<polygon points="608.80,710.70 614.69,714.10 614.69,720.90 608.80,724.30 602.91,720.90 602.91,714.10" fill="#a7cbd9" stroke="#56707e" stroke-width="0.6"/>
<polygon points="647.70,741.40 653.59,744.80 653.59,751.60 647.70,755.00 641.81,751.60 641.81,744.80" fill="#a7cbd9" stroke="#56707e" stroke-width="0.6"/>
<polygon points="402.90,768.20 408.79,771.60 408.79,778.40 402.90,781.80 397.01,778.40 397.01,771.60" fill="#a7cbd9" stroke="#56707e" stroke-width="0.6"/>
<polygon points="632.40,828.10 638.29,831.50 638.29,838.30 632.40,841.70 626.51,838.30 626.51,831.50" fill="#a7cbd9" stroke="#56707e" stroke-width="0.6"/>
<polygon points="525.20,850.50 531.09,853.90 531.09,860.70 525.20,864.10 519.31,860.70 519.31,853.90" fill="#a7cbd9" stroke="#56707e" stroke-width="0.6"/>
<polygon points="493.80,666.80 501.00,666.80 497.40,656.20" fill="#f3e51d" stroke="#8f8420" stroke-width="0.5"/>
<polygon points="406.30,738.60 413.50,738.60 409.90,728.00" fill="#f3e51d" stroke="#8f8420" stroke-width="0.5"/>
<polygon points="395.80,766.30 403.00,766.30 399.40,755.70" fill="#f3e51d" stroke="#8f8420" stroke-width="0.5"/>
<polygon points="607.80,842.50 615.00,842.50 611.40,831.90" fill="#f3e51d" stroke="#8f8420" stroke-width="0.5"/>
<rect x="399.60" y="870.40" width="104.00" height="60.80" fill="none" stroke="#e05a5a" stroke-width="1.0" rx="0"/>
<line x1="409.60" y1="902.90" x2="409.60" y2="884.50" stroke="#222" stroke-width="0.9"/>
<polygon points="407.60,886.00 411.60,886.00 409.60,880.60" fill="#222" stroke="none" stroke-width="0"/>
<text x="424.80" y="886.50" font-size="10.39" fill="#222" textLength="31.05" lengthAdjust="spacingAndGlyphs">Protein</text>
<text x="424.80" y="898.30" font-size="10.39" fill="#222" textLength="70.6" lengthAdjust="spacingAndGlyphs">depalmitoylation</text>
<text x="424.80" y="909.60" font-size="10.39" fill="#222" textLength="49.58" lengthAdjust="spacingAndGlyphs">deacylation</text>
<text x="426.00" y="923.00" font-size="10.39" fill="#222" font-style="italic" textLength="5.45" lengthAdjust="spacingAndGlyphs">p</text>
<text x="431.50" y="923.00" font-size="10.39" fill="#222" textLength="54.21" lengthAdjust="spacingAndGlyphs">-adjust=0.01</text>
</svg></body></html>
